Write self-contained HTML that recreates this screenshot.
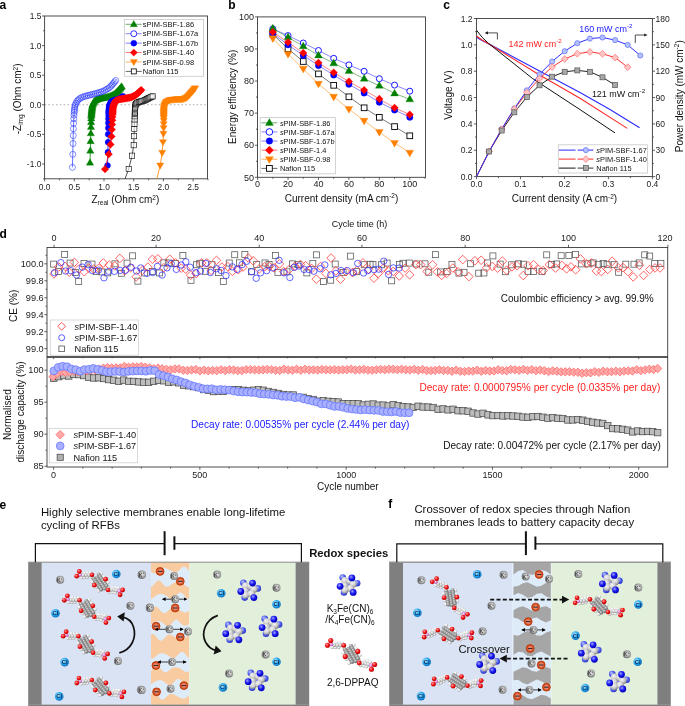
<!DOCTYPE html>
<html><head><meta charset="utf-8"><title>Figure</title>
<style>
html,body{margin:0;padding:0;background:#fff;}
svg{display:block;will-change:transform;}
svg text{font-family:"Liberation Sans", sans-serif;}
</style></head>
<body>
<svg width="685" height="706" viewBox="0 0 685 706">
<defs>
<radialGradient id="gK" cx="0.55" cy="0.45" r="0.65"><stop offset="0" stop-color="#e8e8e8"/><stop offset="0.5" stop-color="#b0b0b0"/><stop offset="1" stop-color="#505050"/></radialGradient>
<radialGradient id="gCl" cx="0.38" cy="0.35" r="0.7"><stop offset="0" stop-color="#b8e8ff"/><stop offset="0.5" stop-color="#2aa8f0"/><stop offset="1" stop-color="#0a6fc0"/></radialGradient>
<radialGradient id="gS" cx="0.5" cy="0.5" r="0.5"><stop offset="0" stop-color="#f6b0a0"/><stop offset="0.55" stop-color="#e87050"/><stop offset="1" stop-color="#b83808"/></radialGradient>
<radialGradient id="gC" cx="0.38" cy="0.35" r="0.7"><stop offset="0" stop-color="#d8d8d8"/><stop offset="0.5" stop-color="#959595"/><stop offset="1" stop-color="#5a5a5a"/></radialGradient>
<radialGradient id="gH" cx="0.38" cy="0.35" r="0.7"><stop offset="0" stop-color="#ffffff"/><stop offset="0.55" stop-color="#e6e6e6"/><stop offset="1" stop-color="#8c8c8c"/></radialGradient>
<radialGradient id="gO" cx="0.38" cy="0.35" r="0.7"><stop offset="0" stop-color="#ffa0a0"/><stop offset="0.5" stop-color="#f01010"/><stop offset="1" stop-color="#b00000"/></radialGradient>
<radialGradient id="gN" cx="0.38" cy="0.35" r="0.7"><stop offset="0" stop-color="#a0a0ff"/><stop offset="0.5" stop-color="#1818f0"/><stop offset="1" stop-color="#0000b0"/></radialGradient>
<radialGradient id="gN2" cx="0.38" cy="0.35" r="0.7"><stop offset="0" stop-color="#c0c8ff"/><stop offset="0.5" stop-color="#5060f0"/><stop offset="1" stop-color="#2830c0"/></radialGradient>
<radialGradient id="gP" cx="0.38" cy="0.35" r="0.7"><stop offset="0" stop-color="#ffd8ff"/><stop offset="0.5" stop-color="#e090e0"/><stop offset="1" stop-color="#a050a0"/></radialGradient>
<radialGradient id="gW" cx="0.38" cy="0.35" r="0.7"><stop offset="0" stop-color="#f4f4f4"/><stop offset="0.55" stop-color="#cfcfcf"/><stop offset="1" stop-color="#808080"/></radialGradient>
<marker id="ah" viewBox="0 0 10 10" refX="9" refY="5" markerWidth="4" markerHeight="4" orient="auto-start-reverse"><path d="M0 0 L10 5 L0 10 Z" fill="#111"/></marker>
<marker id="ah2" viewBox="0 0 10 10" refX="8" refY="5" markerWidth="4.6" markerHeight="4.6" orient="auto-start-reverse"><path d="M0 0 L10 5 L0 10 Z" fill="#000"/></marker>

<clipPath id="clipF"><rect x="512" y="562.2" width="40" height="142.5"/></clipPath>
<clipPath id="clipA"><rect x="44.6" y="16.0" width="162.9" height="162.8"/></clipPath>
<clipPath id="clipC"><rect x="476.5" y="18.5" width="175.89999999999998" height="158.1"/></clipPath>
<clipPath id="clipD1"><rect x="47.0" y="247.5" width="620.7" height="109.5"/></clipPath>
<clipPath id="clipD2"><rect x="47.0" y="357.0" width="620.7" height="110.0"/></clipPath>
</defs>
<rect x="0" y="0" width="685" height="706" fill="#fff"/>
<text x="-0.4" y="8.9" font-size="12" text-anchor="start" fill="#000" font-weight="bold">a</text>
<text x="228.3" y="8.9" font-size="12" text-anchor="start" fill="#000" font-weight="bold">b</text>
<text x="443.3" y="8.9" font-size="12" text-anchor="start" fill="#000" font-weight="bold">c</text>
<text x="-0.4" y="238.1" font-size="12" text-anchor="start" fill="#000" font-weight="bold">d</text>
<text x="-0.4" y="509.1" font-size="12" text-anchor="start" fill="#000" font-weight="bold">e</text>
<text x="388.3" y="508.2" font-size="12" text-anchor="start" fill="#000" font-weight="bold">f</text>
<line x1="44.6" y1="104.8" x2="207.5" y2="104.8" stroke="#b0b0b0" stroke-width="1.1" stroke-dasharray="1.6,2.2"/>
<rect x="44.6" y="16" width="162.9" height="162.8" fill="none" stroke="#3a3a3a" stroke-width="0.9"/>
<line x1="44.6" y1="178.8" x2="44.6" y2="181.4" stroke="#3a3a3a" stroke-width="0.8"/>
<text x="44.6" y="190.2" font-size="8.4" text-anchor="middle" fill="#222">0.0</text>
<line x1="59.45" y1="178.8" x2="59.45" y2="180.3" stroke="#3a3a3a" stroke-width="0.8"/>
<line x1="74.3" y1="178.8" x2="74.3" y2="181.4" stroke="#3a3a3a" stroke-width="0.8"/>
<text x="74.3" y="190.2" font-size="8.4" text-anchor="middle" fill="#222">0.5</text>
<line x1="89.15" y1="178.8" x2="89.15" y2="180.3" stroke="#3a3a3a" stroke-width="0.8"/>
<line x1="104" y1="178.8" x2="104" y2="181.4" stroke="#3a3a3a" stroke-width="0.8"/>
<text x="104" y="190.2" font-size="8.4" text-anchor="middle" fill="#222">1.0</text>
<line x1="118.85" y1="178.8" x2="118.85" y2="180.3" stroke="#3a3a3a" stroke-width="0.8"/>
<line x1="133.7" y1="178.8" x2="133.7" y2="181.4" stroke="#3a3a3a" stroke-width="0.8"/>
<text x="133.7" y="190.2" font-size="8.4" text-anchor="middle" fill="#222">1.5</text>
<line x1="148.55" y1="178.8" x2="148.55" y2="180.3" stroke="#3a3a3a" stroke-width="0.8"/>
<line x1="163.4" y1="178.8" x2="163.4" y2="181.4" stroke="#3a3a3a" stroke-width="0.8"/>
<text x="163.4" y="190.2" font-size="8.4" text-anchor="middle" fill="#222">2.0</text>
<line x1="178.25" y1="178.8" x2="178.25" y2="180.3" stroke="#3a3a3a" stroke-width="0.8"/>
<line x1="193.1" y1="178.8" x2="193.1" y2="181.4" stroke="#3a3a3a" stroke-width="0.8"/>
<text x="193.1" y="190.2" font-size="8.4" text-anchor="middle" fill="#222">2.5</text>
<line x1="207.95" y1="178.8" x2="207.95" y2="180.3" stroke="#3a3a3a" stroke-width="0.8"/>
<line x1="43.1" y1="178.8" x2="44.6" y2="178.8" stroke="#3a3a3a" stroke-width="0.8"/>
<line x1="42" y1="164" x2="44.6" y2="164" stroke="#3a3a3a" stroke-width="0.8"/>
<text x="41.3" y="167" font-size="8.4" text-anchor="end" fill="#222">-1.0</text>
<line x1="43.1" y1="149.2" x2="44.6" y2="149.2" stroke="#3a3a3a" stroke-width="0.8"/>
<line x1="42" y1="134.4" x2="44.6" y2="134.4" stroke="#3a3a3a" stroke-width="0.8"/>
<text x="41.3" y="137.4" font-size="8.4" text-anchor="end" fill="#222">-0.5</text>
<line x1="43.1" y1="119.6" x2="44.6" y2="119.6" stroke="#3a3a3a" stroke-width="0.8"/>
<line x1="42" y1="104.8" x2="44.6" y2="104.8" stroke="#3a3a3a" stroke-width="0.8"/>
<text x="41.3" y="107.8" font-size="8.4" text-anchor="end" fill="#222">0.0</text>
<line x1="43.1" y1="90" x2="44.6" y2="90" stroke="#3a3a3a" stroke-width="0.8"/>
<line x1="42" y1="75.2" x2="44.6" y2="75.2" stroke="#3a3a3a" stroke-width="0.8"/>
<text x="41.3" y="78.2" font-size="8.4" text-anchor="end" fill="#222">0.5</text>
<line x1="43.1" y1="60.4" x2="44.6" y2="60.4" stroke="#3a3a3a" stroke-width="0.8"/>
<line x1="42" y1="45.6" x2="44.6" y2="45.6" stroke="#3a3a3a" stroke-width="0.8"/>
<text x="41.3" y="48.6" font-size="8.4" text-anchor="end" fill="#222">1.0</text>
<line x1="43.1" y1="30.8" x2="44.6" y2="30.8" stroke="#3a3a3a" stroke-width="0.8"/>
<line x1="42" y1="16" x2="44.6" y2="16" stroke="#3a3a3a" stroke-width="0.8"/>
<text x="41.3" y="19" font-size="8.4" text-anchor="end" fill="#222">1.5</text>
<text x="91.5" y="203.4" font-size="10" fill="#111">Z<tspan font-size="6.5" dy="2">real</tspan><tspan dy="-2"> (Ohm cm</tspan><tspan font-size="6.5" dy="-3.5">2</tspan><tspan dy="3.5">)</tspan></text>
<text transform="translate(21.4 134.3) rotate(-90)" font-size="10" fill="#111">-Z<tspan font-size="6.5" dy="2">img</tspan><tspan dy="-2"> (Ohm cm</tspan><tspan font-size="6.5" dy="-3.5">2</tspan><tspan dy="3.5">)</tspan></text>
<g clip-path="url(#clipA)">
<polyline points="90,162.7 90.3,150.8 90.6,141.2 90.8,133.4 91,127 91.1,122.2 91.2,118.5 91.3,116 91.39,114.9 91.48,113.81 91.57,112.71 91.67,111.62 91.76,110.52 91.88,109.43 92.03,108.34 92.19,107.25 92.34,106.16 92.49,105.07 92.98,104.09 93.49,103.11 94,102.14 94.53,101.18 95.49,100.64 96.44,100.09 97.4,99.54 98.4,99.12 99.48,98.9 100.55,98.69 101.63,98.47 102.71,98.26 103.79,98.04 104.86,97.79 105.93,97.52 106.99,97.25 108.06,96.98 109.13,96.72 110.18,96.41 111.16,95.92 112.15,95.43 113.13,94.93 114.12,94.44 115.08,93.92 115.86,93.14 116.63,92.37 117.41,91.59 118.19,90.81 118.97,90.03 119.66,89.18 120.35,88.32 121.03,87.46 121.72,86.6" fill="none" stroke="#008000" stroke-width="0.8"/>
<path d="M90 158.73L93.7 165.13L86.3 165.13Z" fill="#008000" stroke="#008000" stroke-width="0.3"/>
<path d="M90.3 146.83L94 153.23L86.6 153.23Z" fill="#008000" stroke="#008000" stroke-width="0.3"/>
<path d="M90.6 137.23L94.3 143.63L86.9 143.63Z" fill="#008000" stroke="#008000" stroke-width="0.3"/>
<path d="M90.8 129.43L94.5 135.83L87.1 135.83Z" fill="#008000" stroke="#008000" stroke-width="0.3"/>
<path d="M91 123.03L94.7 129.43L87.3 129.43Z" fill="#008000" stroke="#008000" stroke-width="0.3"/>
<path d="M91.1 118.23L94.8 124.63L87.4 124.63Z" fill="#008000" stroke="#008000" stroke-width="0.3"/>
<path d="M91.2 114.53L94.9 120.93L87.5 120.93Z" fill="#008000" stroke="#008000" stroke-width="0.3"/>
<path d="M91.3 112.03L95 118.43L87.6 118.43Z" fill="#008000" stroke="#008000" stroke-width="0.3"/>
<path d="M91.39 110.94L95.09 117.34L87.69 117.34Z" fill="#008000" stroke="#008000" stroke-width="0.3"/>
<path d="M91.48 109.84L95.18 116.24L87.78 116.24Z" fill="#008000" stroke="#008000" stroke-width="0.3"/>
<path d="M91.57 108.74L95.27 115.14L87.87 115.14Z" fill="#008000" stroke="#008000" stroke-width="0.3"/>
<path d="M91.67 107.65L95.37 114.05L87.97 114.05Z" fill="#008000" stroke="#008000" stroke-width="0.3"/>
<path d="M91.76 106.55L95.46 112.95L88.06 112.95Z" fill="#008000" stroke="#008000" stroke-width="0.3"/>
<path d="M91.88 105.46L95.58 111.86L88.18 111.86Z" fill="#008000" stroke="#008000" stroke-width="0.3"/>
<path d="M92.03 104.37L95.73 110.77L88.33 110.77Z" fill="#008000" stroke="#008000" stroke-width="0.3"/>
<path d="M92.19 103.28L95.89 109.68L88.49 109.68Z" fill="#008000" stroke="#008000" stroke-width="0.3"/>
<path d="M92.34 102.19L96.04 108.59L88.64 108.59Z" fill="#008000" stroke="#008000" stroke-width="0.3"/>
<path d="M92.49 101.1L96.19 107.5L88.79 107.5Z" fill="#008000" stroke="#008000" stroke-width="0.3"/>
<path d="M92.98 100.12L96.68 106.52L89.28 106.52Z" fill="#008000" stroke="#008000" stroke-width="0.3"/>
<path d="M93.49 99.15L97.19 105.55L89.79 105.55Z" fill="#008000" stroke="#008000" stroke-width="0.3"/>
<path d="M94 98.17L97.7 104.57L90.3 104.57Z" fill="#008000" stroke="#008000" stroke-width="0.3"/>
<path d="M94.53 97.21L98.23 103.61L90.83 103.61Z" fill="#008000" stroke="#008000" stroke-width="0.3"/>
<path d="M95.49 96.67L99.19 103.07L91.79 103.07Z" fill="#008000" stroke="#008000" stroke-width="0.3"/>
<path d="M96.44 96.12L100.14 102.52L92.74 102.52Z" fill="#008000" stroke="#008000" stroke-width="0.3"/>
<path d="M97.4 95.58L101.1 101.98L93.7 101.98Z" fill="#008000" stroke="#008000" stroke-width="0.3"/>
<path d="M98.4 95.15L102.1 101.55L94.7 101.55Z" fill="#008000" stroke="#008000" stroke-width="0.3"/>
<path d="M99.48 94.94L103.18 101.34L95.78 101.34Z" fill="#008000" stroke="#008000" stroke-width="0.3"/>
<path d="M100.55 94.72L104.25 101.12L96.85 101.12Z" fill="#008000" stroke="#008000" stroke-width="0.3"/>
<path d="M101.63 94.5L105.33 100.91L97.93 100.91Z" fill="#008000" stroke="#008000" stroke-width="0.3"/>
<path d="M102.71 94.29L106.41 100.69L99.01 100.69Z" fill="#008000" stroke="#008000" stroke-width="0.3"/>
<path d="M103.79 94.07L107.49 100.47L100.09 100.47Z" fill="#008000" stroke="#008000" stroke-width="0.3"/>
<path d="M104.86 93.82L108.56 100.22L101.16 100.22Z" fill="#008000" stroke="#008000" stroke-width="0.3"/>
<path d="M105.93 93.55L109.63 99.95L102.23 99.95Z" fill="#008000" stroke="#008000" stroke-width="0.3"/>
<path d="M106.99 93.28L110.69 99.68L103.29 99.68Z" fill="#008000" stroke="#008000" stroke-width="0.3"/>
<path d="M108.06 93.02L111.76 99.42L104.36 99.42Z" fill="#008000" stroke="#008000" stroke-width="0.3"/>
<path d="M109.13 92.75L112.83 99.15L105.43 99.15Z" fill="#008000" stroke="#008000" stroke-width="0.3"/>
<path d="M110.18 92.44L113.88 98.84L106.48 98.84Z" fill="#008000" stroke="#008000" stroke-width="0.3"/>
<path d="M111.16 91.95L114.86 98.35L107.46 98.35Z" fill="#008000" stroke="#008000" stroke-width="0.3"/>
<path d="M112.15 91.46L115.85 97.86L108.45 97.86Z" fill="#008000" stroke="#008000" stroke-width="0.3"/>
<path d="M113.13 90.97L116.83 97.37L109.43 97.37Z" fill="#008000" stroke="#008000" stroke-width="0.3"/>
<path d="M114.12 90.47L117.82 96.87L110.42 96.87Z" fill="#008000" stroke="#008000" stroke-width="0.3"/>
<path d="M115.08 89.95L118.78 96.35L111.38 96.35Z" fill="#008000" stroke="#008000" stroke-width="0.3"/>
<path d="M115.86 89.17L119.56 95.58L112.16 95.58Z" fill="#008000" stroke="#008000" stroke-width="0.3"/>
<path d="M116.63 88.4L120.33 94.8L112.93 94.8Z" fill="#008000" stroke="#008000" stroke-width="0.3"/>
<path d="M117.41 87.62L121.11 94.02L113.71 94.02Z" fill="#008000" stroke="#008000" stroke-width="0.3"/>
<path d="M118.19 86.84L121.89 93.24L114.49 93.24Z" fill="#008000" stroke="#008000" stroke-width="0.3"/>
<path d="M118.97 86.06L122.67 92.46L115.27 92.46Z" fill="#008000" stroke="#008000" stroke-width="0.3"/>
<path d="M119.66 85.21L123.36 91.61L115.96 91.61Z" fill="#008000" stroke="#008000" stroke-width="0.3"/>
<path d="M120.35 84.35L124.05 90.75L116.65 90.75Z" fill="#008000" stroke="#008000" stroke-width="0.3"/>
<path d="M121.03 83.49L124.73 89.89L117.33 89.89Z" fill="#008000" stroke="#008000" stroke-width="0.3"/>
<path d="M121.72 82.63L125.42 89.03L118.02 89.03Z" fill="#008000" stroke="#008000" stroke-width="0.3"/>
<polyline points="72.4,167.3 72.8,154.3 73,143.5 73.2,135.6 73.4,128.8 73.6,123.2 73.8,118.8 74,115.2 74.2,112.5 74.37,110.61 74.54,108.71 74.83,106.84 75.21,104.98 75.99,103.25 76.77,101.51 77.99,100.11 79.41,98.83 81,97.85 82.74,97.07 84.5,96.38 86.34,95.91 88.19,95.45 90.03,94.99 91.87,94.53 93.72,94.07 95.56,93.61 97.38,93.08 99.2,92.54 101.02,91.99 102.77,91.25 104.52,90.5 106.19,89.61 107.84,88.67 109.4,87.6 110.74,86.26 112.09,84.91 113.31,83.47 114.49,81.97 115.66,80.48" fill="none" stroke="#2030ff" stroke-width="0.7"/>
<circle cx="72.4" cy="167.3" r="3" fill="none" stroke="#2030ff" stroke-width="0.55"/>
<circle cx="72.8" cy="154.3" r="3" fill="none" stroke="#2030ff" stroke-width="0.55"/>
<circle cx="73" cy="143.5" r="3" fill="none" stroke="#2030ff" stroke-width="0.55"/>
<circle cx="73.2" cy="135.6" r="3" fill="none" stroke="#2030ff" stroke-width="0.55"/>
<circle cx="73.4" cy="128.8" r="3" fill="none" stroke="#2030ff" stroke-width="0.55"/>
<circle cx="73.6" cy="123.2" r="3" fill="none" stroke="#2030ff" stroke-width="0.55"/>
<circle cx="73.8" cy="118.8" r="3" fill="none" stroke="#2030ff" stroke-width="0.55"/>
<circle cx="74" cy="115.2" r="3" fill="none" stroke="#2030ff" stroke-width="0.55"/>
<circle cx="74.2" cy="112.5" r="3" fill="none" stroke="#2030ff" stroke-width="0.55"/>
<circle cx="74.37" cy="110.61" r="3" fill="none" stroke="#2030ff" stroke-width="0.55"/>
<circle cx="74.54" cy="108.71" r="3" fill="none" stroke="#2030ff" stroke-width="0.55"/>
<circle cx="74.83" cy="106.84" r="3" fill="none" stroke="#2030ff" stroke-width="0.55"/>
<circle cx="75.21" cy="104.98" r="3" fill="none" stroke="#2030ff" stroke-width="0.55"/>
<circle cx="75.99" cy="103.25" r="3" fill="none" stroke="#2030ff" stroke-width="0.55"/>
<circle cx="76.77" cy="101.51" r="3" fill="none" stroke="#2030ff" stroke-width="0.55"/>
<circle cx="77.99" cy="100.11" r="3" fill="none" stroke="#2030ff" stroke-width="0.55"/>
<circle cx="79.41" cy="98.83" r="3" fill="none" stroke="#2030ff" stroke-width="0.55"/>
<circle cx="81" cy="97.85" r="3" fill="none" stroke="#2030ff" stroke-width="0.55"/>
<circle cx="82.74" cy="97.07" r="3" fill="none" stroke="#2030ff" stroke-width="0.55"/>
<circle cx="84.5" cy="96.38" r="3" fill="none" stroke="#2030ff" stroke-width="0.55"/>
<circle cx="86.34" cy="95.91" r="3" fill="none" stroke="#2030ff" stroke-width="0.55"/>
<circle cx="88.19" cy="95.45" r="3" fill="none" stroke="#2030ff" stroke-width="0.55"/>
<circle cx="90.03" cy="94.99" r="3" fill="none" stroke="#2030ff" stroke-width="0.55"/>
<circle cx="91.87" cy="94.53" r="3" fill="none" stroke="#2030ff" stroke-width="0.55"/>
<circle cx="93.72" cy="94.07" r="3" fill="none" stroke="#2030ff" stroke-width="0.55"/>
<circle cx="95.56" cy="93.61" r="3" fill="none" stroke="#2030ff" stroke-width="0.55"/>
<circle cx="97.38" cy="93.08" r="3" fill="none" stroke="#2030ff" stroke-width="0.55"/>
<circle cx="99.2" cy="92.54" r="3" fill="none" stroke="#2030ff" stroke-width="0.55"/>
<circle cx="101.02" cy="91.99" r="3" fill="none" stroke="#2030ff" stroke-width="0.55"/>
<circle cx="102.77" cy="91.25" r="3" fill="none" stroke="#2030ff" stroke-width="0.55"/>
<circle cx="104.52" cy="90.5" r="3" fill="none" stroke="#2030ff" stroke-width="0.55"/>
<circle cx="106.19" cy="89.61" r="3" fill="none" stroke="#2030ff" stroke-width="0.55"/>
<circle cx="107.84" cy="88.67" r="3" fill="none" stroke="#2030ff" stroke-width="0.55"/>
<circle cx="109.4" cy="87.6" r="3" fill="none" stroke="#2030ff" stroke-width="0.55"/>
<circle cx="110.74" cy="86.26" r="3" fill="none" stroke="#2030ff" stroke-width="0.55"/>
<circle cx="112.09" cy="84.91" r="3" fill="none" stroke="#2030ff" stroke-width="0.55"/>
<circle cx="113.31" cy="83.47" r="3" fill="none" stroke="#2030ff" stroke-width="0.55"/>
<circle cx="114.49" cy="81.97" r="3" fill="none" stroke="#2030ff" stroke-width="0.55"/>
<circle cx="115.66" cy="80.48" r="3" fill="none" stroke="#2030ff" stroke-width="0.55"/>
<polyline points="107.5,165.6 107.9,152.2 108.1,142.3 108.2,134.2 108.3,128 108.4,123 108.5,119 108.6,116 108.7,113.5 108.75,112.4 108.8,111.3 108.85,110.2 108.9,109.1 109.05,108.02 109.21,106.93 109.37,105.84 109.62,104.78 110.17,103.83 110.72,102.87 111.26,101.92 112.07,101.26 113.08,100.82 114.09,100.39 115.11,99.97 116.18,99.71 117.24,99.44 118.31,99.17 119.33,98.8 120.28,98.23 121.22,97.67 122.14,97.07 122.94,96.32" fill="none" stroke="#0000FF" stroke-width="0.8"/>
<circle cx="107.5" cy="165.6" r="3" fill="#0000FF" stroke="#0000FF" stroke-width="0.3"/>
<circle cx="107.9" cy="152.2" r="3" fill="#0000FF" stroke="#0000FF" stroke-width="0.3"/>
<circle cx="108.1" cy="142.3" r="3" fill="#0000FF" stroke="#0000FF" stroke-width="0.3"/>
<circle cx="108.2" cy="134.2" r="3" fill="#0000FF" stroke="#0000FF" stroke-width="0.3"/>
<circle cx="108.3" cy="128" r="3" fill="#0000FF" stroke="#0000FF" stroke-width="0.3"/>
<circle cx="108.4" cy="123" r="3" fill="#0000FF" stroke="#0000FF" stroke-width="0.3"/>
<circle cx="108.5" cy="119" r="3" fill="#0000FF" stroke="#0000FF" stroke-width="0.3"/>
<circle cx="108.6" cy="116" r="3" fill="#0000FF" stroke="#0000FF" stroke-width="0.3"/>
<circle cx="108.7" cy="113.5" r="3" fill="#0000FF" stroke="#0000FF" stroke-width="0.3"/>
<circle cx="108.75" cy="112.4" r="3" fill="#0000FF" stroke="#0000FF" stroke-width="0.3"/>
<circle cx="108.8" cy="111.3" r="3" fill="#0000FF" stroke="#0000FF" stroke-width="0.3"/>
<circle cx="108.85" cy="110.2" r="3" fill="#0000FF" stroke="#0000FF" stroke-width="0.3"/>
<circle cx="108.9" cy="109.1" r="3" fill="#0000FF" stroke="#0000FF" stroke-width="0.3"/>
<circle cx="109.05" cy="108.02" r="3" fill="#0000FF" stroke="#0000FF" stroke-width="0.3"/>
<circle cx="109.21" cy="106.93" r="3" fill="#0000FF" stroke="#0000FF" stroke-width="0.3"/>
<circle cx="109.37" cy="105.84" r="3" fill="#0000FF" stroke="#0000FF" stroke-width="0.3"/>
<circle cx="109.62" cy="104.78" r="3" fill="#0000FF" stroke="#0000FF" stroke-width="0.3"/>
<circle cx="110.17" cy="103.83" r="3" fill="#0000FF" stroke="#0000FF" stroke-width="0.3"/>
<circle cx="110.72" cy="102.87" r="3" fill="#0000FF" stroke="#0000FF" stroke-width="0.3"/>
<circle cx="111.26" cy="101.92" r="3" fill="#0000FF" stroke="#0000FF" stroke-width="0.3"/>
<circle cx="112.07" cy="101.26" r="3" fill="#0000FF" stroke="#0000FF" stroke-width="0.3"/>
<circle cx="113.08" cy="100.82" r="3" fill="#0000FF" stroke="#0000FF" stroke-width="0.3"/>
<circle cx="114.09" cy="100.39" r="3" fill="#0000FF" stroke="#0000FF" stroke-width="0.3"/>
<circle cx="115.11" cy="99.97" r="3" fill="#0000FF" stroke="#0000FF" stroke-width="0.3"/>
<circle cx="116.18" cy="99.71" r="3" fill="#0000FF" stroke="#0000FF" stroke-width="0.3"/>
<circle cx="117.24" cy="99.44" r="3" fill="#0000FF" stroke="#0000FF" stroke-width="0.3"/>
<circle cx="118.31" cy="99.17" r="3" fill="#0000FF" stroke="#0000FF" stroke-width="0.3"/>
<circle cx="119.33" cy="98.8" r="3" fill="#0000FF" stroke="#0000FF" stroke-width="0.3"/>
<circle cx="120.28" cy="98.23" r="3" fill="#0000FF" stroke="#0000FF" stroke-width="0.3"/>
<circle cx="121.22" cy="97.67" r="3" fill="#0000FF" stroke="#0000FF" stroke-width="0.3"/>
<circle cx="122.14" cy="97.07" r="3" fill="#0000FF" stroke="#0000FF" stroke-width="0.3"/>
<circle cx="122.94" cy="96.32" r="3" fill="#0000FF" stroke="#0000FF" stroke-width="0.3"/>
<polyline points="105,169.2 108.7,154.2 110.5,144.4 111.5,136.4 111.8,129.6 112.1,124.5 112.3,120.3 112.4,117 112.5,114.5 112.56,113.4 112.62,112.3 112.68,111.2 112.74,110.11 112.8,109.01 112.99,107.92 113.18,106.84 113.37,105.76 113.65,104.7 114.14,103.72 114.63,102.74 115.12,101.75 115.74,100.89 116.74,100.44 117.74,99.98 118.74,99.52 119.8,99.27 120.88,99.09 121.97,98.91 123.05,98.72 124.14,98.54 125.22,98.36 126.31,98.18 127.39,98 128.48,97.82 129.56,97.64 130.65,97.46 131.67,97.07 132.66,96.59 133.65,96.11 134.63,95.62 135.6,95.11 136.45,94.41 137.3,93.71 138.15,93.01 138.99,92.31 139.76,91.52 140.52,90.72 141.29,89.93" fill="none" stroke="#FF0000" stroke-width="0.8"/>
<path d="M105 165.4L108.8 169.2L105 173L101.2 169.2Z" fill="#FF0000" stroke="#FF0000" stroke-width="0.3"/>
<path d="M108.7 150.4L112.5 154.2L108.7 158L104.9 154.2Z" fill="#FF0000" stroke="#FF0000" stroke-width="0.3"/>
<path d="M110.5 140.6L114.3 144.4L110.5 148.2L106.7 144.4Z" fill="#FF0000" stroke="#FF0000" stroke-width="0.3"/>
<path d="M111.5 132.6L115.3 136.4L111.5 140.2L107.7 136.4Z" fill="#FF0000" stroke="#FF0000" stroke-width="0.3"/>
<path d="M111.8 125.8L115.6 129.6L111.8 133.4L108 129.6Z" fill="#FF0000" stroke="#FF0000" stroke-width="0.3"/>
<path d="M112.1 120.7L115.9 124.5L112.1 128.3L108.3 124.5Z" fill="#FF0000" stroke="#FF0000" stroke-width="0.3"/>
<path d="M112.3 116.5L116.1 120.3L112.3 124.1L108.5 120.3Z" fill="#FF0000" stroke="#FF0000" stroke-width="0.3"/>
<path d="M112.4 113.2L116.2 117L112.4 120.8L108.6 117Z" fill="#FF0000" stroke="#FF0000" stroke-width="0.3"/>
<path d="M112.5 110.7L116.3 114.5L112.5 118.3L108.7 114.5Z" fill="#FF0000" stroke="#FF0000" stroke-width="0.3"/>
<path d="M112.56 109.6L116.36 113.4L112.56 117.2L108.76 113.4Z" fill="#FF0000" stroke="#FF0000" stroke-width="0.3"/>
<path d="M112.62 108.5L116.42 112.3L112.62 116.1L108.82 112.3Z" fill="#FF0000" stroke="#FF0000" stroke-width="0.3"/>
<path d="M112.68 107.4L116.48 111.2L112.68 115L108.88 111.2Z" fill="#FF0000" stroke="#FF0000" stroke-width="0.3"/>
<path d="M112.74 106.31L116.54 110.11L112.74 113.91L108.94 110.11Z" fill="#FF0000" stroke="#FF0000" stroke-width="0.3"/>
<path d="M112.8 105.21L116.6 109.01L112.8 112.81L109 109.01Z" fill="#FF0000" stroke="#FF0000" stroke-width="0.3"/>
<path d="M112.99 104.12L116.79 107.92L112.99 111.72L109.19 107.92Z" fill="#FF0000" stroke="#FF0000" stroke-width="0.3"/>
<path d="M113.18 103.04L116.98 106.84L113.18 110.64L109.38 106.84Z" fill="#FF0000" stroke="#FF0000" stroke-width="0.3"/>
<path d="M113.37 101.96L117.17 105.76L113.37 109.56L109.57 105.76Z" fill="#FF0000" stroke="#FF0000" stroke-width="0.3"/>
<path d="M113.65 100.9L117.45 104.7L113.65 108.5L109.85 104.7Z" fill="#FF0000" stroke="#FF0000" stroke-width="0.3"/>
<path d="M114.14 99.92L117.94 103.72L114.14 107.52L110.34 103.72Z" fill="#FF0000" stroke="#FF0000" stroke-width="0.3"/>
<path d="M114.63 98.94L118.43 102.74L114.63 106.54L110.83 102.74Z" fill="#FF0000" stroke="#FF0000" stroke-width="0.3"/>
<path d="M115.12 97.95L118.92 101.75L115.12 105.55L111.32 101.75Z" fill="#FF0000" stroke="#FF0000" stroke-width="0.3"/>
<path d="M115.74 97.09L119.54 100.89L115.74 104.69L111.94 100.89Z" fill="#FF0000" stroke="#FF0000" stroke-width="0.3"/>
<path d="M116.74 96.64L120.54 100.44L116.74 104.24L112.94 100.44Z" fill="#FF0000" stroke="#FF0000" stroke-width="0.3"/>
<path d="M117.74 96.18L121.54 99.98L117.74 103.78L113.94 99.98Z" fill="#FF0000" stroke="#FF0000" stroke-width="0.3"/>
<path d="M118.74 95.72L122.54 99.52L118.74 103.32L114.94 99.52Z" fill="#FF0000" stroke="#FF0000" stroke-width="0.3"/>
<path d="M119.8 95.47L123.6 99.27L119.8 103.07L116 99.27Z" fill="#FF0000" stroke="#FF0000" stroke-width="0.3"/>
<path d="M120.88 95.29L124.68 99.09L120.88 102.89L117.08 99.09Z" fill="#FF0000" stroke="#FF0000" stroke-width="0.3"/>
<path d="M121.97 95.11L125.77 98.91L121.97 102.71L118.17 98.91Z" fill="#FF0000" stroke="#FF0000" stroke-width="0.3"/>
<path d="M123.05 94.92L126.85 98.72L123.05 102.52L119.25 98.72Z" fill="#FF0000" stroke="#FF0000" stroke-width="0.3"/>
<path d="M124.14 94.74L127.94 98.54L124.14 102.34L120.34 98.54Z" fill="#FF0000" stroke="#FF0000" stroke-width="0.3"/>
<path d="M125.22 94.56L129.02 98.36L125.22 102.16L121.42 98.36Z" fill="#FF0000" stroke="#FF0000" stroke-width="0.3"/>
<path d="M126.31 94.38L130.11 98.18L126.31 101.98L122.51 98.18Z" fill="#FF0000" stroke="#FF0000" stroke-width="0.3"/>
<path d="M127.39 94.2L131.19 98L127.39 101.8L123.59 98Z" fill="#FF0000" stroke="#FF0000" stroke-width="0.3"/>
<path d="M128.48 94.02L132.28 97.82L128.48 101.62L124.68 97.82Z" fill="#FF0000" stroke="#FF0000" stroke-width="0.3"/>
<path d="M129.56 93.84L133.36 97.64L129.56 101.44L125.76 97.64Z" fill="#FF0000" stroke="#FF0000" stroke-width="0.3"/>
<path d="M130.65 93.66L134.45 97.46L130.65 101.26L126.85 97.46Z" fill="#FF0000" stroke="#FF0000" stroke-width="0.3"/>
<path d="M131.67 93.27L135.47 97.07L131.67 100.87L127.87 97.07Z" fill="#FF0000" stroke="#FF0000" stroke-width="0.3"/>
<path d="M132.66 92.79L136.46 96.59L132.66 100.39L128.86 96.59Z" fill="#FF0000" stroke="#FF0000" stroke-width="0.3"/>
<path d="M133.65 92.31L137.45 96.11L133.65 99.91L129.85 96.11Z" fill="#FF0000" stroke="#FF0000" stroke-width="0.3"/>
<path d="M134.63 91.82L138.43 95.62L134.63 99.42L130.83 95.62Z" fill="#FF0000" stroke="#FF0000" stroke-width="0.3"/>
<path d="M135.6 91.31L139.4 95.11L135.6 98.91L131.8 95.11Z" fill="#FF0000" stroke="#FF0000" stroke-width="0.3"/>
<path d="M136.45 90.61L140.25 94.41L136.45 98.21L132.65 94.41Z" fill="#FF0000" stroke="#FF0000" stroke-width="0.3"/>
<path d="M137.3 89.91L141.1 93.71L137.3 97.51L133.5 93.71Z" fill="#FF0000" stroke="#FF0000" stroke-width="0.3"/>
<path d="M138.15 89.21L141.95 93.01L138.15 96.81L134.35 93.01Z" fill="#FF0000" stroke="#FF0000" stroke-width="0.3"/>
<path d="M138.99 88.51L142.79 92.31L138.99 96.11L135.19 92.31Z" fill="#FF0000" stroke="#FF0000" stroke-width="0.3"/>
<path d="M139.76 87.72L143.56 91.52L139.76 95.32L135.96 91.52Z" fill="#FF0000" stroke="#FF0000" stroke-width="0.3"/>
<path d="M140.52 86.92L144.32 90.72L140.52 94.52L136.72 90.72Z" fill="#FF0000" stroke="#FF0000" stroke-width="0.3"/>
<path d="M141.29 86.13L145.09 89.93L141.29 93.73L137.49 89.93Z" fill="#FF0000" stroke="#FF0000" stroke-width="0.3"/>
<polyline points="156.7,179.5 160.2,165.3 162.2,152.6 163,142 163.4,133.6 163.6,128 163.7,124 163.8,120.6 163.7,118 163.71,116.9 163.73,115.8 163.74,114.7 163.75,113.6 163.77,112.5 163.78,111.4 163.8,110.3 163.89,109.21 164.01,108.11 164.13,107.02 164.25,105.93 164.61,104.9 165.11,103.92 165.61,102.95 166.11,101.97 167.01,101.38 167.98,100.86 168.95,100.35 169.93,99.84 171.01,99.7 172.11,99.59 173.2,99.48 174.3,99.37 175.39,99.26 176.49,99.2 177.59,99.2 178.69,99.2 179.79,99.2 180.89,99.2 181.99,99.2 183.03,98.84 184.06,98.47 185.1,98.1 186.13,97.73 187,97.09 187.76,96.3 188.53,95.51 189.3,94.72 190.06,93.93 190.78,93.1 191.49,92.26 192.21,91.43 192.92,90.59 193.65,89.76 194.38,88.94 195.1,88.11" fill="none" stroke="#FF8000" stroke-width="0.8"/>
<path d="M160.2 169.16L163.8 162.93L156.6 162.93Z" fill="#FF8000" stroke="#FF8000" stroke-width="0.3"/>
<path d="M162.2 156.46L165.8 150.23L158.6 150.23Z" fill="#FF8000" stroke="#FF8000" stroke-width="0.3"/>
<path d="M163 145.86L166.6 139.63L159.4 139.63Z" fill="#FF8000" stroke="#FF8000" stroke-width="0.3"/>
<path d="M163.4 137.46L167 131.23L159.8 131.23Z" fill="#FF8000" stroke="#FF8000" stroke-width="0.3"/>
<path d="M163.6 131.86L167.2 125.63L160 125.63Z" fill="#FF8000" stroke="#FF8000" stroke-width="0.3"/>
<path d="M163.7 127.86L167.3 121.63L160.1 121.63Z" fill="#FF8000" stroke="#FF8000" stroke-width="0.3"/>
<path d="M163.8 124.46L167.4 118.23L160.2 118.23Z" fill="#FF8000" stroke="#FF8000" stroke-width="0.3"/>
<path d="M163.7 121.86L167.3 115.63L160.1 115.63Z" fill="#FF8000" stroke="#FF8000" stroke-width="0.3"/>
<path d="M163.71 120.76L167.31 114.53L160.11 114.53Z" fill="#FF8000" stroke="#FF8000" stroke-width="0.3"/>
<path d="M163.73 119.66L167.33 113.43L160.13 113.43Z" fill="#FF8000" stroke="#FF8000" stroke-width="0.3"/>
<path d="M163.74 118.56L167.34 112.33L160.14 112.33Z" fill="#FF8000" stroke="#FF8000" stroke-width="0.3"/>
<path d="M163.75 117.46L167.35 111.23L160.15 111.23Z" fill="#FF8000" stroke="#FF8000" stroke-width="0.3"/>
<path d="M163.77 116.36L167.37 110.13L160.17 110.13Z" fill="#FF8000" stroke="#FF8000" stroke-width="0.3"/>
<path d="M163.78 115.26L167.38 109.03L160.18 109.03Z" fill="#FF8000" stroke="#FF8000" stroke-width="0.3"/>
<path d="M163.8 114.16L167.4 107.93L160.2 107.93Z" fill="#FF8000" stroke="#FF8000" stroke-width="0.3"/>
<path d="M163.89 113.07L167.49 106.84L160.29 106.84Z" fill="#FF8000" stroke="#FF8000" stroke-width="0.3"/>
<path d="M164.01 111.97L167.61 105.75L160.41 105.75Z" fill="#FF8000" stroke="#FF8000" stroke-width="0.3"/>
<path d="M164.13 110.88L167.73 104.65L160.53 104.65Z" fill="#FF8000" stroke="#FF8000" stroke-width="0.3"/>
<path d="M164.25 109.79L167.85 103.56L160.65 103.56Z" fill="#FF8000" stroke="#FF8000" stroke-width="0.3"/>
<path d="M164.61 108.76L168.21 102.54L161.01 102.54Z" fill="#FF8000" stroke="#FF8000" stroke-width="0.3"/>
<path d="M165.11 107.79L168.71 101.56L161.51 101.56Z" fill="#FF8000" stroke="#FF8000" stroke-width="0.3"/>
<path d="M165.61 106.81L169.21 100.58L162.01 100.58Z" fill="#FF8000" stroke="#FF8000" stroke-width="0.3"/>
<path d="M166.11 105.83L169.71 99.6L162.51 99.6Z" fill="#FF8000" stroke="#FF8000" stroke-width="0.3"/>
<path d="M167.01 105.24L170.61 99.01L163.41 99.01Z" fill="#FF8000" stroke="#FF8000" stroke-width="0.3"/>
<path d="M167.98 104.72L171.58 98.5L164.38 98.5Z" fill="#FF8000" stroke="#FF8000" stroke-width="0.3"/>
<path d="M168.95 104.21L172.55 97.98L165.35 97.98Z" fill="#FF8000" stroke="#FF8000" stroke-width="0.3"/>
<path d="M169.93 103.7L173.53 97.47L166.33 97.47Z" fill="#FF8000" stroke="#FF8000" stroke-width="0.3"/>
<path d="M171.01 103.56L174.61 97.33L167.41 97.33Z" fill="#FF8000" stroke="#FF8000" stroke-width="0.3"/>
<path d="M172.11 103.45L175.71 97.22L168.51 97.22Z" fill="#FF8000" stroke="#FF8000" stroke-width="0.3"/>
<path d="M173.2 103.34L176.8 97.11L169.6 97.11Z" fill="#FF8000" stroke="#FF8000" stroke-width="0.3"/>
<path d="M174.3 103.23L177.9 97L170.7 97Z" fill="#FF8000" stroke="#FF8000" stroke-width="0.3"/>
<path d="M175.39 103.12L178.99 96.89L171.79 96.89Z" fill="#FF8000" stroke="#FF8000" stroke-width="0.3"/>
<path d="M176.49 103.06L180.09 96.83L172.89 96.83Z" fill="#FF8000" stroke="#FF8000" stroke-width="0.3"/>
<path d="M177.59 103.06L181.19 96.83L173.99 96.83Z" fill="#FF8000" stroke="#FF8000" stroke-width="0.3"/>
<path d="M178.69 103.06L182.29 96.83L175.09 96.83Z" fill="#FF8000" stroke="#FF8000" stroke-width="0.3"/>
<path d="M179.79 103.06L183.39 96.83L176.19 96.83Z" fill="#FF8000" stroke="#FF8000" stroke-width="0.3"/>
<path d="M180.89 103.06L184.49 96.83L177.29 96.83Z" fill="#FF8000" stroke="#FF8000" stroke-width="0.3"/>
<path d="M181.99 103.06L185.59 96.83L178.39 96.83Z" fill="#FF8000" stroke="#FF8000" stroke-width="0.3"/>
<path d="M183.03 102.7L186.63 96.47L179.43 96.47Z" fill="#FF8000" stroke="#FF8000" stroke-width="0.3"/>
<path d="M184.06 102.33L187.66 96.1L180.46 96.1Z" fill="#FF8000" stroke="#FF8000" stroke-width="0.3"/>
<path d="M185.1 101.96L188.7 95.73L181.5 95.73Z" fill="#FF8000" stroke="#FF8000" stroke-width="0.3"/>
<path d="M186.13 101.59L189.73 95.36L182.53 95.36Z" fill="#FF8000" stroke="#FF8000" stroke-width="0.3"/>
<path d="M187 100.95L190.6 94.72L183.4 94.72Z" fill="#FF8000" stroke="#FF8000" stroke-width="0.3"/>
<path d="M187.76 100.16L191.36 93.93L184.16 93.93Z" fill="#FF8000" stroke="#FF8000" stroke-width="0.3"/>
<path d="M188.53 99.37L192.13 93.15L184.93 93.15Z" fill="#FF8000" stroke="#FF8000" stroke-width="0.3"/>
<path d="M189.3 98.58L192.9 92.36L185.7 92.36Z" fill="#FF8000" stroke="#FF8000" stroke-width="0.3"/>
<path d="M190.06 97.79L193.66 91.56L186.46 91.56Z" fill="#FF8000" stroke="#FF8000" stroke-width="0.3"/>
<path d="M190.78 96.96L194.38 90.73L187.18 90.73Z" fill="#FF8000" stroke="#FF8000" stroke-width="0.3"/>
<path d="M191.49 96.12L195.09 89.89L187.89 89.89Z" fill="#FF8000" stroke="#FF8000" stroke-width="0.3"/>
<path d="M192.21 95.29L195.81 89.06L188.61 89.06Z" fill="#FF8000" stroke="#FF8000" stroke-width="0.3"/>
<path d="M192.92 94.45L196.52 88.22L189.32 88.22Z" fill="#FF8000" stroke="#FF8000" stroke-width="0.3"/>
<path d="M193.65 93.62L197.25 87.4L190.05 87.4Z" fill="#FF8000" stroke="#FF8000" stroke-width="0.3"/>
<path d="M194.38 92.8L197.98 86.57L190.78 86.57Z" fill="#FF8000" stroke="#FF8000" stroke-width="0.3"/>
<path d="M195.1 91.97L198.7 85.74L191.5 85.74Z" fill="#FF8000" stroke="#FF8000" stroke-width="0.3"/>
<polyline points="124.8,179.5 128.7,168.9 132.1,155.7 133.7,145.2 134.1,136.2 134.3,128.9 134.5,123.7 134.6,119.5 134.7,116.3 134.8,114 134.84,112.75 134.88,111.5 134.92,110.25 134.97,109 135.04,107.76 135.25,106.52 135.46,105.29 135.9,104.17 136.73,103.24 137.68,102.49 138.88,102.13 140.08,101.78 141.28,101.43 142.48,101.09 143.67,100.72 144.81,100.2 145.95,99.68 147.08,99.15 148.17,98.54 149.25,97.92 150.36,97.34 151.5,96.83 152.64,96.32" fill="none" stroke="#000" stroke-width="0.7"/>
<rect x="126.1" y="166.3" width="5.2" height="5.2" fill="rgba(255,255,255,0.6)" stroke="#000" stroke-width="0.6"/>
<rect x="129.5" y="153.1" width="5.2" height="5.2" fill="rgba(255,255,255,0.6)" stroke="#000" stroke-width="0.6"/>
<rect x="131.1" y="142.6" width="5.2" height="5.2" fill="rgba(255,255,255,0.6)" stroke="#000" stroke-width="0.6"/>
<rect x="131.5" y="133.6" width="5.2" height="5.2" fill="rgba(255,255,255,0.6)" stroke="#000" stroke-width="0.6"/>
<rect x="131.7" y="126.3" width="5.2" height="5.2" fill="rgba(255,255,255,0.6)" stroke="#000" stroke-width="0.6"/>
<rect x="131.9" y="121.1" width="5.2" height="5.2" fill="rgba(255,255,255,0.6)" stroke="#000" stroke-width="0.6"/>
<rect x="132" y="116.9" width="5.2" height="5.2" fill="rgba(255,255,255,0.6)" stroke="#000" stroke-width="0.6"/>
<rect x="132.1" y="113.7" width="5.2" height="5.2" fill="rgba(255,255,255,0.6)" stroke="#000" stroke-width="0.6"/>
<rect x="132.2" y="111.4" width="5.2" height="5.2" fill="rgba(255,255,255,0.6)" stroke="#000" stroke-width="0.6"/>
<rect x="132.24" y="110.15" width="5.2" height="5.2" fill="rgba(255,255,255,0.6)" stroke="#000" stroke-width="0.6"/>
<rect x="132.28" y="108.9" width="5.2" height="5.2" fill="rgba(255,255,255,0.6)" stroke="#000" stroke-width="0.6"/>
<rect x="132.32" y="107.65" width="5.2" height="5.2" fill="rgba(255,255,255,0.6)" stroke="#000" stroke-width="0.6"/>
<rect x="132.37" y="106.4" width="5.2" height="5.2" fill="rgba(255,255,255,0.6)" stroke="#000" stroke-width="0.6"/>
<rect x="132.44" y="105.16" width="5.2" height="5.2" fill="rgba(255,255,255,0.6)" stroke="#000" stroke-width="0.6"/>
<rect x="132.65" y="103.92" width="5.2" height="5.2" fill="rgba(255,255,255,0.6)" stroke="#000" stroke-width="0.6"/>
<rect x="132.86" y="102.69" width="5.2" height="5.2" fill="rgba(255,255,255,0.6)" stroke="#000" stroke-width="0.6"/>
<rect x="133.3" y="101.57" width="5.2" height="5.2" fill="rgba(255,255,255,0.6)" stroke="#000" stroke-width="0.6"/>
<rect x="134.13" y="100.64" width="5.2" height="5.2" fill="rgba(255,255,255,0.6)" stroke="#000" stroke-width="0.6"/>
<rect x="135.08" y="99.89" width="5.2" height="5.2" fill="rgba(255,255,255,0.6)" stroke="#000" stroke-width="0.6"/>
<rect x="136.28" y="99.53" width="5.2" height="5.2" fill="rgba(255,255,255,0.6)" stroke="#000" stroke-width="0.6"/>
<rect x="137.48" y="99.18" width="5.2" height="5.2" fill="rgba(255,255,255,0.6)" stroke="#000" stroke-width="0.6"/>
<rect x="138.68" y="98.83" width="5.2" height="5.2" fill="rgba(255,255,255,0.6)" stroke="#000" stroke-width="0.6"/>
<rect x="139.88" y="98.49" width="5.2" height="5.2" fill="rgba(255,255,255,0.6)" stroke="#000" stroke-width="0.6"/>
<rect x="141.07" y="98.12" width="5.2" height="5.2" fill="rgba(255,255,255,0.6)" stroke="#000" stroke-width="0.6"/>
<rect x="142.21" y="97.6" width="5.2" height="5.2" fill="rgba(255,255,255,0.6)" stroke="#000" stroke-width="0.6"/>
<rect x="143.35" y="97.08" width="5.2" height="5.2" fill="rgba(255,255,255,0.6)" stroke="#000" stroke-width="0.6"/>
<rect x="144.48" y="96.55" width="5.2" height="5.2" fill="rgba(255,255,255,0.6)" stroke="#000" stroke-width="0.6"/>
<rect x="145.57" y="95.94" width="5.2" height="5.2" fill="rgba(255,255,255,0.6)" stroke="#000" stroke-width="0.6"/>
<rect x="146.65" y="95.32" width="5.2" height="5.2" fill="rgba(255,255,255,0.6)" stroke="#000" stroke-width="0.6"/>
<rect x="147.76" y="94.74" width="5.2" height="5.2" fill="rgba(255,255,255,0.6)" stroke="#000" stroke-width="0.6"/>
<rect x="148.9" y="94.23" width="5.2" height="5.2" fill="rgba(255,255,255,0.6)" stroke="#000" stroke-width="0.6"/>
<rect x="150.04" y="93.72" width="5.2" height="5.2" fill="rgba(255,255,255,0.6)" stroke="#000" stroke-width="0.6"/>
</g>
<rect x="124.3" y="19.4" width="79.1" height="56.9" fill="#fff" stroke="#c8c8c8" stroke-width="0.8"/>
<line x1="125.6" y1="24.3" x2="141.8" y2="24.3" stroke="#4a9a4a" stroke-width="0.8"/>
<path d="M133.8 20.44L137.4 26.67L130.2 26.67Z" fill="#008000" stroke="#008000" stroke-width="0.3"/>
<text x="142.8" y="27" font-size="7.5" text-anchor="start" fill="#111">sPIM-SBF-1.86</text>
<line x1="125.6" y1="33.72" x2="141.8" y2="33.72" stroke="#6666ff" stroke-width="0.8"/>
<circle cx="133.8" cy="33.72" r="3" fill="#fff" stroke="#0000FF" stroke-width="0.8"/>
<text x="142.8" y="36.42" font-size="7.5" text-anchor="start" fill="#111">sPIM-SBF-1.67a</text>
<line x1="125.6" y1="43.14" x2="141.8" y2="43.14" stroke="#6666ff" stroke-width="0.8"/>
<circle cx="133.8" cy="43.14" r="3" fill="#0000FF" stroke="#0000FF" stroke-width="0.3"/>
<text x="142.8" y="45.84" font-size="7.5" text-anchor="start" fill="#111">sPIM-SBF-1.67b</text>
<line x1="125.6" y1="52.56" x2="141.8" y2="52.56" stroke="#ff5555" stroke-width="0.8"/>
<path d="M133.8 48.96L137.4 52.56L133.8 56.16L130.2 52.56Z" fill="#FF0000" stroke="#FF0000" stroke-width="0.3"/>
<text x="142.8" y="55.26" font-size="7.5" text-anchor="start" fill="#111">sPIM-SBF-1.40</text>
<line x1="125.6" y1="61.98" x2="141.8" y2="61.98" stroke="#ffa040" stroke-width="0.8"/>
<path d="M133.8 65.84L137.4 59.61L130.2 59.61Z" fill="#FF8000" stroke="#FF8000" stroke-width="0.3"/>
<text x="142.8" y="64.68" font-size="7.5" text-anchor="start" fill="#111">sPIM-SBF-0.98</text>
<line x1="125.6" y1="71.4" x2="141.8" y2="71.4" stroke="#444" stroke-width="0.8"/>
<rect x="131.3" y="68.9" width="5" height="5" fill="#fff" stroke="#000" stroke-width="0.8"/>
<text x="142.8" y="74.1" font-size="7.5" text-anchor="start" fill="#111">Nafion 115</text>
<rect x="257.5" y="16.9" width="168" height="160.4" fill="none" stroke="#3a3a3a" stroke-width="0.9"/>
<line x1="257.6" y1="177.3" x2="257.6" y2="179.9" stroke="#3a3a3a" stroke-width="0.8"/>
<text x="257.6" y="187.3" font-size="9.0" text-anchor="middle" fill="#222">0</text>
<line x1="272.82" y1="177.3" x2="272.82" y2="178.8" stroke="#3a3a3a" stroke-width="0.8"/>
<line x1="288.04" y1="177.3" x2="288.04" y2="179.9" stroke="#3a3a3a" stroke-width="0.8"/>
<text x="288.04" y="187.3" font-size="9.0" text-anchor="middle" fill="#222">20</text>
<line x1="303.25" y1="177.3" x2="303.25" y2="178.8" stroke="#3a3a3a" stroke-width="0.8"/>
<line x1="318.47" y1="177.3" x2="318.47" y2="179.9" stroke="#3a3a3a" stroke-width="0.8"/>
<text x="318.47" y="187.3" font-size="9.0" text-anchor="middle" fill="#222">40</text>
<line x1="333.69" y1="177.3" x2="333.69" y2="178.8" stroke="#3a3a3a" stroke-width="0.8"/>
<line x1="348.91" y1="177.3" x2="348.91" y2="179.9" stroke="#3a3a3a" stroke-width="0.8"/>
<text x="348.91" y="187.3" font-size="9.0" text-anchor="middle" fill="#222">60</text>
<line x1="364.13" y1="177.3" x2="364.13" y2="178.8" stroke="#3a3a3a" stroke-width="0.8"/>
<line x1="379.34" y1="177.3" x2="379.34" y2="179.9" stroke="#3a3a3a" stroke-width="0.8"/>
<text x="379.34" y="187.3" font-size="9.0" text-anchor="middle" fill="#222">80</text>
<line x1="394.56" y1="177.3" x2="394.56" y2="178.8" stroke="#3a3a3a" stroke-width="0.8"/>
<line x1="409.78" y1="177.3" x2="409.78" y2="179.9" stroke="#3a3a3a" stroke-width="0.8"/>
<text x="409.78" y="187.3" font-size="9.0" text-anchor="middle" fill="#222">100</text>
<line x1="425" y1="177.3" x2="425" y2="178.8" stroke="#3a3a3a" stroke-width="0.8"/>
<line x1="254.9" y1="177.3" x2="257.5" y2="177.3" stroke="#3a3a3a" stroke-width="0.8"/>
<text x="254" y="180.5" font-size="9.0" text-anchor="end" fill="#222">50</text>
<line x1="256" y1="161.26" x2="257.5" y2="161.26" stroke="#3a3a3a" stroke-width="0.8"/>
<line x1="254.9" y1="145.22" x2="257.5" y2="145.22" stroke="#3a3a3a" stroke-width="0.8"/>
<text x="254" y="148.42" font-size="9.0" text-anchor="end" fill="#222">60</text>
<line x1="256" y1="129.18" x2="257.5" y2="129.18" stroke="#3a3a3a" stroke-width="0.8"/>
<line x1="254.9" y1="113.14" x2="257.5" y2="113.14" stroke="#3a3a3a" stroke-width="0.8"/>
<text x="254" y="116.34" font-size="9.0" text-anchor="end" fill="#222">70</text>
<line x1="256" y1="97.1" x2="257.5" y2="97.1" stroke="#3a3a3a" stroke-width="0.8"/>
<line x1="254.9" y1="81.06" x2="257.5" y2="81.06" stroke="#3a3a3a" stroke-width="0.8"/>
<text x="254" y="84.26" font-size="9.0" text-anchor="end" fill="#222">80</text>
<line x1="256" y1="65.02" x2="257.5" y2="65.02" stroke="#3a3a3a" stroke-width="0.8"/>
<line x1="254.9" y1="48.98" x2="257.5" y2="48.98" stroke="#3a3a3a" stroke-width="0.8"/>
<text x="254" y="52.18" font-size="9.0" text-anchor="end" fill="#222">90</text>
<line x1="256" y1="32.94" x2="257.5" y2="32.94" stroke="#3a3a3a" stroke-width="0.8"/>
<line x1="254.9" y1="16.9" x2="257.5" y2="16.9" stroke="#3a3a3a" stroke-width="0.8"/>
<text x="254" y="20.1" font-size="9.0" text-anchor="end" fill="#222">100</text>
<text x="341.5" y="201.5" font-size="10" text-anchor="middle" fill="#111">Current density (mA cm<tspan font-size="6.5" dy="-3.5">-2</tspan><tspan dy="3.5">)</tspan></text>
<text x="236.2" y="96.8" font-size="10" text-anchor="middle" fill="#111" transform="rotate(-90 236.2 96.8)">Energy efficiency (%)</text>
<polyline points="272.82,34.2 288.04,48.8 303.25,61.5 318.47,73.9 333.69,85.3 348.91,96.8 364.13,107.8 379.34,117.3 394.56,126.6 409.78,135.8" fill="none" stroke="#444" stroke-width="0.7"/>
<polyline points="272.82,28.8 288.04,35.6 303.25,43 318.47,50.5 333.69,58.3 348.91,64.9 364.13,71.3 379.34,78.7 394.56,85.1 409.78,91.2" fill="none" stroke="#5555ff" stroke-width="0.7"/>
<polyline points="272.82,28.5 288.04,37.3 303.25,46.2 318.47,55.4 333.69,63.3 348.91,70.9 364.13,78.7 379.34,85.7 394.56,93.4 409.78,99.3" fill="none" stroke="#4a9a4a" stroke-width="0.7"/>
<polyline points="272.82,33.5 288.04,44.8 303.25,55.4 318.47,65.6 333.69,75 348.91,84.3 364.13,93 379.34,102.2 394.56,110 409.78,117.3" fill="none" stroke="#5555ff" stroke-width="0.7"/>
<polyline points="272.82,32 288.04,42.3 303.25,52.9 318.47,62.8 333.69,72.5 348.91,81.5 364.13,90.1 379.34,98.9 394.56,107.8 409.78,114.6" fill="none" stroke="#ff5555" stroke-width="0.7"/>
<polyline points="272.82,38.4 288.04,54 303.25,68.9 318.47,83.8 333.69,96.8 348.91,109 364.13,120.7 379.34,132.1 394.56,143.1 409.78,152.7" fill="none" stroke="#ffa040" stroke-width="0.7"/>
<rect x="269.97" y="31.35" width="5.7" height="5.7" fill="#fff" stroke="#000" stroke-width="0.9"/>
<rect x="285.19" y="45.95" width="5.7" height="5.7" fill="#fff" stroke="#000" stroke-width="0.9"/>
<rect x="300.4" y="58.65" width="5.7" height="5.7" fill="#fff" stroke="#000" stroke-width="0.9"/>
<rect x="315.62" y="71.05" width="5.7" height="5.7" fill="#fff" stroke="#000" stroke-width="0.9"/>
<rect x="330.84" y="82.45" width="5.7" height="5.7" fill="#fff" stroke="#000" stroke-width="0.9"/>
<rect x="346.06" y="93.95" width="5.7" height="5.7" fill="#fff" stroke="#000" stroke-width="0.9"/>
<rect x="361.28" y="104.95" width="5.7" height="5.7" fill="#fff" stroke="#000" stroke-width="0.9"/>
<rect x="376.49" y="114.45" width="5.7" height="5.7" fill="#fff" stroke="#000" stroke-width="0.9"/>
<rect x="391.71" y="123.75" width="5.7" height="5.7" fill="#fff" stroke="#000" stroke-width="0.9"/>
<rect x="406.93" y="132.95" width="5.7" height="5.7" fill="#fff" stroke="#000" stroke-width="0.9"/>
<circle cx="272.82" cy="28.8" r="3" fill="#fff" stroke="#0000FF" stroke-width="0.9"/>
<circle cx="288.04" cy="35.6" r="3" fill="#fff" stroke="#0000FF" stroke-width="0.9"/>
<circle cx="303.25" cy="43" r="3" fill="#fff" stroke="#0000FF" stroke-width="0.9"/>
<circle cx="318.47" cy="50.5" r="3" fill="#fff" stroke="#0000FF" stroke-width="0.9"/>
<circle cx="333.69" cy="58.3" r="3" fill="#fff" stroke="#0000FF" stroke-width="0.9"/>
<circle cx="348.91" cy="64.9" r="3" fill="#fff" stroke="#0000FF" stroke-width="0.9"/>
<circle cx="364.13" cy="71.3" r="3" fill="#fff" stroke="#0000FF" stroke-width="0.9"/>
<circle cx="379.34" cy="78.7" r="3" fill="#fff" stroke="#0000FF" stroke-width="0.9"/>
<circle cx="394.56" cy="85.1" r="3" fill="#fff" stroke="#0000FF" stroke-width="0.9"/>
<circle cx="409.78" cy="91.2" r="3" fill="#fff" stroke="#0000FF" stroke-width="0.9"/>
<path d="M272.82 24.32L276.72 31.06L268.92 31.06Z" fill="#008000" stroke="#008000" stroke-width="0.3"/>
<path d="M288.04 33.12L291.94 39.86L284.14 39.86Z" fill="#008000" stroke="#008000" stroke-width="0.3"/>
<path d="M303.25 42.02L307.15 48.76L299.35 48.76Z" fill="#008000" stroke="#008000" stroke-width="0.3"/>
<path d="M318.47 51.22L322.37 57.96L314.57 57.96Z" fill="#008000" stroke="#008000" stroke-width="0.3"/>
<path d="M333.69 59.12L337.59 65.86L329.79 65.86Z" fill="#008000" stroke="#008000" stroke-width="0.3"/>
<path d="M348.91 66.72L352.81 73.46L345.01 73.46Z" fill="#008000" stroke="#008000" stroke-width="0.3"/>
<path d="M364.13 74.52L368.03 81.26L360.23 81.26Z" fill="#008000" stroke="#008000" stroke-width="0.3"/>
<path d="M379.34 81.52L383.24 88.26L375.44 88.26Z" fill="#008000" stroke="#008000" stroke-width="0.3"/>
<path d="M394.56 89.22L398.46 95.96L390.66 95.96Z" fill="#008000" stroke="#008000" stroke-width="0.3"/>
<path d="M409.78 95.12L413.68 101.86L405.88 101.86Z" fill="#008000" stroke="#008000" stroke-width="0.3"/>
<circle cx="272.82" cy="33.5" r="3.2" fill="#0000FF" stroke="#0000FF" stroke-width="0.3"/>
<circle cx="288.04" cy="44.8" r="3.2" fill="#0000FF" stroke="#0000FF" stroke-width="0.3"/>
<circle cx="303.25" cy="55.4" r="3.2" fill="#0000FF" stroke="#0000FF" stroke-width="0.3"/>
<circle cx="318.47" cy="65.6" r="3.2" fill="#0000FF" stroke="#0000FF" stroke-width="0.3"/>
<circle cx="333.69" cy="75" r="3.2" fill="#0000FF" stroke="#0000FF" stroke-width="0.3"/>
<circle cx="348.91" cy="84.3" r="3.2" fill="#0000FF" stroke="#0000FF" stroke-width="0.3"/>
<circle cx="364.13" cy="93" r="3.2" fill="#0000FF" stroke="#0000FF" stroke-width="0.3"/>
<circle cx="379.34" cy="102.2" r="3.2" fill="#0000FF" stroke="#0000FF" stroke-width="0.3"/>
<circle cx="394.56" cy="110" r="3.2" fill="#0000FF" stroke="#0000FF" stroke-width="0.3"/>
<circle cx="409.78" cy="117.3" r="3.2" fill="#0000FF" stroke="#0000FF" stroke-width="0.3"/>
<path d="M272.82 28.2L276.62 32L272.82 35.8L269.02 32Z" fill="#FF0000" stroke="#FF0000" stroke-width="0.3"/>
<path d="M288.04 38.5L291.84 42.3L288.04 46.1L284.24 42.3Z" fill="#FF0000" stroke="#FF0000" stroke-width="0.3"/>
<path d="M303.25 49.1L307.05 52.9L303.25 56.7L299.45 52.9Z" fill="#FF0000" stroke="#FF0000" stroke-width="0.3"/>
<path d="M318.47 59L322.27 62.8L318.47 66.6L314.67 62.8Z" fill="#FF0000" stroke="#FF0000" stroke-width="0.3"/>
<path d="M333.69 68.7L337.49 72.5L333.69 76.3L329.89 72.5Z" fill="#FF0000" stroke="#FF0000" stroke-width="0.3"/>
<path d="M348.91 77.7L352.71 81.5L348.91 85.3L345.11 81.5Z" fill="#FF0000" stroke="#FF0000" stroke-width="0.3"/>
<path d="M364.13 86.3L367.93 90.1L364.13 93.9L360.33 90.1Z" fill="#FF0000" stroke="#FF0000" stroke-width="0.3"/>
<path d="M379.34 95.1L383.14 98.9L379.34 102.7L375.54 98.9Z" fill="#FF0000" stroke="#FF0000" stroke-width="0.3"/>
<path d="M394.56 104L398.36 107.8L394.56 111.6L390.76 107.8Z" fill="#FF0000" stroke="#FF0000" stroke-width="0.3"/>
<path d="M409.78 110.8L413.58 114.6L409.78 118.4L405.98 114.6Z" fill="#FF0000" stroke="#FF0000" stroke-width="0.3"/>
<path d="M272.82 42.58L276.72 35.84L268.92 35.84Z" fill="#FF8000" stroke="#FF8000" stroke-width="0.3"/>
<path d="M288.04 58.18L291.94 51.44L284.14 51.44Z" fill="#FF8000" stroke="#FF8000" stroke-width="0.3"/>
<path d="M303.25 73.08L307.15 66.34L299.35 66.34Z" fill="#FF8000" stroke="#FF8000" stroke-width="0.3"/>
<path d="M318.47 87.98L322.37 81.24L314.57 81.24Z" fill="#FF8000" stroke="#FF8000" stroke-width="0.3"/>
<path d="M333.69 100.98L337.59 94.24L329.79 94.24Z" fill="#FF8000" stroke="#FF8000" stroke-width="0.3"/>
<path d="M348.91 113.18L352.81 106.44L345.01 106.44Z" fill="#FF8000" stroke="#FF8000" stroke-width="0.3"/>
<path d="M364.13 124.88L368.03 118.14L360.23 118.14Z" fill="#FF8000" stroke="#FF8000" stroke-width="0.3"/>
<path d="M379.34 136.28L383.24 129.54L375.44 129.54Z" fill="#FF8000" stroke="#FF8000" stroke-width="0.3"/>
<path d="M394.56 147.28L398.46 140.54L390.66 140.54Z" fill="#FF8000" stroke="#FF8000" stroke-width="0.3"/>
<path d="M409.78 156.88L413.68 150.14L405.88 150.14Z" fill="#FF8000" stroke="#FF8000" stroke-width="0.3"/>
<rect x="260.2" y="117.6" width="75.2" height="56.2" fill="#fff" stroke="#c8c8c8" stroke-width="0.8"/>
<line x1="261.4" y1="122.8" x2="277.4" y2="122.8" stroke="#4a9a4a" stroke-width="0.8"/>
<path d="M269.4 118.51L273.4 125.43L265.4 125.43Z" fill="#008000" stroke="#008000" stroke-width="0.3"/>
<text x="279.9" y="125.5" font-size="7.4" text-anchor="start" fill="#111"><tspan font-style="italic">s</tspan>PIM-SBF-1.86</text>
<line x1="261.4" y1="131.92" x2="277.4" y2="131.92" stroke="#6666ff" stroke-width="0.8"/>
<circle cx="269.4" cy="131.92" r="3.3" fill="#fff" stroke="#0000FF" stroke-width="0.9"/>
<text x="279.9" y="134.62" font-size="7.4" text-anchor="start" fill="#111"><tspan font-style="italic">s</tspan>PIM-SBF-1.67a</text>
<line x1="261.4" y1="141.04" x2="277.4" y2="141.04" stroke="#6666ff" stroke-width="0.8"/>
<circle cx="269.4" cy="141.04" r="3.3" fill="#0000FF" stroke="#0000FF" stroke-width="0.3"/>
<text x="279.9" y="143.74" font-size="7.4" text-anchor="start" fill="#111"><tspan font-style="italic">s</tspan>PIM-SBF-1.67b</text>
<line x1="261.4" y1="150.16" x2="277.4" y2="150.16" stroke="#ff5555" stroke-width="0.8"/>
<path d="M269.4 146.06L273.5 150.16L269.4 154.26L265.3 150.16Z" fill="#FF0000" stroke="#FF0000" stroke-width="0.3"/>
<text x="279.9" y="152.86" font-size="7.4" text-anchor="start" fill="#111"><tspan font-style="italic">s</tspan>PIM-SBF-1.4</text>
<line x1="261.4" y1="159.28" x2="277.4" y2="159.28" stroke="#ffa040" stroke-width="0.8"/>
<path d="M269.4 163.57L273.4 156.65L265.4 156.65Z" fill="#FF8000" stroke="#FF8000" stroke-width="0.3"/>
<text x="279.9" y="161.98" font-size="7.4" text-anchor="start" fill="#111"><tspan font-style="italic">s</tspan>PIM-SBF-0.98</text>
<line x1="261.4" y1="168.4" x2="277.4" y2="168.4" stroke="#444" stroke-width="0.8"/>
<rect x="266.5" y="165.5" width="5.8" height="5.8" fill="#fff" stroke="#000" stroke-width="0.9"/>
<text x="279.9" y="171.1" font-size="7.4" text-anchor="start" fill="#111">Nafion 115</text>
<rect x="476.5" y="18.5" width="175.9" height="158.1" fill="none" stroke="#3a3a3a" stroke-width="0.9"/>
<line x1="476.5" y1="176.6" x2="476.5" y2="179.2" stroke="#3a3a3a" stroke-width="0.8"/>
<text x="476.5" y="187.3" font-size="8.5" text-anchor="middle" fill="#222">0.0</text>
<line x1="498.49" y1="176.6" x2="498.49" y2="178.1" stroke="#3a3a3a" stroke-width="0.8"/>
<line x1="520.48" y1="176.6" x2="520.48" y2="179.2" stroke="#3a3a3a" stroke-width="0.8"/>
<text x="520.48" y="187.3" font-size="8.5" text-anchor="middle" fill="#222">0.1</text>
<line x1="542.46" y1="176.6" x2="542.46" y2="178.1" stroke="#3a3a3a" stroke-width="0.8"/>
<line x1="564.45" y1="176.6" x2="564.45" y2="179.2" stroke="#3a3a3a" stroke-width="0.8"/>
<text x="564.45" y="187.3" font-size="8.5" text-anchor="middle" fill="#222">0.2</text>
<line x1="586.44" y1="176.6" x2="586.44" y2="178.1" stroke="#3a3a3a" stroke-width="0.8"/>
<line x1="608.42" y1="176.6" x2="608.42" y2="179.2" stroke="#3a3a3a" stroke-width="0.8"/>
<text x="608.42" y="187.3" font-size="8.5" text-anchor="middle" fill="#222">0.3</text>
<line x1="630.41" y1="176.6" x2="630.41" y2="178.1" stroke="#3a3a3a" stroke-width="0.8"/>
<line x1="652.4" y1="176.6" x2="652.4" y2="179.2" stroke="#3a3a3a" stroke-width="0.8"/>
<text x="652.4" y="187.3" font-size="8.5" text-anchor="middle" fill="#222">0.4</text>
<line x1="473.9" y1="176.6" x2="476.5" y2="176.6" stroke="#3a3a3a" stroke-width="0.8"/>
<text x="472.6" y="179.6" font-size="8.5" text-anchor="end" fill="#222">0.0</text>
<line x1="475" y1="163.42" x2="476.5" y2="163.42" stroke="#3a3a3a" stroke-width="0.8"/>
<line x1="473.9" y1="150.25" x2="476.5" y2="150.25" stroke="#3a3a3a" stroke-width="0.8"/>
<text x="472.6" y="153.25" font-size="8.5" text-anchor="end" fill="#222">0.2</text>
<line x1="475" y1="137.07" x2="476.5" y2="137.07" stroke="#3a3a3a" stroke-width="0.8"/>
<line x1="473.9" y1="123.9" x2="476.5" y2="123.9" stroke="#3a3a3a" stroke-width="0.8"/>
<text x="472.6" y="126.9" font-size="8.5" text-anchor="end" fill="#222">0.4</text>
<line x1="475" y1="110.72" x2="476.5" y2="110.72" stroke="#3a3a3a" stroke-width="0.8"/>
<line x1="473.9" y1="97.55" x2="476.5" y2="97.55" stroke="#3a3a3a" stroke-width="0.8"/>
<text x="472.6" y="100.55" font-size="8.5" text-anchor="end" fill="#222">0.6</text>
<line x1="475" y1="84.37" x2="476.5" y2="84.37" stroke="#3a3a3a" stroke-width="0.8"/>
<line x1="473.9" y1="71.2" x2="476.5" y2="71.2" stroke="#3a3a3a" stroke-width="0.8"/>
<text x="472.6" y="74.2" font-size="8.5" text-anchor="end" fill="#222">0.8</text>
<line x1="475" y1="58.02" x2="476.5" y2="58.02" stroke="#3a3a3a" stroke-width="0.8"/>
<line x1="473.9" y1="44.85" x2="476.5" y2="44.85" stroke="#3a3a3a" stroke-width="0.8"/>
<text x="472.6" y="47.85" font-size="8.5" text-anchor="end" fill="#222">1.0</text>
<line x1="475" y1="31.67" x2="476.5" y2="31.67" stroke="#3a3a3a" stroke-width="0.8"/>
<line x1="473.9" y1="18.5" x2="476.5" y2="18.5" stroke="#3a3a3a" stroke-width="0.8"/>
<text x="472.6" y="21.5" font-size="8.5" text-anchor="end" fill="#222">1.2</text>
<line x1="652.4" y1="176.6" x2="655" y2="176.6" stroke="#3a3a3a" stroke-width="0.8"/>
<text x="655.6" y="179.6" font-size="8.5" text-anchor="start" fill="#222">0</text>
<line x1="652.4" y1="163.43" x2="653.9" y2="163.43" stroke="#3a3a3a" stroke-width="0.8"/>
<line x1="652.4" y1="150.25" x2="655" y2="150.25" stroke="#3a3a3a" stroke-width="0.8"/>
<text x="655.6" y="153.25" font-size="8.5" text-anchor="start" fill="#222">30</text>
<line x1="652.4" y1="137.08" x2="653.9" y2="137.08" stroke="#3a3a3a" stroke-width="0.8"/>
<line x1="652.4" y1="123.9" x2="655" y2="123.9" stroke="#3a3a3a" stroke-width="0.8"/>
<text x="655.6" y="126.9" font-size="8.5" text-anchor="start" fill="#222">60</text>
<line x1="652.4" y1="110.73" x2="653.9" y2="110.73" stroke="#3a3a3a" stroke-width="0.8"/>
<line x1="652.4" y1="97.55" x2="655" y2="97.55" stroke="#3a3a3a" stroke-width="0.8"/>
<text x="655.6" y="100.55" font-size="8.5" text-anchor="start" fill="#222">90</text>
<line x1="652.4" y1="84.38" x2="653.9" y2="84.38" stroke="#3a3a3a" stroke-width="0.8"/>
<line x1="652.4" y1="71.2" x2="655" y2="71.2" stroke="#3a3a3a" stroke-width="0.8"/>
<text x="655.6" y="74.2" font-size="8.5" text-anchor="start" fill="#222">120</text>
<line x1="652.4" y1="58.03" x2="653.9" y2="58.03" stroke="#3a3a3a" stroke-width="0.8"/>
<line x1="652.4" y1="44.85" x2="655" y2="44.85" stroke="#3a3a3a" stroke-width="0.8"/>
<text x="655.6" y="47.85" font-size="8.5" text-anchor="start" fill="#222">150</text>
<line x1="652.4" y1="31.68" x2="653.9" y2="31.68" stroke="#3a3a3a" stroke-width="0.8"/>
<line x1="652.4" y1="18.51" x2="655" y2="18.51" stroke="#3a3a3a" stroke-width="0.8"/>
<text x="655.6" y="21.51" font-size="8.5" text-anchor="start" fill="#222">180</text>
<text x="564.5" y="202" font-size="10" text-anchor="middle" fill="#111">Current density (A cm<tspan font-size="6.5" dy="-3.5">-2</tspan><tspan dy="3.5">)</tspan></text>
<text x="452" y="95.1" font-size="10" text-anchor="middle" fill="#111" transform="rotate(-90 452 95.1)">Voltage (V)</text>
<text x="682.6" y="96.2" font-size="10" text-anchor="middle" fill="#111" transform="rotate(-90 682.6 96.2)">Power density (mW cm<tspan font-size="6.5" dy="-3.5">-2</tspan><tspan dy="3.5">)</tspan></text>
<polyline points="486.2,32.9 497.4,32.9 497.4,39.5" fill="none" stroke="#222" stroke-width="0.8"/>
<path d="M484.6 32.9 L488 31.3 L488 34.5 Z" fill="#222"/>
<polyline points="635.3,43 635.3,35 645.8,35" fill="none" stroke="#222" stroke-width="0.8"/>
<path d="M647.6 35 L644.2 33.4 L644.2 36.6 Z" fill="#222"/>
<g clip-path="url(#clipC)">
<polyline points="476.5,37.3 482,40.6 488.6,43.7 540,71.3 580,92.6 610,109.5 639.6,127.7" fill="none" stroke="#2a2aff" stroke-width="1.1"/>
<polyline points="476.5,36 482,40 488.6,43.7 540,75.3 580,98.2 627.3,128.4" fill="none" stroke="#ff2a2a" stroke-width="1.1"/>
<polyline points="476.5,30.2 482,37.2 488.6,43.5 532.8,78.7 580,109.6 615,132.9" fill="none" stroke="#111" stroke-width="1.0"/>
</g>
<polyline points="476.5,176.6 489.1,151.5 501.7,130.5 514.3,112.3 526.9,97.1 539.5,85.3 552.1,76.7 564.7,71.8 577.3,70.4 589.9,71.8 602.5,77.3 615.1,85.1" fill="none" stroke="#222" stroke-width="1.0"/>
<polyline points="476.5,176.6 489.1,151.5 501.7,129.3 514.3,109.1 526.9,92.6 539.5,78.5 552.1,67 564.7,59 577.3,53.7 589.9,51.9 602.5,53.8 615.1,57.6 627.7,67.2" fill="none" stroke="#ff3030" stroke-width="1.0"/>
<polyline points="476.5,176.6 489.1,151.5 501.7,129 514.3,108.5 526.9,90.3 539.5,74.4 552.1,61.5 564.7,51.2 577.3,43.2 589.9,38.6 602.5,37.5 615.1,40.1 627.7,44.9 640.3,55.5" fill="none" stroke="#3030ff" stroke-width="1.0"/>
<circle cx="489.1" cy="151.5" r="2.6" fill="#b4c0fa" stroke="#6070ff" stroke-width="0.7"/>
<circle cx="501.7" cy="129" r="2.6" fill="#b4c0fa" stroke="#6070ff" stroke-width="0.7"/>
<circle cx="514.3" cy="108.5" r="2.6" fill="#b4c0fa" stroke="#6070ff" stroke-width="0.7"/>
<circle cx="526.9" cy="90.3" r="2.6" fill="#b4c0fa" stroke="#6070ff" stroke-width="0.7"/>
<circle cx="539.5" cy="74.4" r="2.6" fill="#b4c0fa" stroke="#6070ff" stroke-width="0.7"/>
<circle cx="552.1" cy="61.5" r="2.6" fill="#b4c0fa" stroke="#6070ff" stroke-width="0.7"/>
<circle cx="564.7" cy="51.2" r="2.6" fill="#b4c0fa" stroke="#6070ff" stroke-width="0.7"/>
<circle cx="577.3" cy="43.2" r="2.6" fill="#b4c0fa" stroke="#6070ff" stroke-width="0.7"/>
<circle cx="589.9" cy="38.6" r="2.6" fill="#b4c0fa" stroke="#6070ff" stroke-width="0.7"/>
<circle cx="602.5" cy="37.5" r="2.6" fill="#b4c0fa" stroke="#6070ff" stroke-width="0.7"/>
<circle cx="615.1" cy="40.1" r="2.6" fill="#b4c0fa" stroke="#6070ff" stroke-width="0.7"/>
<circle cx="627.7" cy="44.9" r="2.6" fill="#b4c0fa" stroke="#6070ff" stroke-width="0.7"/>
<circle cx="640.3" cy="55.5" r="2.6" fill="#b4c0fa" stroke="#6070ff" stroke-width="0.7"/>
<path d="M489.1 148.1L492.5 151.5L489.1 154.9L485.7 151.5Z" fill="#ffc4c4" stroke="#ff7070" stroke-width="0.7"/>
<path d="M501.7 125.9L505.1 129.3L501.7 132.7L498.3 129.3Z" fill="#ffc4c4" stroke="#ff7070" stroke-width="0.7"/>
<path d="M514.3 105.7L517.7 109.1L514.3 112.5L510.9 109.1Z" fill="#ffc4c4" stroke="#ff7070" stroke-width="0.7"/>
<path d="M526.9 89.2L530.3 92.6L526.9 96L523.5 92.6Z" fill="#ffc4c4" stroke="#ff7070" stroke-width="0.7"/>
<path d="M539.5 75.1L542.9 78.5L539.5 81.9L536.1 78.5Z" fill="#ffc4c4" stroke="#ff7070" stroke-width="0.7"/>
<path d="M552.1 63.6L555.5 67L552.1 70.4L548.7 67Z" fill="#ffc4c4" stroke="#ff7070" stroke-width="0.7"/>
<path d="M564.7 55.6L568.1 59L564.7 62.4L561.3 59Z" fill="#ffc4c4" stroke="#ff7070" stroke-width="0.7"/>
<path d="M577.3 50.3L580.7 53.7L577.3 57.1L573.9 53.7Z" fill="#ffc4c4" stroke="#ff7070" stroke-width="0.7"/>
<path d="M589.9 48.5L593.3 51.9L589.9 55.3L586.5 51.9Z" fill="#ffc4c4" stroke="#ff7070" stroke-width="0.7"/>
<path d="M602.5 50.4L605.9 53.8L602.5 57.2L599.1 53.8Z" fill="#ffc4c4" stroke="#ff7070" stroke-width="0.7"/>
<path d="M615.1 54.2L618.5 57.6L615.1 61L611.7 57.6Z" fill="#ffc4c4" stroke="#ff7070" stroke-width="0.7"/>
<path d="M627.7 63.8L631.1 67.2L627.7 70.6L624.3 67.2Z" fill="#ffc4c4" stroke="#ff7070" stroke-width="0.7"/>
<rect x="486.6" y="149" width="5" height="5" fill="#a8a8a8" stroke="#555" stroke-width="0.7"/>
<rect x="499.2" y="128" width="5" height="5" fill="#a8a8a8" stroke="#555" stroke-width="0.7"/>
<rect x="511.8" y="109.8" width="5" height="5" fill="#a8a8a8" stroke="#555" stroke-width="0.7"/>
<rect x="524.4" y="94.6" width="5" height="5" fill="#a8a8a8" stroke="#555" stroke-width="0.7"/>
<rect x="537" y="82.8" width="5" height="5" fill="#a8a8a8" stroke="#555" stroke-width="0.7"/>
<rect x="549.6" y="74.2" width="5" height="5" fill="#a8a8a8" stroke="#555" stroke-width="0.7"/>
<rect x="562.2" y="69.3" width="5" height="5" fill="#a8a8a8" stroke="#555" stroke-width="0.7"/>
<rect x="574.8" y="67.9" width="5" height="5" fill="#a8a8a8" stroke="#555" stroke-width="0.7"/>
<rect x="587.4" y="69.3" width="5" height="5" fill="#a8a8a8" stroke="#555" stroke-width="0.7"/>
<rect x="600" y="74.8" width="5" height="5" fill="#a8a8a8" stroke="#555" stroke-width="0.7"/>
<rect x="612.6" y="82.6" width="5" height="5" fill="#a8a8a8" stroke="#555" stroke-width="0.7"/>
<text x="579.2" y="31.8" font-size="8.95" text-anchor="start" fill="#2020ff">160 mW cm<tspan font-size="6.2" dy="-3.4">-2</tspan></text>
<text x="508.6" y="46.6" font-size="8.95" text-anchor="start" fill="#ff2020">142 mW cm<tspan font-size="6.2" dy="-3.4">-2</tspan></text>
<text x="591.9" y="96.8" font-size="8.95" text-anchor="start" fill="#111">121 mW cm<tspan font-size="6.2" dy="-3.4">-2</tspan></text>
<rect x="558.3" y="144.8" width="89.3" height="28.2" fill="#fff" stroke="#c8c8c8" stroke-width="0.8"/>
<line x1="558.9" y1="150.1" x2="575.6" y2="150.1" stroke="#2a2aff" stroke-width="1.0"/>
<line x1="577.6" y1="150.1" x2="593.4" y2="150.1" stroke="#2a2aff" stroke-width="1.0"/>
<circle cx="585.9" cy="150.1" r="2.6" fill="#b4c0fa" stroke="#6070ff" stroke-width="0.7"/>
<text x="596.3" y="152.8" font-size="7.4" text-anchor="start" fill="#111"><tspan font-style="italic">s</tspan>PIM-SBF-1.67</text>
<line x1="558.9" y1="159.1" x2="575.6" y2="159.1" stroke="#ff2a2a" stroke-width="1.0"/>
<line x1="577.6" y1="159.1" x2="593.4" y2="159.1" stroke="#ff2a2a" stroke-width="1.0"/>
<path d="M585.9 155.7L589.3 159.1L585.9 162.5L582.5 159.1Z" fill="#ffc4c4" stroke="#ff7070" stroke-width="0.7"/>
<text x="596.3" y="161.8" font-size="7.4" text-anchor="start" fill="#111"><tspan font-style="italic">s</tspan>PIM-SBF-1.40</text>
<line x1="558.9" y1="168.1" x2="575.6" y2="168.1" stroke="#111" stroke-width="1.0"/>
<line x1="577.6" y1="168.1" x2="593.4" y2="168.1" stroke="#333" stroke-width="1.0"/>
<rect x="583.4" y="165.6" width="5" height="5" fill="#a8a8a8" stroke="#555" stroke-width="0.7"/>
<text x="596.3" y="170.8" font-size="7.4" text-anchor="start" fill="#111">Nafion 115</text>
<rect x="47" y="247.5" width="620.7" height="219.5" fill="none" stroke="#3a3a3a" stroke-width="0.9"/>
<line x1="47" y1="357" x2="667.7" y2="357" stroke="#222" stroke-width="1.3"/>
<line x1="54" y1="247.5" x2="54" y2="244.7" stroke="#3a3a3a" stroke-width="0.8"/>
<text x="54" y="240.9" font-size="9.0" text-anchor="middle" fill="#222">0</text>
<line x1="156.1" y1="247.5" x2="156.1" y2="244.7" stroke="#3a3a3a" stroke-width="0.8"/>
<text x="156.1" y="240.9" font-size="9.0" text-anchor="middle" fill="#222">20</text>
<line x1="259.2" y1="247.5" x2="259.2" y2="244.7" stroke="#3a3a3a" stroke-width="0.8"/>
<text x="259.2" y="240.9" font-size="9.0" text-anchor="middle" fill="#222">40</text>
<line x1="361.9" y1="247.5" x2="361.9" y2="244.7" stroke="#3a3a3a" stroke-width="0.8"/>
<text x="361.9" y="240.9" font-size="9.0" text-anchor="middle" fill="#222">60</text>
<line x1="465.2" y1="247.5" x2="465.2" y2="244.7" stroke="#3a3a3a" stroke-width="0.8"/>
<text x="465.2" y="240.9" font-size="9.0" text-anchor="middle" fill="#222">80</text>
<line x1="568.5" y1="247.5" x2="568.5" y2="244.7" stroke="#3a3a3a" stroke-width="0.8"/>
<text x="568.5" y="240.9" font-size="9.0" text-anchor="middle" fill="#222">100</text>
<line x1="667.9" y1="247.5" x2="667.9" y2="244.7" stroke="#3a3a3a" stroke-width="0.8"/>
<text x="665" y="240.9" font-size="9.0" text-anchor="middle" fill="#222">120</text>
<text x="359.5" y="226.8" font-size="9.0" text-anchor="middle" fill="#111">Cycle time (h)</text>
<line x1="53.6" y1="467" x2="53.6" y2="469.8" stroke="#3a3a3a" stroke-width="0.8"/>
<line x1="53.6" y1="357" x2="53.6" y2="359.2" stroke="#3a3a3a" stroke-width="0.7"/>
<text x="53.6" y="477.6" font-size="9.0" text-anchor="middle" fill="#222">0</text>
<line x1="82.86" y1="467" x2="82.86" y2="468.6" stroke="#3a3a3a" stroke-width="0.8"/>
<line x1="82.86" y1="357" x2="82.86" y2="358.4" stroke="#3a3a3a" stroke-width="0.7"/>
<line x1="112.11" y1="467" x2="112.11" y2="468.6" stroke="#3a3a3a" stroke-width="0.8"/>
<line x1="112.11" y1="357" x2="112.11" y2="358.4" stroke="#3a3a3a" stroke-width="0.7"/>
<line x1="141.36" y1="467" x2="141.36" y2="468.6" stroke="#3a3a3a" stroke-width="0.8"/>
<line x1="141.36" y1="357" x2="141.36" y2="358.4" stroke="#3a3a3a" stroke-width="0.7"/>
<line x1="170.62" y1="467" x2="170.62" y2="468.6" stroke="#3a3a3a" stroke-width="0.8"/>
<line x1="170.62" y1="357" x2="170.62" y2="358.4" stroke="#3a3a3a" stroke-width="0.7"/>
<line x1="199.87" y1="467" x2="199.87" y2="469.8" stroke="#3a3a3a" stroke-width="0.8"/>
<line x1="199.87" y1="357" x2="199.87" y2="359.2" stroke="#3a3a3a" stroke-width="0.7"/>
<text x="199.87" y="477.6" font-size="9.0" text-anchor="middle" fill="#222">500</text>
<line x1="229.13" y1="467" x2="229.13" y2="468.6" stroke="#3a3a3a" stroke-width="0.8"/>
<line x1="229.13" y1="357" x2="229.13" y2="358.4" stroke="#3a3a3a" stroke-width="0.7"/>
<line x1="258.38" y1="467" x2="258.38" y2="468.6" stroke="#3a3a3a" stroke-width="0.8"/>
<line x1="258.38" y1="357" x2="258.38" y2="358.4" stroke="#3a3a3a" stroke-width="0.7"/>
<line x1="287.64" y1="467" x2="287.64" y2="468.6" stroke="#3a3a3a" stroke-width="0.8"/>
<line x1="287.64" y1="357" x2="287.64" y2="358.4" stroke="#3a3a3a" stroke-width="0.7"/>
<line x1="316.89" y1="467" x2="316.89" y2="468.6" stroke="#3a3a3a" stroke-width="0.8"/>
<line x1="316.89" y1="357" x2="316.89" y2="358.4" stroke="#3a3a3a" stroke-width="0.7"/>
<line x1="346.15" y1="467" x2="346.15" y2="469.8" stroke="#3a3a3a" stroke-width="0.8"/>
<line x1="346.15" y1="357" x2="346.15" y2="359.2" stroke="#3a3a3a" stroke-width="0.7"/>
<text x="346.15" y="477.6" font-size="9.0" text-anchor="middle" fill="#222">1000</text>
<line x1="375.4" y1="467" x2="375.4" y2="468.6" stroke="#3a3a3a" stroke-width="0.8"/>
<line x1="375.4" y1="357" x2="375.4" y2="358.4" stroke="#3a3a3a" stroke-width="0.7"/>
<line x1="404.66" y1="467" x2="404.66" y2="468.6" stroke="#3a3a3a" stroke-width="0.8"/>
<line x1="404.66" y1="357" x2="404.66" y2="358.4" stroke="#3a3a3a" stroke-width="0.7"/>
<line x1="433.92" y1="467" x2="433.92" y2="468.6" stroke="#3a3a3a" stroke-width="0.8"/>
<line x1="433.92" y1="357" x2="433.92" y2="358.4" stroke="#3a3a3a" stroke-width="0.7"/>
<line x1="463.17" y1="467" x2="463.17" y2="468.6" stroke="#3a3a3a" stroke-width="0.8"/>
<line x1="463.17" y1="357" x2="463.17" y2="358.4" stroke="#3a3a3a" stroke-width="0.7"/>
<line x1="492.43" y1="467" x2="492.43" y2="469.8" stroke="#3a3a3a" stroke-width="0.8"/>
<line x1="492.43" y1="357" x2="492.43" y2="359.2" stroke="#3a3a3a" stroke-width="0.7"/>
<text x="492.43" y="477.6" font-size="9.0" text-anchor="middle" fill="#222">1500</text>
<line x1="521.68" y1="467" x2="521.68" y2="468.6" stroke="#3a3a3a" stroke-width="0.8"/>
<line x1="521.68" y1="357" x2="521.68" y2="358.4" stroke="#3a3a3a" stroke-width="0.7"/>
<line x1="550.93" y1="467" x2="550.93" y2="468.6" stroke="#3a3a3a" stroke-width="0.8"/>
<line x1="550.93" y1="357" x2="550.93" y2="358.4" stroke="#3a3a3a" stroke-width="0.7"/>
<line x1="580.19" y1="467" x2="580.19" y2="468.6" stroke="#3a3a3a" stroke-width="0.8"/>
<line x1="580.19" y1="357" x2="580.19" y2="358.4" stroke="#3a3a3a" stroke-width="0.7"/>
<line x1="609.44" y1="467" x2="609.44" y2="468.6" stroke="#3a3a3a" stroke-width="0.8"/>
<line x1="609.44" y1="357" x2="609.44" y2="358.4" stroke="#3a3a3a" stroke-width="0.7"/>
<line x1="638.7" y1="467" x2="638.7" y2="469.8" stroke="#3a3a3a" stroke-width="0.8"/>
<line x1="638.7" y1="357" x2="638.7" y2="359.2" stroke="#3a3a3a" stroke-width="0.7"/>
<text x="638.7" y="477.6" font-size="9.0" text-anchor="middle" fill="#222">2000</text>
<text x="347.8" y="490" font-size="10" text-anchor="middle" fill="#111">Cycle number</text>
<line x1="44.4" y1="348.6" x2="47" y2="348.6" stroke="#3a3a3a" stroke-width="0.8"/>
<text x="43.7" y="351.8" font-size="9.2" text-anchor="end" fill="#222">99.0</text>
<line x1="45.5" y1="340.12" x2="47" y2="340.12" stroke="#3a3a3a" stroke-width="0.8"/>
<line x1="44.4" y1="331.64" x2="47" y2="331.64" stroke="#3a3a3a" stroke-width="0.8"/>
<text x="43.7" y="334.84" font-size="9.2" text-anchor="end" fill="#222">99.2</text>
<line x1="45.5" y1="323.16" x2="47" y2="323.16" stroke="#3a3a3a" stroke-width="0.8"/>
<line x1="44.4" y1="314.68" x2="47" y2="314.68" stroke="#3a3a3a" stroke-width="0.8"/>
<text x="43.7" y="317.88" font-size="9.2" text-anchor="end" fill="#222">99.4</text>
<line x1="45.5" y1="306.2" x2="47" y2="306.2" stroke="#3a3a3a" stroke-width="0.8"/>
<line x1="44.4" y1="297.72" x2="47" y2="297.72" stroke="#3a3a3a" stroke-width="0.8"/>
<text x="43.7" y="300.92" font-size="9.2" text-anchor="end" fill="#222">99.6</text>
<line x1="45.5" y1="289.24" x2="47" y2="289.24" stroke="#3a3a3a" stroke-width="0.8"/>
<line x1="44.4" y1="280.76" x2="47" y2="280.76" stroke="#3a3a3a" stroke-width="0.8"/>
<text x="43.7" y="283.96" font-size="9.2" text-anchor="end" fill="#222">99.8</text>
<line x1="45.5" y1="272.28" x2="47" y2="272.28" stroke="#3a3a3a" stroke-width="0.8"/>
<line x1="44.4" y1="263.8" x2="47" y2="263.8" stroke="#3a3a3a" stroke-width="0.8"/>
<text x="43.7" y="267" font-size="9.2" text-anchor="end" fill="#222">100.0</text>
<line x1="45.5" y1="255.32" x2="47" y2="255.32" stroke="#3a3a3a" stroke-width="0.8"/>
<text x="17" y="305.8" font-size="10" text-anchor="middle" fill="#111" transform="rotate(-90 17 305.8)">CE (%)</text>
<line x1="44.4" y1="466.2" x2="47" y2="466.2" stroke="#3a3a3a" stroke-width="0.8"/>
<text x="43.7" y="469.2" font-size="9.2" text-anchor="end" fill="#222">85</text>
<line x1="45.5" y1="450.2" x2="47" y2="450.2" stroke="#3a3a3a" stroke-width="0.8"/>
<line x1="44.4" y1="434.2" x2="47" y2="434.2" stroke="#3a3a3a" stroke-width="0.8"/>
<text x="43.7" y="437.2" font-size="9.2" text-anchor="end" fill="#222">90</text>
<line x1="45.5" y1="418.2" x2="47" y2="418.2" stroke="#3a3a3a" stroke-width="0.8"/>
<line x1="44.4" y1="402.2" x2="47" y2="402.2" stroke="#3a3a3a" stroke-width="0.8"/>
<text x="43.7" y="405.2" font-size="9.2" text-anchor="end" fill="#222">95</text>
<line x1="45.5" y1="386.2" x2="47" y2="386.2" stroke="#3a3a3a" stroke-width="0.8"/>
<line x1="44.4" y1="370.2" x2="47" y2="370.2" stroke="#3a3a3a" stroke-width="0.8"/>
<text x="43.7" y="373.2" font-size="9.2" text-anchor="end" fill="#222">100</text>
<text x="11.3" y="414.6" font-size="10" text-anchor="middle" fill="#111" transform="rotate(-90 11.3 414.6)">Normalised</text>
<text x="24" y="411.9" font-size="10" text-anchor="middle" fill="#111" transform="rotate(-90 24 411.9)">discharge capacity (%)</text>
<g clip-path="url(#clipD1)">
<rect x="50.66" y="261.1" width="6" height="6" fill="none" stroke="#555" stroke-width="0.75"/>
<rect x="55.62" y="268.4" width="6" height="6" fill="none" stroke="#555" stroke-width="0.75"/>
<rect x="61.65" y="251.46" width="6" height="6" fill="none" stroke="#555" stroke-width="0.75"/>
<rect x="67.1" y="260.05" width="6" height="6" fill="none" stroke="#555" stroke-width="0.75"/>
<rect x="72.32" y="269.43" width="6" height="6" fill="none" stroke="#555" stroke-width="0.75"/>
<rect x="75.67" y="278.48" width="6" height="6" fill="none" stroke="#555" stroke-width="0.75"/>
<rect x="81" y="260.42" width="6" height="6" fill="none" stroke="#555" stroke-width="0.75"/>
<rect x="89" y="261.08" width="6" height="6" fill="none" stroke="#555" stroke-width="0.75"/>
<rect x="93.19" y="268.4" width="6" height="6" fill="none" stroke="#555" stroke-width="0.75"/>
<rect x="98.94" y="268.91" width="6" height="6" fill="none" stroke="#555" stroke-width="0.75"/>
<rect x="104.77" y="269.87" width="6" height="6" fill="none" stroke="#555" stroke-width="0.75"/>
<rect x="111.93" y="260.85" width="6" height="6" fill="none" stroke="#555" stroke-width="0.75"/>
<rect x="118.33" y="270.24" width="6" height="6" fill="none" stroke="#555" stroke-width="0.75"/>
<rect x="124.05" y="260.1" width="6" height="6" fill="none" stroke="#555" stroke-width="0.75"/>
<rect x="129.65" y="252.85" width="6" height="6" fill="none" stroke="#555" stroke-width="0.75"/>
<rect x="134.89" y="278.15" width="6" height="6" fill="none" stroke="#555" stroke-width="0.75"/>
<rect x="141.39" y="269.96" width="6" height="6" fill="none" stroke="#555" stroke-width="0.75"/>
<rect x="149.21" y="268.4" width="6" height="6" fill="none" stroke="#555" stroke-width="0.75"/>
<rect x="156.51" y="269.92" width="6" height="6" fill="none" stroke="#555" stroke-width="0.75"/>
<rect x="160.88" y="259.85" width="6" height="6" fill="none" stroke="#555" stroke-width="0.75"/>
<rect x="165.27" y="259.92" width="6" height="6" fill="none" stroke="#555" stroke-width="0.75"/>
<rect x="172.32" y="260.58" width="6" height="6" fill="none" stroke="#555" stroke-width="0.75"/>
<rect x="179.88" y="252.42" width="6" height="6" fill="none" stroke="#555" stroke-width="0.75"/>
<rect x="187.99" y="277.32" width="6" height="6" fill="none" stroke="#555" stroke-width="0.75"/>
<rect x="193.61" y="261.72" width="6" height="6" fill="none" stroke="#555" stroke-width="0.75"/>
<rect x="196.75" y="260.27" width="6" height="6" fill="none" stroke="#555" stroke-width="0.75"/>
<rect x="202.62" y="268.29" width="6" height="6" fill="none" stroke="#555" stroke-width="0.75"/>
<rect x="208.93" y="261.71" width="6" height="6" fill="none" stroke="#555" stroke-width="0.75"/>
<rect x="215.53" y="269.63" width="6" height="6" fill="none" stroke="#555" stroke-width="0.75"/>
<rect x="220.3" y="278.51" width="6" height="6" fill="none" stroke="#555" stroke-width="0.75"/>
<rect x="226.22" y="260.01" width="6" height="6" fill="none" stroke="#555" stroke-width="0.75"/>
<rect x="231.72" y="251.74" width="6" height="6" fill="none" stroke="#555" stroke-width="0.75"/>
<rect x="236.42" y="259.8" width="6" height="6" fill="none" stroke="#555" stroke-width="0.75"/>
<rect x="241.86" y="251.37" width="6" height="6" fill="none" stroke="#555" stroke-width="0.75"/>
<rect x="248.43" y="268.78" width="6" height="6" fill="none" stroke="#555" stroke-width="0.75"/>
<rect x="253.72" y="261.5" width="6" height="6" fill="none" stroke="#555" stroke-width="0.75"/>
<rect x="262.06" y="259.97" width="6" height="6" fill="none" stroke="#555" stroke-width="0.75"/>
<rect x="266.07" y="261.46" width="6" height="6" fill="none" stroke="#555" stroke-width="0.75"/>
<rect x="272.45" y="252.38" width="6" height="6" fill="none" stroke="#555" stroke-width="0.75"/>
<rect x="274.92" y="269.34" width="6" height="6" fill="none" stroke="#555" stroke-width="0.75"/>
<rect x="283.95" y="268.8" width="6" height="6" fill="none" stroke="#555" stroke-width="0.75"/>
<rect x="289.54" y="260.87" width="6" height="6" fill="none" stroke="#555" stroke-width="0.75"/>
<rect x="295" y="261.42" width="6" height="6" fill="none" stroke="#555" stroke-width="0.75"/>
<rect x="303.85" y="269.92" width="6" height="6" fill="none" stroke="#555" stroke-width="0.75"/>
<rect x="309.8" y="260.51" width="6" height="6" fill="none" stroke="#555" stroke-width="0.75"/>
<rect x="313.52" y="251.84" width="6" height="6" fill="none" stroke="#555" stroke-width="0.75"/>
<rect x="320.41" y="278.63" width="6" height="6" fill="none" stroke="#555" stroke-width="0.75"/>
<rect x="327.67" y="277.2" width="6" height="6" fill="none" stroke="#555" stroke-width="0.75"/>
<rect x="332.23" y="261.05" width="6" height="6" fill="none" stroke="#555" stroke-width="0.75"/>
<rect x="340.07" y="269.59" width="6" height="6" fill="none" stroke="#555" stroke-width="0.75"/>
<rect x="347.34" y="253.14" width="6" height="6" fill="none" stroke="#555" stroke-width="0.75"/>
<rect x="353.68" y="268.64" width="6" height="6" fill="none" stroke="#555" stroke-width="0.75"/>
<rect x="361.26" y="261.74" width="6" height="6" fill="none" stroke="#555" stroke-width="0.75"/>
<rect x="367.12" y="261.25" width="6" height="6" fill="none" stroke="#555" stroke-width="0.75"/>
<rect x="369.97" y="261.61" width="6" height="6" fill="none" stroke="#555" stroke-width="0.75"/>
<rect x="378.45" y="261.76" width="6" height="6" fill="none" stroke="#555" stroke-width="0.75"/>
<rect x="384.15" y="260.06" width="6" height="6" fill="none" stroke="#555" stroke-width="0.75"/>
<rect x="388.64" y="277.81" width="6" height="6" fill="none" stroke="#555" stroke-width="0.75"/>
<rect x="396.46" y="261.45" width="6" height="6" fill="none" stroke="#555" stroke-width="0.75"/>
<rect x="399.96" y="260.28" width="6" height="6" fill="none" stroke="#555" stroke-width="0.75"/>
<rect x="406.4" y="260.06" width="6" height="6" fill="none" stroke="#555" stroke-width="0.75"/>
<rect x="413.7" y="260.97" width="6" height="6" fill="none" stroke="#555" stroke-width="0.75"/>
<rect x="421.99" y="260.8" width="6" height="6" fill="none" stroke="#555" stroke-width="0.75"/>
<rect x="425.78" y="269.16" width="6" height="6" fill="none" stroke="#555" stroke-width="0.75"/>
<rect x="432.46" y="251.66" width="6" height="6" fill="none" stroke="#555" stroke-width="0.75"/>
<rect x="437.64" y="268.93" width="6" height="6" fill="none" stroke="#555" stroke-width="0.75"/>
<rect x="444.1" y="268.49" width="6" height="6" fill="none" stroke="#555" stroke-width="0.75"/>
<rect x="448.93" y="261.34" width="6" height="6" fill="none" stroke="#555" stroke-width="0.75"/>
<rect x="455.96" y="270.1" width="6" height="6" fill="none" stroke="#555" stroke-width="0.75"/>
<rect x="461.02" y="269.3" width="6" height="6" fill="none" stroke="#555" stroke-width="0.75"/>
<rect x="467.57" y="260.76" width="6" height="6" fill="none" stroke="#555" stroke-width="0.75"/>
<rect x="475.7" y="270.16" width="6" height="6" fill="none" stroke="#555" stroke-width="0.75"/>
<rect x="480.92" y="269.96" width="6" height="6" fill="none" stroke="#555" stroke-width="0.75"/>
<rect x="484.37" y="259.95" width="6" height="6" fill="none" stroke="#555" stroke-width="0.75"/>
<rect x="489.91" y="252.89" width="6" height="6" fill="none" stroke="#555" stroke-width="0.75"/>
<rect x="497.18" y="261.12" width="6" height="6" fill="none" stroke="#555" stroke-width="0.75"/>
<rect x="502.45" y="268.72" width="6" height="6" fill="none" stroke="#555" stroke-width="0.75"/>
<rect x="508.64" y="261.78" width="6" height="6" fill="none" stroke="#555" stroke-width="0.75"/>
<rect x="515.46" y="260.83" width="6" height="6" fill="none" stroke="#555" stroke-width="0.75"/>
<rect x="520.51" y="261.24" width="6" height="6" fill="none" stroke="#555" stroke-width="0.75"/>
<rect x="525.06" y="268.32" width="6" height="6" fill="none" stroke="#555" stroke-width="0.75"/>
<rect x="530.53" y="268.41" width="6" height="6" fill="none" stroke="#555" stroke-width="0.75"/>
<rect x="539.08" y="268.49" width="6" height="6" fill="none" stroke="#555" stroke-width="0.75"/>
<rect x="543.7" y="251.86" width="6" height="6" fill="none" stroke="#555" stroke-width="0.75"/>
<rect x="548.64" y="261.44" width="6" height="6" fill="none" stroke="#555" stroke-width="0.75"/>
<rect x="553.71" y="260.94" width="6" height="6" fill="none" stroke="#555" stroke-width="0.75"/>
<rect x="558.16" y="252.7" width="6" height="6" fill="none" stroke="#555" stroke-width="0.75"/>
<rect x="565.87" y="252.59" width="6" height="6" fill="none" stroke="#555" stroke-width="0.75"/>
<rect x="572.52" y="251.45" width="6" height="6" fill="none" stroke="#555" stroke-width="0.75"/>
<rect x="578.33" y="260.91" width="6" height="6" fill="none" stroke="#555" stroke-width="0.75"/>
<rect x="585.08" y="260.85" width="6" height="6" fill="none" stroke="#555" stroke-width="0.75"/>
<rect x="590.15" y="259.9" width="6" height="6" fill="none" stroke="#555" stroke-width="0.75"/>
<rect x="595.36" y="261.32" width="6" height="6" fill="none" stroke="#555" stroke-width="0.75"/>
<rect x="600.21" y="260.49" width="6" height="6" fill="none" stroke="#555" stroke-width="0.75"/>
<rect x="604.08" y="261.27" width="6" height="6" fill="none" stroke="#555" stroke-width="0.75"/>
<rect x="611.2" y="261.67" width="6" height="6" fill="none" stroke="#555" stroke-width="0.75"/>
<rect x="615.65" y="269.27" width="6" height="6" fill="none" stroke="#555" stroke-width="0.75"/>
<rect x="622.78" y="261.18" width="6" height="6" fill="none" stroke="#555" stroke-width="0.75"/>
<rect x="631.01" y="261.21" width="6" height="6" fill="none" stroke="#555" stroke-width="0.75"/>
<rect x="636.14" y="259.91" width="6" height="6" fill="none" stroke="#555" stroke-width="0.75"/>
<rect x="641.71" y="251.83" width="6" height="6" fill="none" stroke="#555" stroke-width="0.75"/>
<rect x="646.69" y="253.06" width="6" height="6" fill="none" stroke="#555" stroke-width="0.75"/>
<rect x="651.67" y="260.39" width="6" height="6" fill="none" stroke="#555" stroke-width="0.75"/>
<rect x="657.87" y="260.33" width="6" height="6" fill="none" stroke="#555" stroke-width="0.75"/>
<path d="M54 269.65L58.3 273.95L54 278.25L49.7 273.95Z" fill="none" stroke="#ff3030" stroke-width="0.75"/>
<path d="M58.74 262.67L63.04 266.97L58.74 271.27L54.44 266.97Z" fill="none" stroke="#ff3030" stroke-width="0.75"/>
<path d="M65.06 262.05L69.36 266.35L65.06 270.65L60.76 266.35Z" fill="none" stroke="#ff3030" stroke-width="0.75"/>
<path d="M69.26 267.9L73.56 272.2L69.26 276.5L64.96 272.2Z" fill="none" stroke="#ff3030" stroke-width="0.75"/>
<path d="M74.3 258.1L78.6 262.4L74.3 266.7L70 262.4Z" fill="none" stroke="#ff3030" stroke-width="0.75"/>
<path d="M78.95 264.6L83.25 268.9L78.95 273.2L74.65 268.9Z" fill="none" stroke="#ff3030" stroke-width="0.75"/>
<path d="M84.26 267.46L88.56 271.76L84.26 276.06L79.96 271.76Z" fill="none" stroke="#ff3030" stroke-width="0.75"/>
<path d="M88.65 263.82L92.95 268.12L88.65 272.42L84.35 268.12Z" fill="none" stroke="#ff3030" stroke-width="0.75"/>
<path d="M93.73 264.69L98.03 268.99L93.73 273.29L89.43 268.99Z" fill="none" stroke="#ff3030" stroke-width="0.75"/>
<path d="M98.6 263.97L102.9 268.27L98.6 272.57L94.3 268.27Z" fill="none" stroke="#ff3030" stroke-width="0.75"/>
<path d="M103.31 258.64L107.61 262.94L103.31 267.24L99.01 262.94Z" fill="none" stroke="#ff3030" stroke-width="0.75"/>
<path d="M109.17 260.68L113.47 264.98L109.17 269.28L104.87 264.98Z" fill="none" stroke="#ff3030" stroke-width="0.75"/>
<path d="M114.81 261.61L119.11 265.91L114.81 270.21L110.51 265.91Z" fill="none" stroke="#ff3030" stroke-width="0.75"/>
<path d="M119.87 254.06L124.17 258.36L119.87 262.66L115.57 258.36Z" fill="none" stroke="#ff3030" stroke-width="0.75"/>
<path d="M124.79 266.42L129.09 270.72L124.79 275.02L120.49 270.72Z" fill="none" stroke="#ff3030" stroke-width="0.75"/>
<path d="M130.58 263.44L134.88 267.74L130.58 272.04L126.28 267.74Z" fill="none" stroke="#ff3030" stroke-width="0.75"/>
<path d="M136.2 272.47L140.5 276.77L136.2 281.07L131.9 276.77Z" fill="none" stroke="#ff3030" stroke-width="0.75"/>
<path d="M142.36 266.18L146.66 270.48L142.36 274.78L138.06 270.48Z" fill="none" stroke="#ff3030" stroke-width="0.75"/>
<path d="M147.94 262.81L152.24 267.11L147.94 271.41L143.64 267.11Z" fill="none" stroke="#ff3030" stroke-width="0.75"/>
<path d="M152.44 254.97L156.74 259.27L152.44 263.57L148.14 259.27Z" fill="none" stroke="#ff3030" stroke-width="0.75"/>
<path d="M157.8 254.59L162.1 258.89L157.8 263.19L153.5 258.89Z" fill="none" stroke="#ff3030" stroke-width="0.75"/>
<path d="M163.77 263.45L168.07 267.75L163.77 272.05L159.47 267.75Z" fill="none" stroke="#ff3030" stroke-width="0.75"/>
<path d="M169.78 254.94L174.08 259.24L169.78 263.54L165.48 259.24Z" fill="none" stroke="#ff3030" stroke-width="0.75"/>
<path d="M175.49 258.59L179.79 262.89L175.49 267.19L171.19 262.89Z" fill="none" stroke="#ff3030" stroke-width="0.75"/>
<path d="M181.21 263.85L185.51 268.15L181.21 272.45L176.91 268.15Z" fill="none" stroke="#ff3030" stroke-width="0.75"/>
<path d="M185.71 264.9L190.01 269.2L185.71 273.5L181.41 269.2Z" fill="none" stroke="#ff3030" stroke-width="0.75"/>
<path d="M190.7 270.91L195 275.21L190.7 279.51L186.4 275.21Z" fill="none" stroke="#ff3030" stroke-width="0.75"/>
<path d="M196.13 269.29L200.43 273.59L196.13 277.89L191.83 273.59Z" fill="none" stroke="#ff3030" stroke-width="0.75"/>
<path d="M201.71 258.61L206.01 262.91L201.71 267.21L197.41 262.91Z" fill="none" stroke="#ff3030" stroke-width="0.75"/>
<path d="M206.98 258.53L211.28 262.83L206.98 267.13L202.68 262.83Z" fill="none" stroke="#ff3030" stroke-width="0.75"/>
<path d="M211.19 266.05L215.49 270.35L211.19 274.65L206.89 270.35Z" fill="none" stroke="#ff3030" stroke-width="0.75"/>
<path d="M216.5 256.08L220.8 260.38L216.5 264.68L212.2 260.38Z" fill="none" stroke="#ff3030" stroke-width="0.75"/>
<path d="M221.88 262.74L226.18 267.04L221.88 271.34L217.58 267.04Z" fill="none" stroke="#ff3030" stroke-width="0.75"/>
<path d="M227.7 262.21L232 266.51L227.7 270.81L223.4 266.51Z" fill="none" stroke="#ff3030" stroke-width="0.75"/>
<path d="M232.45 267.07L236.75 271.37L232.45 275.67L228.15 271.37Z" fill="none" stroke="#ff3030" stroke-width="0.75"/>
<path d="M238.26 265.4L242.56 269.7L238.26 274L233.96 269.7Z" fill="none" stroke="#ff3030" stroke-width="0.75"/>
<path d="M242.91 262.86L247.21 267.16L242.91 271.46L238.61 267.16Z" fill="none" stroke="#ff3030" stroke-width="0.75"/>
<path d="M248.19 253.7L252.49 258L248.19 262.3L243.89 258Z" fill="none" stroke="#ff3030" stroke-width="0.75"/>
<path d="M253.24 256.48L257.54 260.78L253.24 265.08L248.94 260.78Z" fill="none" stroke="#ff3030" stroke-width="0.75"/>
<path d="M259.12 264.66L263.42 268.96L259.12 273.26L254.82 268.96Z" fill="none" stroke="#ff3030" stroke-width="0.75"/>
<path d="M264.68 262.5L268.98 266.8L264.68 271.1L260.38 266.8Z" fill="none" stroke="#ff3030" stroke-width="0.75"/>
<path d="M269.21 262.19L273.51 266.49L269.21 270.79L264.91 266.49Z" fill="none" stroke="#ff3030" stroke-width="0.75"/>
<path d="M273.96 263.53L278.26 267.83L273.96 272.13L269.66 267.83Z" fill="none" stroke="#ff3030" stroke-width="0.75"/>
<path d="M279.41 259.61L283.71 263.91L279.41 268.21L275.11 263.91Z" fill="none" stroke="#ff3030" stroke-width="0.75"/>
<path d="M283.64 267.23L287.94 271.53L283.64 275.83L279.34 271.53Z" fill="none" stroke="#ff3030" stroke-width="0.75"/>
<path d="M289.32 265.11L293.62 269.41L289.32 273.71L285.02 269.41Z" fill="none" stroke="#ff3030" stroke-width="0.75"/>
<path d="M295.04 261.91L299.34 266.21L295.04 270.51L290.74 266.21Z" fill="none" stroke="#ff3030" stroke-width="0.75"/>
<path d="M300.38 260.15L304.68 264.45L300.38 268.75L296.08 264.45Z" fill="none" stroke="#ff3030" stroke-width="0.75"/>
<path d="M305.6 261.34L309.9 265.64L305.6 269.94L301.3 265.64Z" fill="none" stroke="#ff3030" stroke-width="0.75"/>
<path d="M311.77 264.21L316.07 268.51L311.77 272.81L307.47 268.51Z" fill="none" stroke="#ff3030" stroke-width="0.75"/>
<path d="M316.4 274.86L320.7 279.16L316.4 283.46L312.1 279.16Z" fill="none" stroke="#ff3030" stroke-width="0.75"/>
<path d="M320.64 262.16L324.94 266.46L320.64 270.76L316.34 266.46Z" fill="none" stroke="#ff3030" stroke-width="0.75"/>
<path d="M325.85 269.06L330.15 273.36L325.85 277.66L321.55 273.36Z" fill="none" stroke="#ff3030" stroke-width="0.75"/>
<path d="M331.04 253.7L335.34 258L331.04 262.3L326.74 258Z" fill="none" stroke="#ff3030" stroke-width="0.75"/>
<path d="M335.83 266.59L340.13 270.89L335.83 275.19L331.53 270.89Z" fill="none" stroke="#ff3030" stroke-width="0.75"/>
<path d="M340.5 274.92L344.8 279.22L340.5 283.52L336.2 279.22Z" fill="none" stroke="#ff3030" stroke-width="0.75"/>
<path d="M345.98 267.38L350.28 271.68L345.98 275.98L341.68 271.68Z" fill="none" stroke="#ff3030" stroke-width="0.75"/>
<path d="M352.27 268.25L356.57 272.55L352.27 276.85L347.97 272.55Z" fill="none" stroke="#ff3030" stroke-width="0.75"/>
<path d="M356.76 266.14L361.06 270.44L356.76 274.74L352.46 270.44Z" fill="none" stroke="#ff3030" stroke-width="0.75"/>
<path d="M362.91 258.52L367.21 262.82L362.91 267.12L358.61 262.82Z" fill="none" stroke="#ff3030" stroke-width="0.75"/>
<path d="M368.66 264.9L372.96 269.2L368.66 273.5L364.36 269.2Z" fill="none" stroke="#ff3030" stroke-width="0.75"/>
<path d="M373.93 273.88L378.23 278.18L373.93 282.48L369.63 278.18Z" fill="none" stroke="#ff3030" stroke-width="0.75"/>
<path d="M378.19 269.28L382.49 273.58L378.19 277.88L373.89 273.58Z" fill="none" stroke="#ff3030" stroke-width="0.75"/>
<path d="M383.38 263.83L387.68 268.13L383.38 272.43L379.08 268.13Z" fill="none" stroke="#ff3030" stroke-width="0.75"/>
<path d="M388.24 266.49L392.54 270.79L388.24 275.09L383.94 270.79Z" fill="none" stroke="#ff3030" stroke-width="0.75"/>
<path d="M393.14 267.11L397.44 271.41L393.14 275.71L388.84 271.41Z" fill="none" stroke="#ff3030" stroke-width="0.75"/>
<path d="M399.19 271.7L403.49 276L399.19 280.3L394.89 276Z" fill="none" stroke="#ff3030" stroke-width="0.75"/>
<path d="M405.23 263.79L409.53 268.09L405.23 272.39L400.93 268.09Z" fill="none" stroke="#ff3030" stroke-width="0.75"/>
<path d="M409.7 270.49L414 274.79L409.7 279.09L405.4 274.79Z" fill="none" stroke="#ff3030" stroke-width="0.75"/>
<path d="M415.88 260.32L420.18 264.62L415.88 268.92L411.58 264.62Z" fill="none" stroke="#ff3030" stroke-width="0.75"/>
<path d="M420.72 260.37L425.02 264.67L420.72 268.97L416.42 264.67Z" fill="none" stroke="#ff3030" stroke-width="0.75"/>
<path d="M427.11 267.15L431.41 271.45L427.11 275.75L422.81 271.45Z" fill="none" stroke="#ff3030" stroke-width="0.75"/>
<path d="M432.61 260.45L436.91 264.75L432.61 269.05L428.31 264.75Z" fill="none" stroke="#ff3030" stroke-width="0.75"/>
<path d="M437.42 267.6L441.72 271.9L437.42 276.2L433.12 271.9Z" fill="none" stroke="#ff3030" stroke-width="0.75"/>
<path d="M441.72 271.01L446.02 275.31L441.72 279.61L437.42 275.31Z" fill="none" stroke="#ff3030" stroke-width="0.75"/>
<path d="M446.55 269.13L450.85 273.43L446.55 277.73L442.25 273.43Z" fill="none" stroke="#ff3030" stroke-width="0.75"/>
<path d="M452.81 263.72L457.11 268.02L452.81 272.32L448.51 268.02Z" fill="none" stroke="#ff3030" stroke-width="0.75"/>
<path d="M458.13 267.47L462.43 271.77L458.13 276.07L453.83 271.77Z" fill="none" stroke="#ff3030" stroke-width="0.75"/>
<path d="M462.75 255.3L467.05 259.6L462.75 263.9L458.45 259.6Z" fill="none" stroke="#ff3030" stroke-width="0.75"/>
<path d="M468.9 272.28L473.2 276.58L468.9 280.88L464.6 276.58Z" fill="none" stroke="#ff3030" stroke-width="0.75"/>
<path d="M474.88 256.48L479.18 260.78L474.88 265.08L470.58 260.78Z" fill="none" stroke="#ff3030" stroke-width="0.75"/>
<path d="M481.15 255.92L485.45 260.22L481.15 264.52L476.85 260.22Z" fill="none" stroke="#ff3030" stroke-width="0.75"/>
<path d="M486.56 263.41L490.86 267.71L486.56 272.01L482.26 267.71Z" fill="none" stroke="#ff3030" stroke-width="0.75"/>
<path d="M492.37 262.2L496.67 266.5L492.37 270.8L488.07 266.5Z" fill="none" stroke="#ff3030" stroke-width="0.75"/>
<path d="M497.56 263.82L501.86 268.12L497.56 272.42L493.26 268.12Z" fill="none" stroke="#ff3030" stroke-width="0.75"/>
<path d="M502.39 256.8L506.69 261.1L502.39 265.4L498.09 261.1Z" fill="none" stroke="#ff3030" stroke-width="0.75"/>
<path d="M506.7 265.94L511 270.24L506.7 274.54L502.4 270.24Z" fill="none" stroke="#ff3030" stroke-width="0.75"/>
<path d="M511.94 262.59L516.24 266.89L511.94 271.19L507.64 266.89Z" fill="none" stroke="#ff3030" stroke-width="0.75"/>
<path d="M516.9 261.37L521.2 265.67L516.9 269.97L512.6 265.67Z" fill="none" stroke="#ff3030" stroke-width="0.75"/>
<path d="M523.24 271.22L527.54 275.52L523.24 279.82L518.94 275.52Z" fill="none" stroke="#ff3030" stroke-width="0.75"/>
<path d="M528.02 261.44L532.32 265.74L528.02 270.04L523.72 265.74Z" fill="none" stroke="#ff3030" stroke-width="0.75"/>
<path d="M533.44 260.33L537.74 264.63L533.44 268.93L529.14 264.63Z" fill="none" stroke="#ff3030" stroke-width="0.75"/>
<path d="M538.51 265.11L542.81 269.41L538.51 273.71L534.21 269.41Z" fill="none" stroke="#ff3030" stroke-width="0.75"/>
<path d="M543.17 266.17L547.47 270.47L543.17 274.77L538.87 270.47Z" fill="none" stroke="#ff3030" stroke-width="0.75"/>
<path d="M549.36 260.32L553.66 264.62L549.36 268.92L545.06 264.62Z" fill="none" stroke="#ff3030" stroke-width="0.75"/>
<path d="M555.55 263.76L559.85 268.06L555.55 272.36L551.25 268.06Z" fill="none" stroke="#ff3030" stroke-width="0.75"/>
<path d="M561.95 261.2L566.25 265.5L561.95 269.8L557.65 265.5Z" fill="none" stroke="#ff3030" stroke-width="0.75"/>
<path d="M566.57 264.51L570.87 268.81L566.57 273.11L562.27 268.81Z" fill="none" stroke="#ff3030" stroke-width="0.75"/>
<path d="M570.97 262.55L575.27 266.85L570.97 271.15L566.67 266.85Z" fill="none" stroke="#ff3030" stroke-width="0.75"/>
<path d="M575.69 265.46L579.99 269.76L575.69 274.06L571.39 269.76Z" fill="none" stroke="#ff3030" stroke-width="0.75"/>
<path d="M580.46 254.62L584.76 258.92L580.46 263.22L576.16 258.92Z" fill="none" stroke="#ff3030" stroke-width="0.75"/>
<path d="M586.31 259.45L590.61 263.75L586.31 268.05L582.01 263.75Z" fill="none" stroke="#ff3030" stroke-width="0.75"/>
<path d="M591.42 258.69L595.72 262.99L591.42 267.29L587.12 262.99Z" fill="none" stroke="#ff3030" stroke-width="0.75"/>
<path d="M596.45 266.71L600.75 271.01L596.45 275.31L592.15 271.01Z" fill="none" stroke="#ff3030" stroke-width="0.75"/>
<path d="M601.39 267.28L605.69 271.58L601.39 275.88L597.09 271.58Z" fill="none" stroke="#ff3030" stroke-width="0.75"/>
<path d="M607.72 265.17L612.02 269.47L607.72 273.77L603.42 269.47Z" fill="none" stroke="#ff3030" stroke-width="0.75"/>
<path d="M612.2 256.94L616.5 261.24L612.2 265.54L607.9 261.24Z" fill="none" stroke="#ff3030" stroke-width="0.75"/>
<path d="M618.3 263.56L622.6 267.86L618.3 272.16L614 267.86Z" fill="none" stroke="#ff3030" stroke-width="0.75"/>
<path d="M622.97 263.22L627.27 267.52L622.97 271.82L618.67 267.52Z" fill="none" stroke="#ff3030" stroke-width="0.75"/>
<path d="M628.05 267.3L632.35 271.6L628.05 275.9L623.75 271.6Z" fill="none" stroke="#ff3030" stroke-width="0.75"/>
<path d="M633.23 272.64L637.53 276.94L633.23 281.24L628.93 276.94Z" fill="none" stroke="#ff3030" stroke-width="0.75"/>
<path d="M639.35 261.04L643.65 265.34L639.35 269.64L635.05 265.34Z" fill="none" stroke="#ff3030" stroke-width="0.75"/>
<path d="M643.6 271.09L647.9 275.39L643.6 279.69L639.3 275.39Z" fill="none" stroke="#ff3030" stroke-width="0.75"/>
<path d="M649.77 265.22L654.07 269.52L649.77 273.82L645.47 269.52Z" fill="none" stroke="#ff3030" stroke-width="0.75"/>
<path d="M655.01 263.62L659.31 267.92L655.01 272.22L650.71 267.92Z" fill="none" stroke="#ff3030" stroke-width="0.75"/>
<path d="M660.07 263.65L664.37 267.95L660.07 272.25L655.77 267.95Z" fill="none" stroke="#ff3030" stroke-width="0.75"/>
<circle cx="54.5" cy="272.72" r="3.2" fill="none" stroke="#3030ff" stroke-width="0.75"/>
<circle cx="60.84" cy="262.65" r="3.2" fill="none" stroke="#3030ff" stroke-width="0.75"/>
<circle cx="65.59" cy="271" r="3.2" fill="none" stroke="#3030ff" stroke-width="0.75"/>
<circle cx="70.93" cy="270.69" r="3.2" fill="none" stroke="#3030ff" stroke-width="0.75"/>
<circle cx="76.64" cy="274.97" r="3.2" fill="none" stroke="#3030ff" stroke-width="0.75"/>
<circle cx="82.26" cy="267.12" r="3.2" fill="none" stroke="#3030ff" stroke-width="0.75"/>
<circle cx="88.14" cy="264.66" r="3.2" fill="none" stroke="#3030ff" stroke-width="0.75"/>
<circle cx="92.43" cy="270.57" r="3.2" fill="none" stroke="#3030ff" stroke-width="0.75"/>
<circle cx="98.35" cy="270.23" r="3.2" fill="none" stroke="#3030ff" stroke-width="0.75"/>
<circle cx="103.97" cy="277.79" r="3.2" fill="none" stroke="#3030ff" stroke-width="0.75"/>
<circle cx="108.84" cy="271.31" r="3.2" fill="none" stroke="#3030ff" stroke-width="0.75"/>
<circle cx="114.44" cy="271.38" r="3.2" fill="none" stroke="#3030ff" stroke-width="0.75"/>
<circle cx="120.18" cy="270.41" r="3.2" fill="none" stroke="#3030ff" stroke-width="0.75"/>
<circle cx="125.53" cy="270.24" r="3.2" fill="none" stroke="#3030ff" stroke-width="0.75"/>
<circle cx="131.01" cy="267.24" r="3.2" fill="none" stroke="#3030ff" stroke-width="0.75"/>
<circle cx="136.53" cy="271.05" r="3.2" fill="none" stroke="#3030ff" stroke-width="0.75"/>
<circle cx="140.76" cy="267.96" r="3.2" fill="none" stroke="#3030ff" stroke-width="0.75"/>
<circle cx="147.07" cy="273.3" r="3.2" fill="none" stroke="#3030ff" stroke-width="0.75"/>
<circle cx="152.68" cy="272.52" r="3.2" fill="none" stroke="#3030ff" stroke-width="0.75"/>
<circle cx="157.4" cy="266.42" r="3.2" fill="none" stroke="#3030ff" stroke-width="0.75"/>
<circle cx="162.14" cy="275.05" r="3.2" fill="none" stroke="#3030ff" stroke-width="0.75"/>
<circle cx="167.02" cy="267.85" r="3.2" fill="none" stroke="#3030ff" stroke-width="0.75"/>
<circle cx="171.27" cy="263.61" r="3.2" fill="none" stroke="#3030ff" stroke-width="0.75"/>
<circle cx="176.39" cy="269.36" r="3.2" fill="none" stroke="#3030ff" stroke-width="0.75"/>
<circle cx="181.16" cy="265.01" r="3.2" fill="none" stroke="#3030ff" stroke-width="0.75"/>
<circle cx="185.86" cy="261.79" r="3.2" fill="none" stroke="#3030ff" stroke-width="0.75"/>
<circle cx="190.13" cy="267.21" r="3.2" fill="none" stroke="#3030ff" stroke-width="0.75"/>
<circle cx="195.83" cy="272.68" r="3.2" fill="none" stroke="#3030ff" stroke-width="0.75"/>
<circle cx="200.47" cy="271.12" r="3.2" fill="none" stroke="#3030ff" stroke-width="0.75"/>
<circle cx="205.78" cy="263.34" r="3.2" fill="none" stroke="#3030ff" stroke-width="0.75"/>
<circle cx="210.43" cy="272.53" r="3.2" fill="none" stroke="#3030ff" stroke-width="0.75"/>
<circle cx="216.44" cy="268.68" r="3.2" fill="none" stroke="#3030ff" stroke-width="0.75"/>
<circle cx="221.14" cy="270.45" r="3.2" fill="none" stroke="#3030ff" stroke-width="0.75"/>
<circle cx="225.99" cy="275.62" r="3.2" fill="none" stroke="#3030ff" stroke-width="0.75"/>
<circle cx="232.29" cy="266.85" r="3.2" fill="none" stroke="#3030ff" stroke-width="0.75"/>
<circle cx="236.98" cy="269.37" r="3.2" fill="none" stroke="#3030ff" stroke-width="0.75"/>
<circle cx="242.1" cy="264.6" r="3.2" fill="none" stroke="#3030ff" stroke-width="0.75"/>
<circle cx="246.62" cy="261.32" r="3.2" fill="none" stroke="#3030ff" stroke-width="0.75"/>
<circle cx="251.68" cy="271.67" r="3.2" fill="none" stroke="#3030ff" stroke-width="0.75"/>
<circle cx="256.2" cy="278.3" r="3.2" fill="none" stroke="#3030ff" stroke-width="0.75"/>
<circle cx="260.51" cy="272.83" r="3.2" fill="none" stroke="#3030ff" stroke-width="0.75"/>
<circle cx="266.69" cy="270.7" r="3.2" fill="none" stroke="#3030ff" stroke-width="0.75"/>
<circle cx="272.83" cy="267.87" r="3.2" fill="none" stroke="#3030ff" stroke-width="0.75"/>
<circle cx="279.08" cy="260.3" r="3.2" fill="none" stroke="#3030ff" stroke-width="0.75"/>
<circle cx="284" cy="272.81" r="3.2" fill="none" stroke="#3030ff" stroke-width="0.75"/>
<circle cx="289.85" cy="277.49" r="3.2" fill="none" stroke="#3030ff" stroke-width="0.75"/>
<circle cx="294.12" cy="267.4" r="3.2" fill="none" stroke="#3030ff" stroke-width="0.75"/>
<circle cx="299.14" cy="266.12" r="3.2" fill="none" stroke="#3030ff" stroke-width="0.75"/>
<circle cx="304.07" cy="269.44" r="3.2" fill="none" stroke="#3030ff" stroke-width="0.75"/>
<circle cx="308.88" cy="269.55" r="3.2" fill="none" stroke="#3030ff" stroke-width="0.75"/>
<circle cx="313.86" cy="271.18" r="3.2" fill="none" stroke="#3030ff" stroke-width="0.75"/>
<circle cx="320.18" cy="268.76" r="3.2" fill="none" stroke="#3030ff" stroke-width="0.75"/>
<circle cx="324.83" cy="264.92" r="3.2" fill="none" stroke="#3030ff" stroke-width="0.75"/>
<circle cx="330.84" cy="274.83" r="3.2" fill="none" stroke="#3030ff" stroke-width="0.75"/>
<circle cx="335.99" cy="273.4" r="3.2" fill="none" stroke="#3030ff" stroke-width="0.75"/>
<circle cx="341.01" cy="270.61" r="3.2" fill="none" stroke="#3030ff" stroke-width="0.75"/>
<circle cx="347.24" cy="270.57" r="3.2" fill="none" stroke="#3030ff" stroke-width="0.75"/>
<circle cx="353.41" cy="272.69" r="3.2" fill="none" stroke="#3030ff" stroke-width="0.75"/>
<circle cx="357.68" cy="263.42" r="3.2" fill="none" stroke="#3030ff" stroke-width="0.75"/>
<circle cx="363.56" cy="272.99" r="3.2" fill="none" stroke="#3030ff" stroke-width="0.75"/>
<circle cx="367.85" cy="270.63" r="3.2" fill="none" stroke="#3030ff" stroke-width="0.75"/>
<circle cx="374.08" cy="269.6" r="3.2" fill="none" stroke="#3030ff" stroke-width="0.75"/>
<circle cx="378.84" cy="269.16" r="3.2" fill="none" stroke="#3030ff" stroke-width="0.75"/>
<circle cx="383.79" cy="261.17" r="3.2" fill="none" stroke="#3030ff" stroke-width="0.75"/>
<circle cx="388.59" cy="274.38" r="3.2" fill="none" stroke="#3030ff" stroke-width="0.75"/>
<circle cx="393.36" cy="267.92" r="3.2" fill="none" stroke="#3030ff" stroke-width="0.75"/>
<circle cx="399.14" cy="268.06" r="3.2" fill="none" stroke="#3030ff" stroke-width="0.75"/>
</g>
<text x="500.8" y="301.6" font-size="10" text-anchor="start" fill="#111">Coulombic efficiency &gt; avg. 99.9%</text>
<rect x="50.3" y="320" width="88.1" height="35.2" fill="#fff" stroke="#d0d0d0" stroke-width="0.8"/>
<path d="M61.7 322.4L65.6 326.3L61.7 330.2L57.8 326.3Z" fill="none" stroke="#ff3030" stroke-width="0.8"/>
<circle cx="61.7" cy="337.7" r="3" fill="none" stroke="#3030ff" stroke-width="0.8"/>
<rect x="58.9" y="346" width="5.6" height="5.6" fill="none" stroke="#555" stroke-width="0.8"/>
<text x="74.5" y="329.6" font-size="9.2" text-anchor="start" fill="#111"><tspan font-style="italic">s</tspan>PIM-SBF-1.40</text>
<text x="74.5" y="341" font-size="9.2" text-anchor="start" fill="#111"><tspan font-style="italic">s</tspan>PIM-SBF-1.67</text>
<text x="74.5" y="352.1" font-size="9.2" text-anchor="start" fill="#111">Nafion 115</text>
<g clip-path="url(#clipD2)">
<polyline points="53.8,378.26 58.79,376.7 63.78,375.61 68.77,375.99 73.76,374.24 78.75,374.62 83.75,375.61 88.74,377.21 93.73,378 98.72,377.81 103.71,378.55 108.7,379.62 113.69,380.25 118.68,381.28 123.67,380.08 128.66,381.33 133.65,381.41 138.65,381.93 143.64,382.21 148.63,382.28 153.62,381.29 158.61,380.41 163.6,380.81 168.59,382.34 173.58,381.85 178.57,382.83 183.56,385.16 188.55,385.8 193.55,386.64 198.54,387.61 203.53,389.57 208.52,390.18 213.51,391.6 218.5,391.34 223.49,391.43 228.48,390.04 233.47,389.63 238.46,389.57 243.45,390.3 248.45,390.68 253.44,390.2 258.43,389.82 263.42,390.22 268.41,391.46 273.4,392.42 278.39,393.43 283.38,394.47 288.37,395.01 293.36,395 298.35,397.31 303.35,397.34 308.34,398.85 313.33,399.52 318.32,401.19 323.31,400.75 328.3,401.29 333.29,401.74 338.28,402.02 343.27,403.79 348.26,403.69 353.25,403.56 358.25,403.84 363.24,405.06 368.23,404.34 373.22,404 378.21,405.19 383.2,405.07 388.19,405.98 393.18,404.69 398.17,405.68 403.16,406.61 408.15,406.96 413.15,407.43 418.14,406.21 423.13,407.01 428.12,407.04 433.11,407.52 438.1,409.28 443.09,408.92 448.08,409.89 453.07,409.24 458.06,410.75 463.05,410.8 468.05,411.26 473.04,412.99 478.03,414.04 483.02,413.26 488.01,414.87 493,415.63 497.99,415.52 502.98,415.96 507.97,415.72 512.96,416 517.95,416.26 522.95,417.04 527.94,417.3 532.93,416.66 537.92,416.48 542.91,417.22 547.9,418.16 552.89,417.67 557.88,418.31 562.87,418.52 567.86,419.99 572.85,419.95 577.85,419.52 582.84,420.19 587.83,421.33 592.82,422.22 597.81,422.98 602.8,423.41 607.79,425.58 612.78,428.56 617.77,428.8 622.76,429.32 627.75,430.12 632.75,431.94 637.74,430.96 642.73,431.6 647.72,431.39 652.71,431.67 657.7,432.66" fill="none" stroke="#222" stroke-width="0.8"/>
<rect x="50.6" y="375.06" width="6.4" height="6.4" fill="#bdbdbd" stroke="#444" stroke-width="0.7"/>
<rect x="55.59" y="373.5" width="6.4" height="6.4" fill="#bdbdbd" stroke="#444" stroke-width="0.7"/>
<rect x="60.58" y="372.41" width="6.4" height="6.4" fill="#bdbdbd" stroke="#444" stroke-width="0.7"/>
<rect x="65.57" y="372.79" width="6.4" height="6.4" fill="#bdbdbd" stroke="#444" stroke-width="0.7"/>
<rect x="70.56" y="371.04" width="6.4" height="6.4" fill="#bdbdbd" stroke="#444" stroke-width="0.7"/>
<rect x="75.55" y="371.42" width="6.4" height="6.4" fill="#bdbdbd" stroke="#444" stroke-width="0.7"/>
<rect x="80.55" y="372.41" width="6.4" height="6.4" fill="#bdbdbd" stroke="#444" stroke-width="0.7"/>
<rect x="85.54" y="374.01" width="6.4" height="6.4" fill="#bdbdbd" stroke="#444" stroke-width="0.7"/>
<rect x="90.53" y="374.8" width="6.4" height="6.4" fill="#bdbdbd" stroke="#444" stroke-width="0.7"/>
<rect x="95.52" y="374.61" width="6.4" height="6.4" fill="#bdbdbd" stroke="#444" stroke-width="0.7"/>
<rect x="100.51" y="375.35" width="6.4" height="6.4" fill="#bdbdbd" stroke="#444" stroke-width="0.7"/>
<rect x="105.5" y="376.42" width="6.4" height="6.4" fill="#bdbdbd" stroke="#444" stroke-width="0.7"/>
<rect x="110.49" y="377.05" width="6.4" height="6.4" fill="#bdbdbd" stroke="#444" stroke-width="0.7"/>
<rect x="115.48" y="378.08" width="6.4" height="6.4" fill="#bdbdbd" stroke="#444" stroke-width="0.7"/>
<rect x="120.47" y="376.88" width="6.4" height="6.4" fill="#bdbdbd" stroke="#444" stroke-width="0.7"/>
<rect x="125.46" y="378.13" width="6.4" height="6.4" fill="#bdbdbd" stroke="#444" stroke-width="0.7"/>
<rect x="130.45" y="378.21" width="6.4" height="6.4" fill="#bdbdbd" stroke="#444" stroke-width="0.7"/>
<rect x="135.45" y="378.73" width="6.4" height="6.4" fill="#bdbdbd" stroke="#444" stroke-width="0.7"/>
<rect x="140.44" y="379.01" width="6.4" height="6.4" fill="#bdbdbd" stroke="#444" stroke-width="0.7"/>
<rect x="145.43" y="379.08" width="6.4" height="6.4" fill="#bdbdbd" stroke="#444" stroke-width="0.7"/>
<rect x="150.42" y="378.09" width="6.4" height="6.4" fill="#bdbdbd" stroke="#444" stroke-width="0.7"/>
<rect x="155.41" y="377.21" width="6.4" height="6.4" fill="#bdbdbd" stroke="#444" stroke-width="0.7"/>
<rect x="160.4" y="377.61" width="6.4" height="6.4" fill="#bdbdbd" stroke="#444" stroke-width="0.7"/>
<rect x="165.39" y="379.14" width="6.4" height="6.4" fill="#bdbdbd" stroke="#444" stroke-width="0.7"/>
<rect x="170.38" y="378.65" width="6.4" height="6.4" fill="#bdbdbd" stroke="#444" stroke-width="0.7"/>
<rect x="175.37" y="379.63" width="6.4" height="6.4" fill="#bdbdbd" stroke="#444" stroke-width="0.7"/>
<rect x="180.36" y="381.96" width="6.4" height="6.4" fill="#bdbdbd" stroke="#444" stroke-width="0.7"/>
<rect x="185.35" y="382.6" width="6.4" height="6.4" fill="#bdbdbd" stroke="#444" stroke-width="0.7"/>
<rect x="190.35" y="383.44" width="6.4" height="6.4" fill="#bdbdbd" stroke="#444" stroke-width="0.7"/>
<rect x="195.34" y="384.41" width="6.4" height="6.4" fill="#bdbdbd" stroke="#444" stroke-width="0.7"/>
<rect x="200.33" y="386.37" width="6.4" height="6.4" fill="#bdbdbd" stroke="#444" stroke-width="0.7"/>
<rect x="205.32" y="386.98" width="6.4" height="6.4" fill="#bdbdbd" stroke="#444" stroke-width="0.7"/>
<rect x="210.31" y="388.4" width="6.4" height="6.4" fill="#bdbdbd" stroke="#444" stroke-width="0.7"/>
<rect x="215.3" y="388.14" width="6.4" height="6.4" fill="#bdbdbd" stroke="#444" stroke-width="0.7"/>
<rect x="220.29" y="388.23" width="6.4" height="6.4" fill="#bdbdbd" stroke="#444" stroke-width="0.7"/>
<rect x="225.28" y="386.84" width="6.4" height="6.4" fill="#bdbdbd" stroke="#444" stroke-width="0.7"/>
<rect x="230.27" y="386.43" width="6.4" height="6.4" fill="#bdbdbd" stroke="#444" stroke-width="0.7"/>
<rect x="235.26" y="386.37" width="6.4" height="6.4" fill="#bdbdbd" stroke="#444" stroke-width="0.7"/>
<rect x="240.25" y="387.1" width="6.4" height="6.4" fill="#bdbdbd" stroke="#444" stroke-width="0.7"/>
<rect x="245.25" y="387.48" width="6.4" height="6.4" fill="#bdbdbd" stroke="#444" stroke-width="0.7"/>
<rect x="250.24" y="387" width="6.4" height="6.4" fill="#bdbdbd" stroke="#444" stroke-width="0.7"/>
<rect x="255.23" y="386.62" width="6.4" height="6.4" fill="#bdbdbd" stroke="#444" stroke-width="0.7"/>
<rect x="260.22" y="387.02" width="6.4" height="6.4" fill="#bdbdbd" stroke="#444" stroke-width="0.7"/>
<rect x="265.21" y="388.26" width="6.4" height="6.4" fill="#bdbdbd" stroke="#444" stroke-width="0.7"/>
<rect x="270.2" y="389.22" width="6.4" height="6.4" fill="#bdbdbd" stroke="#444" stroke-width="0.7"/>
<rect x="275.19" y="390.23" width="6.4" height="6.4" fill="#bdbdbd" stroke="#444" stroke-width="0.7"/>
<rect x="280.18" y="391.27" width="6.4" height="6.4" fill="#bdbdbd" stroke="#444" stroke-width="0.7"/>
<rect x="285.17" y="391.81" width="6.4" height="6.4" fill="#bdbdbd" stroke="#444" stroke-width="0.7"/>
<rect x="290.16" y="391.8" width="6.4" height="6.4" fill="#bdbdbd" stroke="#444" stroke-width="0.7"/>
<rect x="295.15" y="394.11" width="6.4" height="6.4" fill="#bdbdbd" stroke="#444" stroke-width="0.7"/>
<rect x="300.15" y="394.14" width="6.4" height="6.4" fill="#bdbdbd" stroke="#444" stroke-width="0.7"/>
<rect x="305.14" y="395.65" width="6.4" height="6.4" fill="#bdbdbd" stroke="#444" stroke-width="0.7"/>
<rect x="310.13" y="396.32" width="6.4" height="6.4" fill="#bdbdbd" stroke="#444" stroke-width="0.7"/>
<rect x="315.12" y="397.99" width="6.4" height="6.4" fill="#bdbdbd" stroke="#444" stroke-width="0.7"/>
<rect x="320.11" y="397.55" width="6.4" height="6.4" fill="#bdbdbd" stroke="#444" stroke-width="0.7"/>
<rect x="325.1" y="398.09" width="6.4" height="6.4" fill="#bdbdbd" stroke="#444" stroke-width="0.7"/>
<rect x="330.09" y="398.54" width="6.4" height="6.4" fill="#bdbdbd" stroke="#444" stroke-width="0.7"/>
<rect x="335.08" y="398.82" width="6.4" height="6.4" fill="#bdbdbd" stroke="#444" stroke-width="0.7"/>
<rect x="340.07" y="400.59" width="6.4" height="6.4" fill="#bdbdbd" stroke="#444" stroke-width="0.7"/>
<rect x="345.06" y="400.49" width="6.4" height="6.4" fill="#bdbdbd" stroke="#444" stroke-width="0.7"/>
<rect x="350.05" y="400.36" width="6.4" height="6.4" fill="#bdbdbd" stroke="#444" stroke-width="0.7"/>
<rect x="355.05" y="400.64" width="6.4" height="6.4" fill="#bdbdbd" stroke="#444" stroke-width="0.7"/>
<rect x="360.04" y="401.86" width="6.4" height="6.4" fill="#bdbdbd" stroke="#444" stroke-width="0.7"/>
<rect x="365.03" y="401.14" width="6.4" height="6.4" fill="#bdbdbd" stroke="#444" stroke-width="0.7"/>
<rect x="370.02" y="400.8" width="6.4" height="6.4" fill="#bdbdbd" stroke="#444" stroke-width="0.7"/>
<rect x="375.01" y="401.99" width="6.4" height="6.4" fill="#bdbdbd" stroke="#444" stroke-width="0.7"/>
<rect x="380" y="401.87" width="6.4" height="6.4" fill="#bdbdbd" stroke="#444" stroke-width="0.7"/>
<rect x="384.99" y="402.78" width="6.4" height="6.4" fill="#bdbdbd" stroke="#444" stroke-width="0.7"/>
<rect x="389.98" y="401.49" width="6.4" height="6.4" fill="#bdbdbd" stroke="#444" stroke-width="0.7"/>
<rect x="394.97" y="402.48" width="6.4" height="6.4" fill="#bdbdbd" stroke="#444" stroke-width="0.7"/>
<rect x="399.96" y="403.41" width="6.4" height="6.4" fill="#bdbdbd" stroke="#444" stroke-width="0.7"/>
<rect x="404.95" y="403.76" width="6.4" height="6.4" fill="#bdbdbd" stroke="#444" stroke-width="0.7"/>
<rect x="409.95" y="404.23" width="6.4" height="6.4" fill="#bdbdbd" stroke="#444" stroke-width="0.7"/>
<rect x="414.94" y="403.01" width="6.4" height="6.4" fill="#bdbdbd" stroke="#444" stroke-width="0.7"/>
<rect x="419.93" y="403.81" width="6.4" height="6.4" fill="#bdbdbd" stroke="#444" stroke-width="0.7"/>
<rect x="424.92" y="403.84" width="6.4" height="6.4" fill="#bdbdbd" stroke="#444" stroke-width="0.7"/>
<rect x="429.91" y="404.32" width="6.4" height="6.4" fill="#bdbdbd" stroke="#444" stroke-width="0.7"/>
<rect x="434.9" y="406.08" width="6.4" height="6.4" fill="#bdbdbd" stroke="#444" stroke-width="0.7"/>
<rect x="439.89" y="405.72" width="6.4" height="6.4" fill="#bdbdbd" stroke="#444" stroke-width="0.7"/>
<rect x="444.88" y="406.69" width="6.4" height="6.4" fill="#bdbdbd" stroke="#444" stroke-width="0.7"/>
<rect x="449.87" y="406.04" width="6.4" height="6.4" fill="#bdbdbd" stroke="#444" stroke-width="0.7"/>
<rect x="454.86" y="407.55" width="6.4" height="6.4" fill="#bdbdbd" stroke="#444" stroke-width="0.7"/>
<rect x="459.85" y="407.6" width="6.4" height="6.4" fill="#bdbdbd" stroke="#444" stroke-width="0.7"/>
<rect x="464.85" y="408.06" width="6.4" height="6.4" fill="#bdbdbd" stroke="#444" stroke-width="0.7"/>
<rect x="469.84" y="409.79" width="6.4" height="6.4" fill="#bdbdbd" stroke="#444" stroke-width="0.7"/>
<rect x="474.83" y="410.84" width="6.4" height="6.4" fill="#bdbdbd" stroke="#444" stroke-width="0.7"/>
<rect x="479.82" y="410.06" width="6.4" height="6.4" fill="#bdbdbd" stroke="#444" stroke-width="0.7"/>
<rect x="484.81" y="411.67" width="6.4" height="6.4" fill="#bdbdbd" stroke="#444" stroke-width="0.7"/>
<rect x="489.8" y="412.43" width="6.4" height="6.4" fill="#bdbdbd" stroke="#444" stroke-width="0.7"/>
<rect x="494.79" y="412.32" width="6.4" height="6.4" fill="#bdbdbd" stroke="#444" stroke-width="0.7"/>
<rect x="499.78" y="412.76" width="6.4" height="6.4" fill="#bdbdbd" stroke="#444" stroke-width="0.7"/>
<rect x="504.77" y="412.52" width="6.4" height="6.4" fill="#bdbdbd" stroke="#444" stroke-width="0.7"/>
<rect x="509.76" y="412.8" width="6.4" height="6.4" fill="#bdbdbd" stroke="#444" stroke-width="0.7"/>
<rect x="514.75" y="413.06" width="6.4" height="6.4" fill="#bdbdbd" stroke="#444" stroke-width="0.7"/>
<rect x="519.75" y="413.84" width="6.4" height="6.4" fill="#bdbdbd" stroke="#444" stroke-width="0.7"/>
<rect x="524.74" y="414.1" width="6.4" height="6.4" fill="#bdbdbd" stroke="#444" stroke-width="0.7"/>
<rect x="529.73" y="413.46" width="6.4" height="6.4" fill="#bdbdbd" stroke="#444" stroke-width="0.7"/>
<rect x="534.72" y="413.28" width="6.4" height="6.4" fill="#bdbdbd" stroke="#444" stroke-width="0.7"/>
<rect x="539.71" y="414.02" width="6.4" height="6.4" fill="#bdbdbd" stroke="#444" stroke-width="0.7"/>
<rect x="544.7" y="414.96" width="6.4" height="6.4" fill="#bdbdbd" stroke="#444" stroke-width="0.7"/>
<rect x="549.69" y="414.47" width="6.4" height="6.4" fill="#bdbdbd" stroke="#444" stroke-width="0.7"/>
<rect x="554.68" y="415.11" width="6.4" height="6.4" fill="#bdbdbd" stroke="#444" stroke-width="0.7"/>
<rect x="559.67" y="415.32" width="6.4" height="6.4" fill="#bdbdbd" stroke="#444" stroke-width="0.7"/>
<rect x="564.66" y="416.79" width="6.4" height="6.4" fill="#bdbdbd" stroke="#444" stroke-width="0.7"/>
<rect x="569.65" y="416.75" width="6.4" height="6.4" fill="#bdbdbd" stroke="#444" stroke-width="0.7"/>
<rect x="574.65" y="416.32" width="6.4" height="6.4" fill="#bdbdbd" stroke="#444" stroke-width="0.7"/>
<rect x="579.64" y="416.99" width="6.4" height="6.4" fill="#bdbdbd" stroke="#444" stroke-width="0.7"/>
<rect x="584.63" y="418.13" width="6.4" height="6.4" fill="#bdbdbd" stroke="#444" stroke-width="0.7"/>
<rect x="589.62" y="419.02" width="6.4" height="6.4" fill="#bdbdbd" stroke="#444" stroke-width="0.7"/>
<rect x="594.61" y="419.78" width="6.4" height="6.4" fill="#bdbdbd" stroke="#444" stroke-width="0.7"/>
<rect x="599.6" y="420.21" width="6.4" height="6.4" fill="#bdbdbd" stroke="#444" stroke-width="0.7"/>
<rect x="604.59" y="422.38" width="6.4" height="6.4" fill="#bdbdbd" stroke="#444" stroke-width="0.7"/>
<rect x="609.58" y="425.36" width="6.4" height="6.4" fill="#bdbdbd" stroke="#444" stroke-width="0.7"/>
<rect x="614.57" y="425.6" width="6.4" height="6.4" fill="#bdbdbd" stroke="#444" stroke-width="0.7"/>
<rect x="619.56" y="426.12" width="6.4" height="6.4" fill="#bdbdbd" stroke="#444" stroke-width="0.7"/>
<rect x="624.55" y="426.92" width="6.4" height="6.4" fill="#bdbdbd" stroke="#444" stroke-width="0.7"/>
<rect x="629.55" y="428.74" width="6.4" height="6.4" fill="#bdbdbd" stroke="#444" stroke-width="0.7"/>
<rect x="634.54" y="427.76" width="6.4" height="6.4" fill="#bdbdbd" stroke="#444" stroke-width="0.7"/>
<rect x="639.53" y="428.4" width="6.4" height="6.4" fill="#bdbdbd" stroke="#444" stroke-width="0.7"/>
<rect x="644.52" y="428.19" width="6.4" height="6.4" fill="#bdbdbd" stroke="#444" stroke-width="0.7"/>
<rect x="649.51" y="428.47" width="6.4" height="6.4" fill="#bdbdbd" stroke="#444" stroke-width="0.7"/>
<rect x="654.5" y="429.46" width="6.4" height="6.4" fill="#bdbdbd" stroke="#444" stroke-width="0.7"/>
<polyline points="53,376.7 57.2,373.86 61.4,371.69 65.6,372.43 69.8,371.86 74,371.06 78.2,371.79 82.4,370.64 86.59,370.76 90.79,369.75 94.99,369.98 99.19,368.95 103.39,368.1 107.59,367.51 111.79,367.95 115.99,367.78 120.19,367.85 124.39,366.42 128.59,367.17 132.79,366.82 136.99,367.01 141.19,366.52 145.38,367.11 149.58,367.84 153.78,368.8 157.98,368.06 162.18,368.81 166.38,369.41 170.58,369.81 174.78,368.89 178.98,368.96 183.18,370.26 187.38,370.47 191.58,369.95 195.78,369.51 199.98,370.9 204.18,370.12 208.37,370.82 212.57,370.41 216.77,370.67 220.97,369.72 225.17,370.57 229.37,369.76 233.57,370 237.77,370.6 241.97,370.55 246.17,369.63 250.37,369.65 254.57,369.89 258.77,370.03 262.97,369.82 267.16,369.44 271.36,369.59 275.56,370.24 279.76,370.46 283.96,369.24 288.16,369.95 292.36,370.2 296.56,369.17 300.76,370.27 304.96,369.26 309.16,369.94 313.36,369.87 317.56,369.98 321.76,369.53 325.95,369.69 330.15,369.92 334.35,369.7 338.55,370.02 342.75,369.73 346.95,369.71 351.15,369.13 355.35,369.97 359.55,369.79 363.75,369.43 367.95,370.17 372.15,370.19 376.35,369.74 380.55,369.35 384.75,369.76 388.94,369.25 393.14,369.28 397.34,369.7 401.54,369.25 405.74,369.81 409.94,369.97 414.14,369.37 418.34,370.27 422.54,369.56 426.74,370.54 430.94,370.66 435.14,370.36 439.34,369.78 443.54,370.48 447.73,370.36 451.93,371.23 456.13,370.15 460.33,371.23 464.53,371.49 468.73,371.07 472.93,371.12 477.13,370.18 481.33,371.22 485.53,370.47 489.73,371.05 493.93,370.93 498.13,369.81 502.33,370.62 506.53,370.75 510.72,369.48 514.92,369.81 519.12,370.31 523.32,369.41 527.52,370.38 531.72,369.66 535.92,370.67 540.12,370 544.32,370.76 548.52,371.61 552.72,370.87 556.92,371.21 561.12,371.82 565.32,371.82 569.51,371.68 573.71,372.15 577.91,372.29 582.11,373.22 586.31,372.7 590.51,372.85 594.71,371.67 598.91,372.38 603.11,371.28 607.31,371.71 611.51,371.7 615.71,371.15 619.91,371.71 624.11,371.11 628.3,370.89 632.5,371.03 636.7,369.66 640.9,370.62 645.1,369.83 649.3,369.22 653.5,369.5 657.7,368.47" fill="none" stroke="#ff5050" stroke-width="0.8"/>
<path d="M53 372.5L57.2 376.7L53 380.9L48.8 376.7Z" fill="#ffa8a8" stroke="#ff6060" stroke-width="0.7"/>
<path d="M57.2 369.66L61.4 373.86L57.2 378.06L53 373.86Z" fill="#ffa8a8" stroke="#ff6060" stroke-width="0.7"/>
<path d="M61.4 367.49L65.6 371.69L61.4 375.89L57.2 371.69Z" fill="#ffa8a8" stroke="#ff6060" stroke-width="0.7"/>
<path d="M65.6 368.23L69.8 372.43L65.6 376.63L61.4 372.43Z" fill="#ffa8a8" stroke="#ff6060" stroke-width="0.7"/>
<path d="M69.8 367.66L74 371.86L69.8 376.06L65.6 371.86Z" fill="#ffa8a8" stroke="#ff6060" stroke-width="0.7"/>
<path d="M74 366.86L78.2 371.06L74 375.26L69.8 371.06Z" fill="#ffa8a8" stroke="#ff6060" stroke-width="0.7"/>
<path d="M78.2 367.59L82.4 371.79L78.2 375.99L74 371.79Z" fill="#ffa8a8" stroke="#ff6060" stroke-width="0.7"/>
<path d="M82.4 366.44L86.6 370.64L82.4 374.84L78.2 370.64Z" fill="#ffa8a8" stroke="#ff6060" stroke-width="0.7"/>
<path d="M86.59 366.56L90.79 370.76L86.59 374.96L82.39 370.76Z" fill="#ffa8a8" stroke="#ff6060" stroke-width="0.7"/>
<path d="M90.79 365.55L94.99 369.75L90.79 373.95L86.59 369.75Z" fill="#ffa8a8" stroke="#ff6060" stroke-width="0.7"/>
<path d="M94.99 365.78L99.19 369.98L94.99 374.18L90.79 369.98Z" fill="#ffa8a8" stroke="#ff6060" stroke-width="0.7"/>
<path d="M99.19 364.75L103.39 368.95L99.19 373.15L94.99 368.95Z" fill="#ffa8a8" stroke="#ff6060" stroke-width="0.7"/>
<path d="M103.39 363.9L107.59 368.1L103.39 372.3L99.19 368.1Z" fill="#ffa8a8" stroke="#ff6060" stroke-width="0.7"/>
<path d="M107.59 363.31L111.79 367.51L107.59 371.71L103.39 367.51Z" fill="#ffa8a8" stroke="#ff6060" stroke-width="0.7"/>
<path d="M111.79 363.75L115.99 367.95L111.79 372.15L107.59 367.95Z" fill="#ffa8a8" stroke="#ff6060" stroke-width="0.7"/>
<path d="M115.99 363.58L120.19 367.78L115.99 371.98L111.79 367.78Z" fill="#ffa8a8" stroke="#ff6060" stroke-width="0.7"/>
<path d="M120.19 363.65L124.39 367.85L120.19 372.05L115.99 367.85Z" fill="#ffa8a8" stroke="#ff6060" stroke-width="0.7"/>
<path d="M124.39 362.22L128.59 366.42L124.39 370.62L120.19 366.42Z" fill="#ffa8a8" stroke="#ff6060" stroke-width="0.7"/>
<path d="M128.59 362.97L132.79 367.17L128.59 371.37L124.39 367.17Z" fill="#ffa8a8" stroke="#ff6060" stroke-width="0.7"/>
<path d="M132.79 362.62L136.99 366.82L132.79 371.02L128.59 366.82Z" fill="#ffa8a8" stroke="#ff6060" stroke-width="0.7"/>
<path d="M136.99 362.81L141.19 367.01L136.99 371.21L132.79 367.01Z" fill="#ffa8a8" stroke="#ff6060" stroke-width="0.7"/>
<path d="M141.19 362.32L145.39 366.52L141.19 370.72L136.99 366.52Z" fill="#ffa8a8" stroke="#ff6060" stroke-width="0.7"/>
<path d="M145.38 362.91L149.58 367.11L145.38 371.31L141.18 367.11Z" fill="#ffa8a8" stroke="#ff6060" stroke-width="0.7"/>
<path d="M149.58 363.64L153.78 367.84L149.58 372.04L145.38 367.84Z" fill="#ffa8a8" stroke="#ff6060" stroke-width="0.7"/>
<path d="M153.78 364.6L157.98 368.8L153.78 373L149.58 368.8Z" fill="#ffa8a8" stroke="#ff6060" stroke-width="0.7"/>
<path d="M157.98 363.86L162.18 368.06L157.98 372.26L153.78 368.06Z" fill="#ffa8a8" stroke="#ff6060" stroke-width="0.7"/>
<path d="M162.18 364.61L166.38 368.81L162.18 373.01L157.98 368.81Z" fill="#ffa8a8" stroke="#ff6060" stroke-width="0.7"/>
<path d="M166.38 365.21L170.58 369.41L166.38 373.61L162.18 369.41Z" fill="#ffa8a8" stroke="#ff6060" stroke-width="0.7"/>
<path d="M170.58 365.61L174.78 369.81L170.58 374.01L166.38 369.81Z" fill="#ffa8a8" stroke="#ff6060" stroke-width="0.7"/>
<path d="M174.78 364.69L178.98 368.89L174.78 373.09L170.58 368.89Z" fill="#ffa8a8" stroke="#ff6060" stroke-width="0.7"/>
<path d="M178.98 364.76L183.18 368.96L178.98 373.16L174.78 368.96Z" fill="#ffa8a8" stroke="#ff6060" stroke-width="0.7"/>
<path d="M183.18 366.06L187.38 370.26L183.18 374.46L178.98 370.26Z" fill="#ffa8a8" stroke="#ff6060" stroke-width="0.7"/>
<path d="M187.38 366.27L191.58 370.47L187.38 374.67L183.18 370.47Z" fill="#ffa8a8" stroke="#ff6060" stroke-width="0.7"/>
<path d="M191.58 365.75L195.78 369.95L191.58 374.15L187.38 369.95Z" fill="#ffa8a8" stroke="#ff6060" stroke-width="0.7"/>
<path d="M195.78 365.31L199.98 369.51L195.78 373.71L191.58 369.51Z" fill="#ffa8a8" stroke="#ff6060" stroke-width="0.7"/>
<path d="M199.98 366.7L204.18 370.9L199.98 375.1L195.78 370.9Z" fill="#ffa8a8" stroke="#ff6060" stroke-width="0.7"/>
<path d="M204.18 365.92L208.38 370.12L204.18 374.32L199.98 370.12Z" fill="#ffa8a8" stroke="#ff6060" stroke-width="0.7"/>
<path d="M208.37 366.62L212.57 370.82L208.37 375.02L204.17 370.82Z" fill="#ffa8a8" stroke="#ff6060" stroke-width="0.7"/>
<path d="M212.57 366.21L216.77 370.41L212.57 374.61L208.37 370.41Z" fill="#ffa8a8" stroke="#ff6060" stroke-width="0.7"/>
<path d="M216.77 366.47L220.97 370.67L216.77 374.87L212.57 370.67Z" fill="#ffa8a8" stroke="#ff6060" stroke-width="0.7"/>
<path d="M220.97 365.52L225.17 369.72L220.97 373.92L216.77 369.72Z" fill="#ffa8a8" stroke="#ff6060" stroke-width="0.7"/>
<path d="M225.17 366.37L229.37 370.57L225.17 374.77L220.97 370.57Z" fill="#ffa8a8" stroke="#ff6060" stroke-width="0.7"/>
<path d="M229.37 365.56L233.57 369.76L229.37 373.96L225.17 369.76Z" fill="#ffa8a8" stroke="#ff6060" stroke-width="0.7"/>
<path d="M233.57 365.8L237.77 370L233.57 374.2L229.37 370Z" fill="#ffa8a8" stroke="#ff6060" stroke-width="0.7"/>
<path d="M237.77 366.4L241.97 370.6L237.77 374.8L233.57 370.6Z" fill="#ffa8a8" stroke="#ff6060" stroke-width="0.7"/>
<path d="M241.97 366.35L246.17 370.55L241.97 374.75L237.77 370.55Z" fill="#ffa8a8" stroke="#ff6060" stroke-width="0.7"/>
<path d="M246.17 365.43L250.37 369.63L246.17 373.83L241.97 369.63Z" fill="#ffa8a8" stroke="#ff6060" stroke-width="0.7"/>
<path d="M250.37 365.45L254.57 369.65L250.37 373.85L246.17 369.65Z" fill="#ffa8a8" stroke="#ff6060" stroke-width="0.7"/>
<path d="M254.57 365.69L258.77 369.89L254.57 374.09L250.37 369.89Z" fill="#ffa8a8" stroke="#ff6060" stroke-width="0.7"/>
<path d="M258.77 365.83L262.97 370.03L258.77 374.23L254.57 370.03Z" fill="#ffa8a8" stroke="#ff6060" stroke-width="0.7"/>
<path d="M262.97 365.62L267.17 369.82L262.97 374.02L258.77 369.82Z" fill="#ffa8a8" stroke="#ff6060" stroke-width="0.7"/>
<path d="M267.16 365.24L271.36 369.44L267.16 373.64L262.96 369.44Z" fill="#ffa8a8" stroke="#ff6060" stroke-width="0.7"/>
<path d="M271.36 365.39L275.56 369.59L271.36 373.79L267.16 369.59Z" fill="#ffa8a8" stroke="#ff6060" stroke-width="0.7"/>
<path d="M275.56 366.04L279.76 370.24L275.56 374.44L271.36 370.24Z" fill="#ffa8a8" stroke="#ff6060" stroke-width="0.7"/>
<path d="M279.76 366.26L283.96 370.46L279.76 374.66L275.56 370.46Z" fill="#ffa8a8" stroke="#ff6060" stroke-width="0.7"/>
<path d="M283.96 365.04L288.16 369.24L283.96 373.44L279.76 369.24Z" fill="#ffa8a8" stroke="#ff6060" stroke-width="0.7"/>
<path d="M288.16 365.75L292.36 369.95L288.16 374.15L283.96 369.95Z" fill="#ffa8a8" stroke="#ff6060" stroke-width="0.7"/>
<path d="M292.36 366L296.56 370.2L292.36 374.4L288.16 370.2Z" fill="#ffa8a8" stroke="#ff6060" stroke-width="0.7"/>
<path d="M296.56 364.97L300.76 369.17L296.56 373.37L292.36 369.17Z" fill="#ffa8a8" stroke="#ff6060" stroke-width="0.7"/>
<path d="M300.76 366.07L304.96 370.27L300.76 374.47L296.56 370.27Z" fill="#ffa8a8" stroke="#ff6060" stroke-width="0.7"/>
<path d="M304.96 365.06L309.16 369.26L304.96 373.46L300.76 369.26Z" fill="#ffa8a8" stroke="#ff6060" stroke-width="0.7"/>
<path d="M309.16 365.74L313.36 369.94L309.16 374.14L304.96 369.94Z" fill="#ffa8a8" stroke="#ff6060" stroke-width="0.7"/>
<path d="M313.36 365.67L317.56 369.87L313.36 374.07L309.16 369.87Z" fill="#ffa8a8" stroke="#ff6060" stroke-width="0.7"/>
<path d="M317.56 365.78L321.76 369.98L317.56 374.18L313.36 369.98Z" fill="#ffa8a8" stroke="#ff6060" stroke-width="0.7"/>
<path d="M321.76 365.33L325.96 369.53L321.76 373.73L317.56 369.53Z" fill="#ffa8a8" stroke="#ff6060" stroke-width="0.7"/>
<path d="M325.95 365.49L330.15 369.69L325.95 373.89L321.75 369.69Z" fill="#ffa8a8" stroke="#ff6060" stroke-width="0.7"/>
<path d="M330.15 365.72L334.35 369.92L330.15 374.12L325.95 369.92Z" fill="#ffa8a8" stroke="#ff6060" stroke-width="0.7"/>
<path d="M334.35 365.5L338.55 369.7L334.35 373.9L330.15 369.7Z" fill="#ffa8a8" stroke="#ff6060" stroke-width="0.7"/>
<path d="M338.55 365.82L342.75 370.02L338.55 374.22L334.35 370.02Z" fill="#ffa8a8" stroke="#ff6060" stroke-width="0.7"/>
<path d="M342.75 365.53L346.95 369.73L342.75 373.93L338.55 369.73Z" fill="#ffa8a8" stroke="#ff6060" stroke-width="0.7"/>
<path d="M346.95 365.51L351.15 369.71L346.95 373.91L342.75 369.71Z" fill="#ffa8a8" stroke="#ff6060" stroke-width="0.7"/>
<path d="M351.15 364.93L355.35 369.13L351.15 373.33L346.95 369.13Z" fill="#ffa8a8" stroke="#ff6060" stroke-width="0.7"/>
<path d="M355.35 365.77L359.55 369.97L355.35 374.17L351.15 369.97Z" fill="#ffa8a8" stroke="#ff6060" stroke-width="0.7"/>
<path d="M359.55 365.59L363.75 369.79L359.55 373.99L355.35 369.79Z" fill="#ffa8a8" stroke="#ff6060" stroke-width="0.7"/>
<path d="M363.75 365.23L367.95 369.43L363.75 373.63L359.55 369.43Z" fill="#ffa8a8" stroke="#ff6060" stroke-width="0.7"/>
<path d="M367.95 365.97L372.15 370.17L367.95 374.37L363.75 370.17Z" fill="#ffa8a8" stroke="#ff6060" stroke-width="0.7"/>
<path d="M372.15 365.99L376.35 370.19L372.15 374.39L367.95 370.19Z" fill="#ffa8a8" stroke="#ff6060" stroke-width="0.7"/>
<path d="M376.35 365.54L380.55 369.74L376.35 373.94L372.15 369.74Z" fill="#ffa8a8" stroke="#ff6060" stroke-width="0.7"/>
<path d="M380.55 365.15L384.75 369.35L380.55 373.55L376.35 369.35Z" fill="#ffa8a8" stroke="#ff6060" stroke-width="0.7"/>
<path d="M384.75 365.56L388.95 369.76L384.75 373.96L380.55 369.76Z" fill="#ffa8a8" stroke="#ff6060" stroke-width="0.7"/>
<path d="M388.94 365.05L393.14 369.25L388.94 373.45L384.74 369.25Z" fill="#ffa8a8" stroke="#ff6060" stroke-width="0.7"/>
<path d="M393.14 365.08L397.34 369.28L393.14 373.48L388.94 369.28Z" fill="#ffa8a8" stroke="#ff6060" stroke-width="0.7"/>
<path d="M397.34 365.5L401.54 369.7L397.34 373.9L393.14 369.7Z" fill="#ffa8a8" stroke="#ff6060" stroke-width="0.7"/>
<path d="M401.54 365.05L405.74 369.25L401.54 373.45L397.34 369.25Z" fill="#ffa8a8" stroke="#ff6060" stroke-width="0.7"/>
<path d="M405.74 365.61L409.94 369.81L405.74 374.01L401.54 369.81Z" fill="#ffa8a8" stroke="#ff6060" stroke-width="0.7"/>
<path d="M409.94 365.77L414.14 369.97L409.94 374.17L405.74 369.97Z" fill="#ffa8a8" stroke="#ff6060" stroke-width="0.7"/>
<path d="M414.14 365.17L418.34 369.37L414.14 373.57L409.94 369.37Z" fill="#ffa8a8" stroke="#ff6060" stroke-width="0.7"/>
<path d="M418.34 366.07L422.54 370.27L418.34 374.47L414.14 370.27Z" fill="#ffa8a8" stroke="#ff6060" stroke-width="0.7"/>
<path d="M422.54 365.36L426.74 369.56L422.54 373.76L418.34 369.56Z" fill="#ffa8a8" stroke="#ff6060" stroke-width="0.7"/>
<path d="M426.74 366.34L430.94 370.54L426.74 374.74L422.54 370.54Z" fill="#ffa8a8" stroke="#ff6060" stroke-width="0.7"/>
<path d="M430.94 366.46L435.14 370.66L430.94 374.86L426.74 370.66Z" fill="#ffa8a8" stroke="#ff6060" stroke-width="0.7"/>
<path d="M435.14 366.16L439.34 370.36L435.14 374.56L430.94 370.36Z" fill="#ffa8a8" stroke="#ff6060" stroke-width="0.7"/>
<path d="M439.34 365.58L443.54 369.78L439.34 373.98L435.14 369.78Z" fill="#ffa8a8" stroke="#ff6060" stroke-width="0.7"/>
<path d="M443.54 366.28L447.74 370.48L443.54 374.68L439.34 370.48Z" fill="#ffa8a8" stroke="#ff6060" stroke-width="0.7"/>
<path d="M447.73 366.16L451.93 370.36L447.73 374.56L443.53 370.36Z" fill="#ffa8a8" stroke="#ff6060" stroke-width="0.7"/>
<path d="M451.93 367.03L456.13 371.23L451.93 375.43L447.73 371.23Z" fill="#ffa8a8" stroke="#ff6060" stroke-width="0.7"/>
<path d="M456.13 365.95L460.33 370.15L456.13 374.35L451.93 370.15Z" fill="#ffa8a8" stroke="#ff6060" stroke-width="0.7"/>
<path d="M460.33 367.03L464.53 371.23L460.33 375.43L456.13 371.23Z" fill="#ffa8a8" stroke="#ff6060" stroke-width="0.7"/>
<path d="M464.53 367.29L468.73 371.49L464.53 375.69L460.33 371.49Z" fill="#ffa8a8" stroke="#ff6060" stroke-width="0.7"/>
<path d="M468.73 366.87L472.93 371.07L468.73 375.27L464.53 371.07Z" fill="#ffa8a8" stroke="#ff6060" stroke-width="0.7"/>
<path d="M472.93 366.92L477.13 371.12L472.93 375.32L468.73 371.12Z" fill="#ffa8a8" stroke="#ff6060" stroke-width="0.7"/>
<path d="M477.13 365.98L481.33 370.18L477.13 374.38L472.93 370.18Z" fill="#ffa8a8" stroke="#ff6060" stroke-width="0.7"/>
<path d="M481.33 367.02L485.53 371.22L481.33 375.42L477.13 371.22Z" fill="#ffa8a8" stroke="#ff6060" stroke-width="0.7"/>
<path d="M485.53 366.27L489.73 370.47L485.53 374.67L481.33 370.47Z" fill="#ffa8a8" stroke="#ff6060" stroke-width="0.7"/>
<path d="M489.73 366.85L493.93 371.05L489.73 375.25L485.53 371.05Z" fill="#ffa8a8" stroke="#ff6060" stroke-width="0.7"/>
<path d="M493.93 366.73L498.13 370.93L493.93 375.13L489.73 370.93Z" fill="#ffa8a8" stroke="#ff6060" stroke-width="0.7"/>
<path d="M498.13 365.61L502.33 369.81L498.13 374.01L493.93 369.81Z" fill="#ffa8a8" stroke="#ff6060" stroke-width="0.7"/>
<path d="M502.33 366.42L506.53 370.62L502.33 374.82L498.13 370.62Z" fill="#ffa8a8" stroke="#ff6060" stroke-width="0.7"/>
<path d="M506.53 366.55L510.73 370.75L506.53 374.95L502.33 370.75Z" fill="#ffa8a8" stroke="#ff6060" stroke-width="0.7"/>
<path d="M510.72 365.28L514.92 369.48L510.72 373.68L506.52 369.48Z" fill="#ffa8a8" stroke="#ff6060" stroke-width="0.7"/>
<path d="M514.92 365.61L519.12 369.81L514.92 374.01L510.72 369.81Z" fill="#ffa8a8" stroke="#ff6060" stroke-width="0.7"/>
<path d="M519.12 366.11L523.32 370.31L519.12 374.51L514.92 370.31Z" fill="#ffa8a8" stroke="#ff6060" stroke-width="0.7"/>
<path d="M523.32 365.21L527.52 369.41L523.32 373.61L519.12 369.41Z" fill="#ffa8a8" stroke="#ff6060" stroke-width="0.7"/>
<path d="M527.52 366.18L531.72 370.38L527.52 374.58L523.32 370.38Z" fill="#ffa8a8" stroke="#ff6060" stroke-width="0.7"/>
<path d="M531.72 365.46L535.92 369.66L531.72 373.86L527.52 369.66Z" fill="#ffa8a8" stroke="#ff6060" stroke-width="0.7"/>
<path d="M535.92 366.47L540.12 370.67L535.92 374.87L531.72 370.67Z" fill="#ffa8a8" stroke="#ff6060" stroke-width="0.7"/>
<path d="M540.12 365.8L544.32 370L540.12 374.2L535.92 370Z" fill="#ffa8a8" stroke="#ff6060" stroke-width="0.7"/>
<path d="M544.32 366.56L548.52 370.76L544.32 374.96L540.12 370.76Z" fill="#ffa8a8" stroke="#ff6060" stroke-width="0.7"/>
<path d="M548.52 367.41L552.72 371.61L548.52 375.81L544.32 371.61Z" fill="#ffa8a8" stroke="#ff6060" stroke-width="0.7"/>
<path d="M552.72 366.67L556.92 370.87L552.72 375.07L548.52 370.87Z" fill="#ffa8a8" stroke="#ff6060" stroke-width="0.7"/>
<path d="M556.92 367.01L561.12 371.21L556.92 375.41L552.72 371.21Z" fill="#ffa8a8" stroke="#ff6060" stroke-width="0.7"/>
<path d="M561.12 367.62L565.32 371.82L561.12 376.02L556.92 371.82Z" fill="#ffa8a8" stroke="#ff6060" stroke-width="0.7"/>
<path d="M565.32 367.62L569.52 371.82L565.32 376.02L561.12 371.82Z" fill="#ffa8a8" stroke="#ff6060" stroke-width="0.7"/>
<path d="M569.51 367.48L573.71 371.68L569.51 375.88L565.31 371.68Z" fill="#ffa8a8" stroke="#ff6060" stroke-width="0.7"/>
<path d="M573.71 367.95L577.91 372.15L573.71 376.35L569.51 372.15Z" fill="#ffa8a8" stroke="#ff6060" stroke-width="0.7"/>
<path d="M577.91 368.09L582.11 372.29L577.91 376.49L573.71 372.29Z" fill="#ffa8a8" stroke="#ff6060" stroke-width="0.7"/>
<path d="M582.11 369.02L586.31 373.22L582.11 377.42L577.91 373.22Z" fill="#ffa8a8" stroke="#ff6060" stroke-width="0.7"/>
<path d="M586.31 368.5L590.51 372.7L586.31 376.9L582.11 372.7Z" fill="#ffa8a8" stroke="#ff6060" stroke-width="0.7"/>
<path d="M590.51 368.65L594.71 372.85L590.51 377.05L586.31 372.85Z" fill="#ffa8a8" stroke="#ff6060" stroke-width="0.7"/>
<path d="M594.71 367.47L598.91 371.67L594.71 375.87L590.51 371.67Z" fill="#ffa8a8" stroke="#ff6060" stroke-width="0.7"/>
<path d="M598.91 368.18L603.11 372.38L598.91 376.58L594.71 372.38Z" fill="#ffa8a8" stroke="#ff6060" stroke-width="0.7"/>
<path d="M603.11 367.08L607.31 371.28L603.11 375.48L598.91 371.28Z" fill="#ffa8a8" stroke="#ff6060" stroke-width="0.7"/>
<path d="M607.31 367.51L611.51 371.71L607.31 375.91L603.11 371.71Z" fill="#ffa8a8" stroke="#ff6060" stroke-width="0.7"/>
<path d="M611.51 367.5L615.71 371.7L611.51 375.9L607.31 371.7Z" fill="#ffa8a8" stroke="#ff6060" stroke-width="0.7"/>
<path d="M615.71 366.95L619.91 371.15L615.71 375.35L611.51 371.15Z" fill="#ffa8a8" stroke="#ff6060" stroke-width="0.7"/>
<path d="M619.91 367.51L624.11 371.71L619.91 375.91L615.71 371.71Z" fill="#ffa8a8" stroke="#ff6060" stroke-width="0.7"/>
<path d="M624.11 366.91L628.31 371.11L624.11 375.31L619.91 371.11Z" fill="#ffa8a8" stroke="#ff6060" stroke-width="0.7"/>
<path d="M628.3 366.69L632.5 370.89L628.3 375.09L624.1 370.89Z" fill="#ffa8a8" stroke="#ff6060" stroke-width="0.7"/>
<path d="M632.5 366.83L636.7 371.03L632.5 375.23L628.3 371.03Z" fill="#ffa8a8" stroke="#ff6060" stroke-width="0.7"/>
<path d="M636.7 365.46L640.9 369.66L636.7 373.86L632.5 369.66Z" fill="#ffa8a8" stroke="#ff6060" stroke-width="0.7"/>
<path d="M640.9 366.42L645.1 370.62L640.9 374.82L636.7 370.62Z" fill="#ffa8a8" stroke="#ff6060" stroke-width="0.7"/>
<path d="M645.1 365.63L649.3 369.83L645.1 374.03L640.9 369.83Z" fill="#ffa8a8" stroke="#ff6060" stroke-width="0.7"/>
<path d="M649.3 365.02L653.5 369.22L649.3 373.42L645.1 369.22Z" fill="#ffa8a8" stroke="#ff6060" stroke-width="0.7"/>
<path d="M653.5 365.3L657.7 369.5L653.5 373.7L649.3 369.5Z" fill="#ffa8a8" stroke="#ff6060" stroke-width="0.7"/>
<path d="M657.7 364.27L661.9 368.47L657.7 372.67L653.5 368.47Z" fill="#ffa8a8" stroke="#ff6060" stroke-width="0.7"/>
<polyline points="53.8,370.89 58.19,367.36 62.57,366.26 66.96,366.7 71.35,368.95 75.73,369.75 80.12,371.32 84.5,369.57 88.89,369.31 93.28,368.39 97.66,369.41 102.05,370.4 106.44,371.69 110.82,371.76 115.21,371.43 119.6,371.56 123.98,372.03 128.37,371.38 132.76,371.11 137.14,370.89 141.53,370.93 145.91,371.27 150.3,370.47 154.69,370.68 159.07,374.52 163.46,375.57 167.85,376.99 172.23,378.78 176.62,379.97 181.01,381.66 185.39,382.98 189.78,384.79 194.17,386.26 198.55,387.33 202.94,388.65 207.32,388.78 211.71,388.72 216.1,389.81 220.48,389.39 224.87,389.72 229.26,390.11 233.64,391.11 238.03,391.79 242.42,392.15 246.8,392.2 251.19,392.49 255.58,392.67 259.96,393.73 264.35,394.08 268.73,394.32 273.12,395.07 277.51,395.32 281.89,396.26 286.28,396.56 290.67,396.58 295.05,397.73 299.44,397.38 303.83,398.99 308.21,400.07 312.6,401.12 316.99,402.15 321.37,403.87 325.76,403.9 330.14,405.23 334.53,406.41 338.92,406.4 343.3,407.25 347.69,408.46 352.08,409.06 356.46,409.49 360.85,409.97 365.24,409.63 369.62,410.06 374.01,410.35 378.4,410.4 382.78,411.54 387.17,411.71 391.55,411.92 395.94,411.48 400.33,412.6 404.71,412.77 409.1,412.77" fill="none" stroke="#3030ff" stroke-width="0.8"/>
<circle cx="53.8" cy="370.89" r="3.9" fill="#a8b0ff" stroke="#6070ff" stroke-width="0.7"/>
<circle cx="58.19" cy="367.36" r="3.9" fill="#a8b0ff" stroke="#6070ff" stroke-width="0.7"/>
<circle cx="62.57" cy="366.26" r="3.9" fill="#a8b0ff" stroke="#6070ff" stroke-width="0.7"/>
<circle cx="66.96" cy="366.7" r="3.9" fill="#a8b0ff" stroke="#6070ff" stroke-width="0.7"/>
<circle cx="71.35" cy="368.95" r="3.9" fill="#a8b0ff" stroke="#6070ff" stroke-width="0.7"/>
<circle cx="75.73" cy="369.75" r="3.9" fill="#a8b0ff" stroke="#6070ff" stroke-width="0.7"/>
<circle cx="80.12" cy="371.32" r="3.9" fill="#a8b0ff" stroke="#6070ff" stroke-width="0.7"/>
<circle cx="84.5" cy="369.57" r="3.9" fill="#a8b0ff" stroke="#6070ff" stroke-width="0.7"/>
<circle cx="88.89" cy="369.31" r="3.9" fill="#a8b0ff" stroke="#6070ff" stroke-width="0.7"/>
<circle cx="93.28" cy="368.39" r="3.9" fill="#a8b0ff" stroke="#6070ff" stroke-width="0.7"/>
<circle cx="97.66" cy="369.41" r="3.9" fill="#a8b0ff" stroke="#6070ff" stroke-width="0.7"/>
<circle cx="102.05" cy="370.4" r="3.9" fill="#a8b0ff" stroke="#6070ff" stroke-width="0.7"/>
<circle cx="106.44" cy="371.69" r="3.9" fill="#a8b0ff" stroke="#6070ff" stroke-width="0.7"/>
<circle cx="110.82" cy="371.76" r="3.9" fill="#a8b0ff" stroke="#6070ff" stroke-width="0.7"/>
<circle cx="115.21" cy="371.43" r="3.9" fill="#a8b0ff" stroke="#6070ff" stroke-width="0.7"/>
<circle cx="119.6" cy="371.56" r="3.9" fill="#a8b0ff" stroke="#6070ff" stroke-width="0.7"/>
<circle cx="123.98" cy="372.03" r="3.9" fill="#a8b0ff" stroke="#6070ff" stroke-width="0.7"/>
<circle cx="128.37" cy="371.38" r="3.9" fill="#a8b0ff" stroke="#6070ff" stroke-width="0.7"/>
<circle cx="132.76" cy="371.11" r="3.9" fill="#a8b0ff" stroke="#6070ff" stroke-width="0.7"/>
<circle cx="137.14" cy="370.89" r="3.9" fill="#a8b0ff" stroke="#6070ff" stroke-width="0.7"/>
<circle cx="141.53" cy="370.93" r="3.9" fill="#a8b0ff" stroke="#6070ff" stroke-width="0.7"/>
<circle cx="145.91" cy="371.27" r="3.9" fill="#a8b0ff" stroke="#6070ff" stroke-width="0.7"/>
<circle cx="150.3" cy="370.47" r="3.9" fill="#a8b0ff" stroke="#6070ff" stroke-width="0.7"/>
<circle cx="154.69" cy="370.68" r="3.9" fill="#a8b0ff" stroke="#6070ff" stroke-width="0.7"/>
<circle cx="159.07" cy="374.52" r="3.9" fill="#a8b0ff" stroke="#6070ff" stroke-width="0.7"/>
<circle cx="163.46" cy="375.57" r="3.9" fill="#a8b0ff" stroke="#6070ff" stroke-width="0.7"/>
<circle cx="167.85" cy="376.99" r="3.9" fill="#a8b0ff" stroke="#6070ff" stroke-width="0.7"/>
<circle cx="172.23" cy="378.78" r="3.9" fill="#a8b0ff" stroke="#6070ff" stroke-width="0.7"/>
<circle cx="176.62" cy="379.97" r="3.9" fill="#a8b0ff" stroke="#6070ff" stroke-width="0.7"/>
<circle cx="181.01" cy="381.66" r="3.9" fill="#a8b0ff" stroke="#6070ff" stroke-width="0.7"/>
<circle cx="185.39" cy="382.98" r="3.9" fill="#a8b0ff" stroke="#6070ff" stroke-width="0.7"/>
<circle cx="189.78" cy="384.79" r="3.9" fill="#a8b0ff" stroke="#6070ff" stroke-width="0.7"/>
<circle cx="194.17" cy="386.26" r="3.9" fill="#a8b0ff" stroke="#6070ff" stroke-width="0.7"/>
<circle cx="198.55" cy="387.33" r="3.9" fill="#a8b0ff" stroke="#6070ff" stroke-width="0.7"/>
<circle cx="202.94" cy="388.65" r="3.9" fill="#a8b0ff" stroke="#6070ff" stroke-width="0.7"/>
<circle cx="207.32" cy="388.78" r="3.9" fill="#a8b0ff" stroke="#6070ff" stroke-width="0.7"/>
<circle cx="211.71" cy="388.72" r="3.9" fill="#a8b0ff" stroke="#6070ff" stroke-width="0.7"/>
<circle cx="216.1" cy="389.81" r="3.9" fill="#a8b0ff" stroke="#6070ff" stroke-width="0.7"/>
<circle cx="220.48" cy="389.39" r="3.9" fill="#a8b0ff" stroke="#6070ff" stroke-width="0.7"/>
<circle cx="224.87" cy="389.72" r="3.9" fill="#a8b0ff" stroke="#6070ff" stroke-width="0.7"/>
<circle cx="229.26" cy="390.11" r="3.9" fill="#a8b0ff" stroke="#6070ff" stroke-width="0.7"/>
<circle cx="233.64" cy="391.11" r="3.9" fill="#a8b0ff" stroke="#6070ff" stroke-width="0.7"/>
<circle cx="238.03" cy="391.79" r="3.9" fill="#a8b0ff" stroke="#6070ff" stroke-width="0.7"/>
<circle cx="242.42" cy="392.15" r="3.9" fill="#a8b0ff" stroke="#6070ff" stroke-width="0.7"/>
<circle cx="246.8" cy="392.2" r="3.9" fill="#a8b0ff" stroke="#6070ff" stroke-width="0.7"/>
<circle cx="251.19" cy="392.49" r="3.9" fill="#a8b0ff" stroke="#6070ff" stroke-width="0.7"/>
<circle cx="255.58" cy="392.67" r="3.9" fill="#a8b0ff" stroke="#6070ff" stroke-width="0.7"/>
<circle cx="259.96" cy="393.73" r="3.9" fill="#a8b0ff" stroke="#6070ff" stroke-width="0.7"/>
<circle cx="264.35" cy="394.08" r="3.9" fill="#a8b0ff" stroke="#6070ff" stroke-width="0.7"/>
<circle cx="268.73" cy="394.32" r="3.9" fill="#a8b0ff" stroke="#6070ff" stroke-width="0.7"/>
<circle cx="273.12" cy="395.07" r="3.9" fill="#a8b0ff" stroke="#6070ff" stroke-width="0.7"/>
<circle cx="277.51" cy="395.32" r="3.9" fill="#a8b0ff" stroke="#6070ff" stroke-width="0.7"/>
<circle cx="281.89" cy="396.26" r="3.9" fill="#a8b0ff" stroke="#6070ff" stroke-width="0.7"/>
<circle cx="286.28" cy="396.56" r="3.9" fill="#a8b0ff" stroke="#6070ff" stroke-width="0.7"/>
<circle cx="290.67" cy="396.58" r="3.9" fill="#a8b0ff" stroke="#6070ff" stroke-width="0.7"/>
<circle cx="295.05" cy="397.73" r="3.9" fill="#a8b0ff" stroke="#6070ff" stroke-width="0.7"/>
<circle cx="299.44" cy="397.38" r="3.9" fill="#a8b0ff" stroke="#6070ff" stroke-width="0.7"/>
<circle cx="303.83" cy="398.99" r="3.9" fill="#a8b0ff" stroke="#6070ff" stroke-width="0.7"/>
<circle cx="308.21" cy="400.07" r="3.9" fill="#a8b0ff" stroke="#6070ff" stroke-width="0.7"/>
<circle cx="312.6" cy="401.12" r="3.9" fill="#a8b0ff" stroke="#6070ff" stroke-width="0.7"/>
<circle cx="316.99" cy="402.15" r="3.9" fill="#a8b0ff" stroke="#6070ff" stroke-width="0.7"/>
<circle cx="321.37" cy="403.87" r="3.9" fill="#a8b0ff" stroke="#6070ff" stroke-width="0.7"/>
<circle cx="325.76" cy="403.9" r="3.9" fill="#a8b0ff" stroke="#6070ff" stroke-width="0.7"/>
<circle cx="330.14" cy="405.23" r="3.9" fill="#a8b0ff" stroke="#6070ff" stroke-width="0.7"/>
<circle cx="334.53" cy="406.41" r="3.9" fill="#a8b0ff" stroke="#6070ff" stroke-width="0.7"/>
<circle cx="338.92" cy="406.4" r="3.9" fill="#a8b0ff" stroke="#6070ff" stroke-width="0.7"/>
<circle cx="343.3" cy="407.25" r="3.9" fill="#a8b0ff" stroke="#6070ff" stroke-width="0.7"/>
<circle cx="347.69" cy="408.46" r="3.9" fill="#a8b0ff" stroke="#6070ff" stroke-width="0.7"/>
<circle cx="352.08" cy="409.06" r="3.9" fill="#a8b0ff" stroke="#6070ff" stroke-width="0.7"/>
<circle cx="356.46" cy="409.49" r="3.9" fill="#a8b0ff" stroke="#6070ff" stroke-width="0.7"/>
<circle cx="360.85" cy="409.97" r="3.9" fill="#a8b0ff" stroke="#6070ff" stroke-width="0.7"/>
<circle cx="365.24" cy="409.63" r="3.9" fill="#a8b0ff" stroke="#6070ff" stroke-width="0.7"/>
<circle cx="369.62" cy="410.06" r="3.9" fill="#a8b0ff" stroke="#6070ff" stroke-width="0.7"/>
<circle cx="374.01" cy="410.35" r="3.9" fill="#a8b0ff" stroke="#6070ff" stroke-width="0.7"/>
<circle cx="378.4" cy="410.4" r="3.9" fill="#a8b0ff" stroke="#6070ff" stroke-width="0.7"/>
<circle cx="382.78" cy="411.54" r="3.9" fill="#a8b0ff" stroke="#6070ff" stroke-width="0.7"/>
<circle cx="387.17" cy="411.71" r="3.9" fill="#a8b0ff" stroke="#6070ff" stroke-width="0.7"/>
<circle cx="391.55" cy="411.92" r="3.9" fill="#a8b0ff" stroke="#6070ff" stroke-width="0.7"/>
<circle cx="395.94" cy="411.48" r="3.9" fill="#a8b0ff" stroke="#6070ff" stroke-width="0.7"/>
<circle cx="400.33" cy="412.6" r="3.9" fill="#a8b0ff" stroke="#6070ff" stroke-width="0.7"/>
<circle cx="404.71" cy="412.77" r="3.9" fill="#a8b0ff" stroke="#6070ff" stroke-width="0.7"/>
<circle cx="409.1" cy="412.77" r="3.9" fill="#a8b0ff" stroke="#6070ff" stroke-width="0.7"/>
</g>
<text x="419.4" y="391.1" font-size="10.15" text-anchor="start" fill="#ff2020">Decay rate: 0.0000795% per cycle (0.0335% per day)</text>
<text x="191" y="428.3" font-size="10.15" text-anchor="start" fill="#2020ff">Decay rate: 0.00535% per cycle (2.44% per day)</text>
<text x="443.2" y="449.3" font-size="10.1" text-anchor="start" fill="#111">Decay rate: 0.00472% per cycle (2.17% per day)</text>
<rect x="49.3" y="428.4" width="88.2" height="34.4" fill="#fff" stroke="#d0d0d0" stroke-width="0.8"/>
<path d="M60.2 430.4L64.5 434.7L60.2 439L55.9 434.7Z" fill="#ffa8a8" stroke="#ff6060" stroke-width="0.7"/>
<circle cx="60.2" cy="445.9" r="3.9" fill="#a8b0ff" stroke="#6070ff" stroke-width="0.7"/>
<rect x="57.1" y="454.2" width="6.2" height="6.2" fill="#b0b0b0" stroke="#444" stroke-width="0.7"/>
<text x="73.4" y="438" font-size="9.2" text-anchor="start" fill="#111"><tspan font-style="italic">s</tspan>PIM-SBF-1.40</text>
<text x="73.4" y="449.2" font-size="9.2" text-anchor="start" fill="#111"><tspan font-style="italic">s</tspan>PIM-SBF-1.67</text>
<text x="73.4" y="460.6" font-size="9.2" text-anchor="start" fill="#111">Nafion 115</text>
<text x="40.9" y="515.9" font-size="11.4" fill="#111">Highly selective membranes enable long-lifetime</text>
<text x="40.9" y="529.0" font-size="11.4" fill="#111">cycling of RFBs</text>
<rect x="28.2" y="562.2" width="13.6" height="142.6" fill="#7f7f7f" stroke="none" stroke-width="1"/>
<rect x="41.8" y="562.2" width="109.2" height="142.6" fill="#dae3f3" stroke="none" stroke-width="1"/>
<rect x="151" y="562.2" width="38.3" height="142.6" fill="#f9cba0" stroke="none" stroke-width="1"/>
<rect x="189.3" y="562.2" width="106.3" height="142.6" fill="#e2efda" stroke="none" stroke-width="1"/>
<rect x="295.6" y="562.2" width="13.6" height="142.6" fill="#7f7f7f" stroke="none" stroke-width="1"/>
<line x1="28.2" y1="562.2" x2="309.2" y2="562.2" stroke="#8a8a8a" stroke-width="1.0"/>
<rect x="28.2" y="704.6" width="281" height="2" fill="#7f7f7f" stroke="none" stroke-width="1"/>
<path d="M151 571.28 L152.6 572.84 L154.19 573.39 L155.79 572.82 L157.38 571.45 L158.98 569.83 L160.57 568.51 L162.17 567.8 L163.77 567.72 L165.36 568.11 L166.96 568.76 L168.55 569.53 L170.15 570.38 L171.75 571.27 L173.34 572.07 L174.94 572.53 L176.53 572.35 L178.13 571.41 L179.73 569.83 L181.32 568.09 L182.92 566.82 L184.51 566.54 L186.11 567.44 L187.7 569.23 L189.3 571.28 L189.3 586.94 L187.7 586.95 L186.11 586.13 L184.51 584.87 L182.92 583.62 L181.32 582.69 L179.73 582.17 L178.13 582 L176.53 582.11 L174.94 582.52 L173.34 583.27 L171.75 584.35 L170.15 585.59 L168.55 586.61 L166.96 586.99 L165.36 586.43 L163.77 584.97 L162.17 583.03 L160.57 581.3 L158.98 580.43 L157.38 580.77 L155.79 582.18 L154.19 584.14 L152.6 585.92 L151 586.94 Z" fill="#deebf9"/>
<path d="M151 599.03 L152.6 598.28 L154.19 597.04 L155.79 595.75 L157.38 594.76 L158.98 594.19 L160.57 593.99 L162.17 594.09 L163.77 594.48 L165.36 595.18 L166.96 596.21 L168.55 597.43 L170.15 598.49 L171.75 598.97 L173.34 598.55 L174.94 597.2 L176.53 595.3 L178.13 593.5 L179.73 592.49 L181.32 592.65 L182.92 593.94 L184.51 595.87 L186.11 597.72 L187.7 598.87 L189.3 599.03 L189.3 610.25 L187.7 611.77 L186.11 612.58 L184.51 612.56 L182.92 611.92 L181.32 610.99 L179.73 610.04 L178.13 609.2 L176.53 608.52 L174.94 608.01 L173.34 607.79 L171.75 608.03 L170.15 608.87 L168.55 610.23 L166.96 611.77 L165.36 612.97 L163.77 613.31 L162.17 612.54 L160.57 610.85 L158.98 608.8 L157.38 607.14 L155.79 606.46 L154.19 606.98 L152.6 608.44 L151 610.25 Z" fill="#deebf9"/>
<path d="M151 623.94 L152.6 623.02 L154.19 622.22 L155.79 621.57 L157.38 621.11 L158.98 620.99 L160.57 621.38 L162.17 622.38 L163.77 623.85 L165.36 625.36 L166.96 626.37 L168.55 626.41 L170.15 625.35 L171.75 623.49 L173.34 621.47 L174.94 620.04 L176.53 619.69 L178.13 620.52 L179.73 622.13 L181.32 623.91 L182.92 625.26 L184.51 625.83 L186.11 625.62 L187.7 624.88 L189.3 623.94 L189.3 634.34 L187.7 635.59 L186.11 637.13 L184.51 638.44 L182.92 639.21 L181.32 639.4 L179.73 639.15 L178.13 638.63 L176.53 637.93 L174.94 637.08 L173.34 636.11 L171.75 635.18 L170.15 634.59 L168.55 634.66 L166.96 635.55 L165.36 637.14 L163.77 638.95 L162.17 640.33 L160.57 640.73 L158.98 639.92 L157.38 638.18 L155.79 636.14 L154.19 634.53 L152.6 633.89 L151 634.34 Z" fill="#deebf9"/>
<path d="M151 658.27 L152.6 658.49 L154.19 657.72 L155.79 656.36 L157.38 654.93 L158.98 653.85 L160.57 653.29 L162.17 653.21 L163.77 653.48 L165.36 653.98 L166.96 654.71 L168.55 655.65 L170.15 656.71 L171.75 657.65 L173.34 658.09 L174.94 657.72 L176.53 656.49 L178.13 654.69 L179.73 652.92 L181.32 651.85 L182.92 651.92 L184.51 653.14 L186.11 655.07 L187.7 657.01 L189.3 658.27 L189.3 671.04 L187.7 672.01 L186.11 672.08 L184.51 671.39 L182.92 670.32 L181.32 669.22 L179.73 668.34 L178.13 667.72 L176.53 667.35 L174.94 667.24 L173.34 667.51 L171.75 668.24 L170.15 669.44 L168.55 670.85 L166.96 672.03 L165.36 672.49 L163.77 671.92 L162.17 670.39 L160.57 668.39 L158.98 666.62 L157.38 665.75 L155.79 666.08 L154.19 667.46 L152.6 669.34 L151 671.04 Z" fill="#deebf9"/>
<path d="M151 684.24 L152.6 683.12 L154.19 682.04 L155.79 681.19 L157.38 680.62 L158.98 680.31 L160.57 680.28 L162.17 680.62 L163.77 681.43 L165.36 682.67 L166.96 684.06 L168.55 685.15 L170.15 685.45 L171.75 684.72 L173.34 683.09 L174.94 681.08 L176.53 679.41 L178.13 678.71 L179.73 679.23 L181.32 680.74 L182.92 682.64 L184.51 684.26 L186.11 685.11 L187.7 685.03 L189.3 684.24 L189.3 694.72 L187.7 696.4 L186.11 697.82 L184.51 698.6 L182.92 698.68 L181.32 698.23 L179.73 697.5 L178.13 696.68 L176.53 695.84 L174.94 695.02 L173.34 694.3 L171.75 693.89 L170.15 694.03 L168.55 694.9 L166.96 696.37 L165.36 698.06 L163.77 699.37 L162.17 699.74 L160.57 698.95 L158.98 697.22 L157.38 695.16 L155.79 693.51 L154.19 692.85 L152.6 693.35 L151 694.72 Z" fill="#deebf9"/>
<polyline points="35.4,562.2 35.4,543.7 164.6,543.7" fill="none" stroke="#111" stroke-width="1.2"/>
<polyline points="174.4,543.7 301.4,543.7 301.4,562.2" fill="none" stroke="#111" stroke-width="1.2"/>
<line x1="164.6" y1="531.2" x2="164.6" y2="555.2" stroke="#111" stroke-width="2.0"/>
<line x1="174.4" y1="536.3" x2="174.4" y2="549.8" stroke="#111" stroke-width="2.0"/>
<circle cx="87.19" cy="577.18" r="1.82" fill="url(#gH)"/>
<circle cx="90.25" cy="572.89" r="1.82" fill="url(#gH)"/>
<circle cx="84.11" cy="577.44" r="1.82" fill="url(#gH)"/>
<circle cx="87.17" cy="573.14" r="1.82" fill="url(#gH)"/>
<circle cx="81.36" cy="577.43" r="1.82" fill="url(#gH)"/>
<circle cx="84.42" cy="573.13" r="1.82" fill="url(#gH)"/>
<circle cx="109.5" cy="592.03" r="1.82" fill="url(#gH)"/>
<circle cx="112.56" cy="587.74" r="1.82" fill="url(#gH)"/>
<circle cx="112.55" cy="591.86" r="1.82" fill="url(#gH)"/>
<circle cx="115.61" cy="587.57" r="1.82" fill="url(#gH)"/>
<circle cx="115.05" cy="592.4" r="1.82" fill="url(#gH)"/>
<circle cx="118.11" cy="588.1" r="1.82" fill="url(#gH)"/>
<circle cx="88.72" cy="575.04" r="1.92" fill="url(#gW)"/>
<circle cx="85.64" cy="575.29" r="1.92" fill="url(#gW)"/>
<circle cx="82.89" cy="575.28" r="1.92" fill="url(#gW)"/>
<circle cx="111.03" cy="589.89" r="1.92" fill="url(#gW)"/>
<circle cx="114.08" cy="589.72" r="1.92" fill="url(#gW)"/>
<circle cx="116.58" cy="590.25" r="1.92" fill="url(#gW)"/>
<circle cx="80.13" cy="574.84" r="1.92" fill="url(#gP)"/>
<circle cx="79.35" cy="571.51" r="2.4" fill="url(#gO)"/>
<circle cx="76.73" cy="576.22" r="2.4" fill="url(#gO)"/>
<circle cx="119.27" cy="591.29" r="1.92" fill="url(#gP)"/>
<circle cx="122.63" cy="590" r="2.4" fill="url(#gO)"/>
<circle cx="120.1" cy="594.75" r="2.4" fill="url(#gO)"/>
<circle cx="101.38" cy="573.62" r="1.68" fill="url(#gH)"/>
<circle cx="103.98" cy="576.84" r="1.68" fill="url(#gH)"/>
<circle cx="98.62" cy="590.78" r="1.68" fill="url(#gH)"/>
<circle cx="96.02" cy="587.56" r="1.68" fill="url(#gH)"/>
<circle cx="92.21" cy="577.1" r="1.68" fill="url(#gH)"/>
<circle cx="107.79" cy="587.3" r="1.68" fill="url(#gH)"/>
<circle cx="107.79" cy="582.61" r="1.68" fill="url(#gH)"/>
<circle cx="92.21" cy="581.79" r="1.68" fill="url(#gH)"/>
<circle cx="98.82" cy="574.82" r="1.97" fill="url(#gC)"/>
<circle cx="96.78" cy="577.6" r="1.97" fill="url(#gC)"/>
<circle cx="93.47" cy="578.57" r="1.97" fill="url(#gC)"/>
<circle cx="100.14" cy="576.71" r="1.97" fill="url(#gC)"/>
<circle cx="98.1" cy="579.49" r="1.97" fill="url(#gC)"/>
<circle cx="94.79" cy="580.45" r="1.97" fill="url(#gC)"/>
<circle cx="101.41" cy="578.52" r="1.97" fill="url(#gC)"/>
<circle cx="99.37" cy="581.3" r="1.97" fill="url(#gC)"/>
<circle cx="96.06" cy="582.26" r="1.97" fill="url(#gC)"/>
<circle cx="102.67" cy="580.33" r="1.97" fill="url(#gC)"/>
<circle cx="100.63" cy="583.1" r="1.97" fill="url(#gC)"/>
<circle cx="97.33" cy="584.07" r="1.97" fill="url(#gC)"/>
<circle cx="103.94" cy="582.14" r="1.97" fill="url(#gC)"/>
<circle cx="101.9" cy="584.91" r="1.97" fill="url(#gC)"/>
<circle cx="98.59" cy="585.88" r="1.97" fill="url(#gC)"/>
<circle cx="105.21" cy="583.95" r="1.97" fill="url(#gC)"/>
<circle cx="103.17" cy="586.72" r="1.97" fill="url(#gC)"/>
<circle cx="99.86" cy="587.69" r="1.97" fill="url(#gC)"/>
<circle cx="106.53" cy="585.83" r="1.97" fill="url(#gC)"/>
<circle cx="104.49" cy="588.61" r="1.97" fill="url(#gC)"/>
<circle cx="101.18" cy="589.58" r="1.97" fill="url(#gC)"/>
<circle cx="105.63" cy="579.19" r="2.4" fill="url(#gO)"/>
<circle cx="94.37" cy="585.21" r="2.4" fill="url(#gO)"/>
<circle cx="91.98" cy="574.86" r="2.3" fill="url(#gO)"/>
<circle cx="108.03" cy="589.97" r="2.3" fill="url(#gO)"/>
<circle cx="74.68" cy="602.18" r="1.82" fill="url(#gH)"/>
<circle cx="78.1" cy="598.17" r="1.82" fill="url(#gH)"/>
<circle cx="71.58" cy="602.17" r="1.82" fill="url(#gH)"/>
<circle cx="75.01" cy="598.16" r="1.82" fill="url(#gH)"/>
<circle cx="68.85" cy="601.92" r="1.82" fill="url(#gH)"/>
<circle cx="72.27" cy="597.91" r="1.82" fill="url(#gH)"/>
<circle cx="95.61" cy="618.92" r="1.82" fill="url(#gH)"/>
<circle cx="99.03" cy="614.91" r="1.82" fill="url(#gH)"/>
<circle cx="98.66" cy="619.02" r="1.82" fill="url(#gH)"/>
<circle cx="102.08" cy="615.01" r="1.82" fill="url(#gH)"/>
<circle cx="101.11" cy="619.77" r="1.82" fill="url(#gH)"/>
<circle cx="104.53" cy="615.76" r="1.82" fill="url(#gH)"/>
<circle cx="76.39" cy="600.18" r="1.92" fill="url(#gW)"/>
<circle cx="73.3" cy="600.17" r="1.92" fill="url(#gW)"/>
<circle cx="70.56" cy="599.92" r="1.92" fill="url(#gW)"/>
<circle cx="97.32" cy="616.92" r="1.92" fill="url(#gW)"/>
<circle cx="100.37" cy="617.02" r="1.92" fill="url(#gW)"/>
<circle cx="102.82" cy="617.77" r="1.92" fill="url(#gW)"/>
<circle cx="67.85" cy="599.24" r="1.92" fill="url(#gP)"/>
<circle cx="67.36" cy="595.85" r="2.4" fill="url(#gO)"/>
<circle cx="64.34" cy="600.32" r="2.4" fill="url(#gO)"/>
<circle cx="105.41" cy="619.04" r="1.92" fill="url(#gP)"/>
<circle cx="108.87" cy="618.04" r="2.4" fill="url(#gO)"/>
<circle cx="105.93" cy="622.55" r="2.4" fill="url(#gO)"/>
<circle cx="89.12" cy="599.87" r="1.68" fill="url(#gH)"/>
<circle cx="91.43" cy="603.3" r="1.68" fill="url(#gH)"/>
<circle cx="84.88" cy="616.73" r="1.68" fill="url(#gH)"/>
<circle cx="82.57" cy="613.3" r="1.68" fill="url(#gH)"/>
<circle cx="79.69" cy="602.55" r="1.68" fill="url(#gH)"/>
<circle cx="94.31" cy="614.05" r="1.68" fill="url(#gH)"/>
<circle cx="94.72" cy="609.38" r="1.68" fill="url(#gH)"/>
<circle cx="79.28" cy="607.22" r="1.68" fill="url(#gH)"/>
<circle cx="86.47" cy="600.85" r="1.97" fill="url(#gC)"/>
<circle cx="84.19" cy="603.44" r="1.97" fill="url(#gC)"/>
<circle cx="80.81" cy="604.11" r="1.97" fill="url(#gC)"/>
<circle cx="87.62" cy="602.84" r="1.97" fill="url(#gC)"/>
<circle cx="85.34" cy="605.43" r="1.97" fill="url(#gC)"/>
<circle cx="81.97" cy="606.11" r="1.97" fill="url(#gC)"/>
<circle cx="88.72" cy="604.76" r="1.97" fill="url(#gC)"/>
<circle cx="86.45" cy="607.34" r="1.97" fill="url(#gC)"/>
<circle cx="83.07" cy="608.02" r="1.97" fill="url(#gC)"/>
<circle cx="89.83" cy="606.67" r="1.97" fill="url(#gC)"/>
<circle cx="87.55" cy="609.26" r="1.97" fill="url(#gC)"/>
<circle cx="84.17" cy="609.93" r="1.97" fill="url(#gC)"/>
<circle cx="90.93" cy="608.58" r="1.97" fill="url(#gC)"/>
<circle cx="88.66" cy="611.17" r="1.97" fill="url(#gC)"/>
<circle cx="85.28" cy="611.84" r="1.97" fill="url(#gC)"/>
<circle cx="92.03" cy="610.49" r="1.97" fill="url(#gC)"/>
<circle cx="89.76" cy="613.08" r="1.97" fill="url(#gC)"/>
<circle cx="86.38" cy="613.76" r="1.97" fill="url(#gC)"/>
<circle cx="93.19" cy="612.49" r="1.97" fill="url(#gC)"/>
<circle cx="90.91" cy="615.08" r="1.97" fill="url(#gC)"/>
<circle cx="87.53" cy="615.75" r="1.97" fill="url(#gC)"/>
<circle cx="92.87" cy="605.8" r="2.4" fill="url(#gO)"/>
<circle cx="81.13" cy="610.8" r="2.4" fill="url(#gO)"/>
<circle cx="79.65" cy="600.29" r="2.3" fill="url(#gO)"/>
<circle cx="94.32" cy="616.74" r="2.3" fill="url(#gO)"/>
<circle cx="73.48" cy="638.08" r="1.82" fill="url(#gH)"/>
<circle cx="76.9" cy="634.07" r="1.82" fill="url(#gH)"/>
<circle cx="70.38" cy="638.07" r="1.82" fill="url(#gH)"/>
<circle cx="73.81" cy="634.06" r="1.82" fill="url(#gH)"/>
<circle cx="67.65" cy="637.82" r="1.82" fill="url(#gH)"/>
<circle cx="71.07" cy="633.81" r="1.82" fill="url(#gH)"/>
<circle cx="94.41" cy="654.82" r="1.82" fill="url(#gH)"/>
<circle cx="97.83" cy="650.81" r="1.82" fill="url(#gH)"/>
<circle cx="97.46" cy="654.92" r="1.82" fill="url(#gH)"/>
<circle cx="100.88" cy="650.91" r="1.82" fill="url(#gH)"/>
<circle cx="99.91" cy="655.67" r="1.82" fill="url(#gH)"/>
<circle cx="103.33" cy="651.66" r="1.82" fill="url(#gH)"/>
<circle cx="75.19" cy="636.08" r="1.92" fill="url(#gW)"/>
<circle cx="72.1" cy="636.07" r="1.92" fill="url(#gW)"/>
<circle cx="69.36" cy="635.82" r="1.92" fill="url(#gW)"/>
<circle cx="96.12" cy="652.82" r="1.92" fill="url(#gW)"/>
<circle cx="99.17" cy="652.92" r="1.92" fill="url(#gW)"/>
<circle cx="101.62" cy="653.67" r="1.92" fill="url(#gW)"/>
<circle cx="66.65" cy="635.14" r="1.92" fill="url(#gP)"/>
<circle cx="66.16" cy="631.75" r="2.4" fill="url(#gO)"/>
<circle cx="63.14" cy="636.22" r="2.4" fill="url(#gO)"/>
<circle cx="104.21" cy="654.94" r="1.92" fill="url(#gP)"/>
<circle cx="107.67" cy="653.94" r="2.4" fill="url(#gO)"/>
<circle cx="104.73" cy="658.45" r="2.4" fill="url(#gO)"/>
<circle cx="87.92" cy="635.77" r="1.68" fill="url(#gH)"/>
<circle cx="90.23" cy="639.2" r="1.68" fill="url(#gH)"/>
<circle cx="83.68" cy="652.63" r="1.68" fill="url(#gH)"/>
<circle cx="81.37" cy="649.2" r="1.68" fill="url(#gH)"/>
<circle cx="78.49" cy="638.45" r="1.68" fill="url(#gH)"/>
<circle cx="93.11" cy="649.95" r="1.68" fill="url(#gH)"/>
<circle cx="93.52" cy="645.28" r="1.68" fill="url(#gH)"/>
<circle cx="78.08" cy="643.12" r="1.68" fill="url(#gH)"/>
<circle cx="85.27" cy="636.75" r="1.97" fill="url(#gC)"/>
<circle cx="82.99" cy="639.34" r="1.97" fill="url(#gC)"/>
<circle cx="79.61" cy="640.01" r="1.97" fill="url(#gC)"/>
<circle cx="86.42" cy="638.74" r="1.97" fill="url(#gC)"/>
<circle cx="84.14" cy="641.33" r="1.97" fill="url(#gC)"/>
<circle cx="80.77" cy="642.01" r="1.97" fill="url(#gC)"/>
<circle cx="87.52" cy="640.66" r="1.97" fill="url(#gC)"/>
<circle cx="85.25" cy="643.24" r="1.97" fill="url(#gC)"/>
<circle cx="81.87" cy="643.92" r="1.97" fill="url(#gC)"/>
<circle cx="88.63" cy="642.57" r="1.97" fill="url(#gC)"/>
<circle cx="86.35" cy="645.16" r="1.97" fill="url(#gC)"/>
<circle cx="82.97" cy="645.83" r="1.97" fill="url(#gC)"/>
<circle cx="89.73" cy="644.48" r="1.97" fill="url(#gC)"/>
<circle cx="87.46" cy="647.07" r="1.97" fill="url(#gC)"/>
<circle cx="84.08" cy="647.74" r="1.97" fill="url(#gC)"/>
<circle cx="90.83" cy="646.39" r="1.97" fill="url(#gC)"/>
<circle cx="88.56" cy="648.98" r="1.97" fill="url(#gC)"/>
<circle cx="85.18" cy="649.66" r="1.97" fill="url(#gC)"/>
<circle cx="91.99" cy="648.39" r="1.97" fill="url(#gC)"/>
<circle cx="89.71" cy="650.98" r="1.97" fill="url(#gC)"/>
<circle cx="86.33" cy="651.65" r="1.97" fill="url(#gC)"/>
<circle cx="91.67" cy="641.7" r="2.4" fill="url(#gO)"/>
<circle cx="79.93" cy="646.7" r="2.4" fill="url(#gO)"/>
<circle cx="78.45" cy="636.19" r="2.3" fill="url(#gO)"/>
<circle cx="93.12" cy="652.64" r="2.3" fill="url(#gO)"/>
<circle cx="87.34" cy="682.85" r="1.82" fill="url(#gH)"/>
<circle cx="89.93" cy="678.26" r="1.82" fill="url(#gH)"/>
<circle cx="84.3" cy="683.42" r="1.82" fill="url(#gH)"/>
<circle cx="86.89" cy="678.84" r="1.82" fill="url(#gH)"/>
<circle cx="81.56" cy="683.7" r="1.82" fill="url(#gH)"/>
<circle cx="84.16" cy="679.11" r="1.82" fill="url(#gH)"/>
<circle cx="111.08" cy="695.29" r="1.82" fill="url(#gH)"/>
<circle cx="113.67" cy="690.7" r="1.82" fill="url(#gH)"/>
<circle cx="114.09" cy="694.8" r="1.82" fill="url(#gH)"/>
<circle cx="116.68" cy="690.21" r="1.82" fill="url(#gH)"/>
<circle cx="116.64" cy="695.07" r="1.82" fill="url(#gH)"/>
<circle cx="119.23" cy="690.48" r="1.82" fill="url(#gH)"/>
<circle cx="88.64" cy="680.55" r="1.92" fill="url(#gW)"/>
<circle cx="85.59" cy="681.13" r="1.92" fill="url(#gW)"/>
<circle cx="82.86" cy="681.41" r="1.92" fill="url(#gW)"/>
<circle cx="112.38" cy="692.99" r="1.92" fill="url(#gW)"/>
<circle cx="115.39" cy="692.51" r="1.92" fill="url(#gW)"/>
<circle cx="117.93" cy="692.77" r="1.92" fill="url(#gW)"/>
<circle cx="80.07" cy="681.26" r="1.92" fill="url(#gP)"/>
<circle cx="78.95" cy="678.03" r="2.4" fill="url(#gO)"/>
<circle cx="76.83" cy="682.99" r="2.4" fill="url(#gO)"/>
<circle cx="120.72" cy="693.53" r="1.92" fill="url(#gP)"/>
<circle cx="123.92" cy="691.89" r="2.4" fill="url(#gO)"/>
<circle cx="121.9" cy="696.88" r="2.4" fill="url(#gO)"/>
<circle cx="101.07" cy="677.82" r="1.68" fill="url(#gH)"/>
<circle cx="104" cy="680.75" r="1.68" fill="url(#gH)"/>
<circle cx="100.13" cy="695.18" r="1.68" fill="url(#gH)"/>
<circle cx="97.2" cy="692.25" r="1.68" fill="url(#gH)"/>
<circle cx="92.32" cy="682.25" r="1.68" fill="url(#gH)"/>
<circle cx="108.88" cy="690.75" r="1.68" fill="url(#gH)"/>
<circle cx="108.39" cy="686.09" r="1.68" fill="url(#gH)"/>
<circle cx="92.81" cy="686.91" r="1.68" fill="url(#gH)"/>
<circle cx="98.65" cy="679.29" r="1.97" fill="url(#gC)"/>
<circle cx="96.92" cy="682.26" r="1.97" fill="url(#gC)"/>
<circle cx="93.73" cy="683.57" r="1.97" fill="url(#gC)"/>
<circle cx="100.17" cy="681.03" r="1.97" fill="url(#gC)"/>
<circle cx="98.43" cy="684" r="1.97" fill="url(#gC)"/>
<circle cx="95.24" cy="685.31" r="1.97" fill="url(#gC)"/>
<circle cx="101.61" cy="682.69" r="1.97" fill="url(#gC)"/>
<circle cx="99.88" cy="685.67" r="1.97" fill="url(#gC)"/>
<circle cx="96.69" cy="686.97" r="1.97" fill="url(#gC)"/>
<circle cx="103.06" cy="684.36" r="1.97" fill="url(#gC)"/>
<circle cx="101.32" cy="687.33" r="1.97" fill="url(#gC)"/>
<circle cx="98.14" cy="688.64" r="1.97" fill="url(#gC)"/>
<circle cx="104.51" cy="686.03" r="1.97" fill="url(#gC)"/>
<circle cx="102.77" cy="689" r="1.97" fill="url(#gC)"/>
<circle cx="99.59" cy="690.31" r="1.97" fill="url(#gC)"/>
<circle cx="105.96" cy="687.69" r="1.97" fill="url(#gC)"/>
<circle cx="104.22" cy="690.67" r="1.97" fill="url(#gC)"/>
<circle cx="101.03" cy="691.97" r="1.97" fill="url(#gC)"/>
<circle cx="107.47" cy="689.43" r="1.97" fill="url(#gC)"/>
<circle cx="105.73" cy="692.4" r="1.97" fill="url(#gC)"/>
<circle cx="102.55" cy="693.71" r="1.97" fill="url(#gC)"/>
<circle cx="105.89" cy="682.92" r="2.4" fill="url(#gO)"/>
<circle cx="95.31" cy="690.08" r="2.4" fill="url(#gO)"/>
<circle cx="91.86" cy="680.04" r="2.3" fill="url(#gO)"/>
<circle cx="109.4" cy="693.39" r="2.3" fill="url(#gO)"/>
<circle cx="60.2" cy="579.7" r="4" fill="url(#gK)"/>
<text x="59.9" y="581.7" font-size="5.6" text-anchor="middle" fill="#222">K<tspan font-size="3.6" dy="-2.2">+</tspan></text>
<circle cx="141.6" cy="574.7" r="4" fill="url(#gK)"/>
<text x="141.3" y="576.7" font-size="5.6" text-anchor="middle" fill="#222">K<tspan font-size="3.6" dy="-2.2">+</tspan></text>
<circle cx="130.4" cy="605.8" r="4" fill="url(#gK)"/>
<text x="130.1" y="607.8" font-size="5.6" text-anchor="middle" fill="#222">K<tspan font-size="3.6" dy="-2.2">+</tspan></text>
<circle cx="149.8" cy="607.5" r="4" fill="url(#gK)"/>
<text x="149.5" y="609.5" font-size="5.6" text-anchor="middle" fill="#222">K<tspan font-size="3.6" dy="-2.2">+</tspan></text>
<circle cx="118" cy="660.9" r="4" fill="url(#gK)"/>
<text x="117.7" y="662.9" font-size="5.6" text-anchor="middle" fill="#222">K<tspan font-size="3.6" dy="-2.2">+</tspan></text>
<circle cx="141.1" cy="689.7" r="4" fill="url(#gK)"/>
<text x="140.8" y="691.7" font-size="5.6" text-anchor="middle" fill="#222">K<tspan font-size="3.6" dy="-2.2">+</tspan></text>
<circle cx="116.3" cy="574" r="4.3" fill="url(#gCl)"/>
<text x="116.3" y="576" font-size="5.8" text-anchor="middle" fill="#0a2a50" font-weight="bold">Cl</text>
<circle cx="55.5" cy="613.2" r="4.3" fill="url(#gCl)"/>
<text x="55.5" y="615.2" font-size="5.8" text-anchor="middle" fill="#0a2a50" font-weight="bold">Cl</text>
<circle cx="64.7" cy="662.1" r="4.3" fill="url(#gCl)"/>
<text x="64.7" y="664.1" font-size="5.8" text-anchor="middle" fill="#0a2a50" font-weight="bold">Cl</text>
<circle cx="59.2" cy="696.4" r="4.3" fill="url(#gCl)"/>
<text x="59.2" y="698.4" font-size="5.8" text-anchor="middle" fill="#0a2a50" font-weight="bold">Cl</text>
<path d="M119.3 652.9 C 131 650, 137 638, 133.5 627 C 131.5 621, 127.5 618, 122.5 617.2" fill="none" stroke="#111" stroke-width="1.7"/>
<path d="M117.2 616.5 L124.8 612.3 L123.6 621.6 Z" fill="#111"/>
<circle cx="160.1" cy="571.4" r="3.9" fill="url(#gS)" stroke="#c03a08" stroke-width="0.9"/>
<line x1="157.8" y1="571.4" x2="162.4" y2="571.4" stroke="#3a2a2a" stroke-width="1.1"/>
<circle cx="180.3" cy="581.3" r="3.9" fill="url(#gS)" stroke="#c03a08" stroke-width="0.9"/>
<line x1="178" y1="581.3" x2="182.6" y2="581.3" stroke="#3a2a2a" stroke-width="1.1"/>
<circle cx="175.2" cy="608" r="3.9" fill="url(#gS)" stroke="#c03a08" stroke-width="0.9"/>
<line x1="172.9" y1="608" x2="177.5" y2="608" stroke="#3a2a2a" stroke-width="1.1"/>
<circle cx="156.1" cy="626.2" r="3.9" fill="url(#gS)" stroke="#c03a08" stroke-width="0.9"/>
<line x1="153.8" y1="626.2" x2="158.4" y2="626.2" stroke="#3a2a2a" stroke-width="1.1"/>
<circle cx="180.3" cy="637" r="3.9" fill="url(#gS)" stroke="#c03a08" stroke-width="0.9"/>
<line x1="178" y1="637" x2="182.6" y2="637" stroke="#3a2a2a" stroke-width="1.1"/>
<circle cx="155.9" cy="665.5" r="3.9" fill="url(#gS)" stroke="#c03a08" stroke-width="0.9"/>
<line x1="153.6" y1="665.5" x2="158.2" y2="665.5" stroke="#3a2a2a" stroke-width="1.1"/>
<circle cx="156.6" cy="691.8" r="3.9" fill="url(#gS)" stroke="#c03a08" stroke-width="0.9"/>
<line x1="154.3" y1="691.8" x2="158.9" y2="691.8" stroke="#3a2a2a" stroke-width="1.1"/>
<circle cx="183.9" cy="685.6" r="3.9" fill="url(#gS)" stroke="#c03a08" stroke-width="0.9"/>
<line x1="181.6" y1="685.6" x2="186.2" y2="685.6" stroke="#3a2a2a" stroke-width="1.1"/>
<line x1="162.7" y1="599.2" x2="186.5" y2="599.2" stroke="#111" stroke-width="0.8" marker-start="url(#ah2)" marker-end="url(#ah2)"/>
<line x1="155.5" y1="629.3" x2="183" y2="629.3" stroke="#111" stroke-width="0.8" marker-start="url(#ah2)" marker-end="url(#ah2)"/>
<line x1="158" y1="662" x2="186" y2="662" stroke="#111" stroke-width="0.8" marker-start="url(#ah2)" marker-end="url(#ah2)"/>
<circle cx="174.1" cy="576.1" r="4" fill="url(#gK)"/>
<text x="173.8" y="578.1" font-size="5.6" text-anchor="middle" fill="#222">K<tspan font-size="3.6" dy="-2.2">+</tspan></text>
<circle cx="175.2" cy="599.3" r="4" fill="url(#gK)"/>
<text x="174.9" y="601.3" font-size="5.6" text-anchor="middle" fill="#222">K<tspan font-size="3.6" dy="-2.2">+</tspan></text>
<circle cx="149.9" cy="608" r="4" fill="url(#gK)"/>
<text x="149.6" y="610" font-size="5.6" text-anchor="middle" fill="#222">K<tspan font-size="3.6" dy="-2.2">+</tspan></text>
<circle cx="169.4" cy="629.3" r="4" fill="url(#gK)"/>
<text x="169.1" y="631.3" font-size="5.6" text-anchor="middle" fill="#222">K<tspan font-size="3.6" dy="-2.2">+</tspan></text>
<circle cx="188" cy="631.4" r="4" fill="url(#gK)"/>
<text x="187.7" y="633.4" font-size="5.6" text-anchor="middle" fill="#222">K<tspan font-size="3.6" dy="-2.2">+</tspan></text>
<circle cx="172.1" cy="662" r="4" fill="url(#gK)"/>
<text x="171.8" y="664" font-size="5.6" text-anchor="middle" fill="#222">K<tspan font-size="3.6" dy="-2.2">+</tspan></text>
<circle cx="170.6" cy="688.7" r="4" fill="url(#gK)"/>
<text x="170.3" y="690.7" font-size="5.6" text-anchor="middle" fill="#222">K<tspan font-size="3.6" dy="-2.2">+</tspan></text>
<circle cx="141.7" cy="690" r="4" fill="url(#gK)"/>
<text x="141.4" y="692" font-size="5.6" text-anchor="middle" fill="#222">K<tspan font-size="3.6" dy="-2.2">+</tspan></text>
<circle cx="142" cy="574.5" r="4" fill="url(#gK)"/>
<text x="141.7" y="576.5" font-size="5.6" text-anchor="middle" fill="#222">K<tspan font-size="3.6" dy="-2.2">+</tspan></text>
<circle cx="243.4" cy="582.7" r="3.3" fill="url(#gN2)"/>
<circle cx="257.8" cy="588.4" r="3.3" fill="url(#gN2)"/>
<circle cx="244.7" cy="597.6" r="3.3" fill="url(#gN2)"/>
<circle cx="248.6" cy="590.6" r="3.2" fill="url(#gN2)"/>
<circle cx="245.6" cy="585.8" r="3.6" fill="url(#gW)"/>
<circle cx="250.8" cy="586.2" r="3.6" fill="url(#gW)"/>
<circle cx="253.9" cy="589.3" r="3.6" fill="url(#gW)"/>
<circle cx="245.1" cy="591" r="3.6" fill="url(#gW)"/>
<circle cx="245.6" cy="595" r="3.6" fill="url(#gW)"/>
<circle cx="251.3" cy="593.6" r="3.6" fill="url(#gW)"/>
<circle cx="252.6" cy="583.1" r="3.4" fill="url(#gN)"/>
<circle cx="240.8" cy="591.5" r="3.4" fill="url(#gN)"/>
<circle cx="253.9" cy="597.6" r="3.4" fill="url(#gN)"/>
<circle cx="228.4" cy="624.9" r="3.3" fill="url(#gN2)"/>
<circle cx="242.8" cy="630.6" r="3.3" fill="url(#gN2)"/>
<circle cx="229.7" cy="639.8" r="3.3" fill="url(#gN2)"/>
<circle cx="233.6" cy="632.8" r="3.2" fill="url(#gN2)"/>
<circle cx="230.6" cy="628" r="3.6" fill="url(#gW)"/>
<circle cx="235.8" cy="628.4" r="3.6" fill="url(#gW)"/>
<circle cx="238.9" cy="631.5" r="3.6" fill="url(#gW)"/>
<circle cx="230.1" cy="633.2" r="3.6" fill="url(#gW)"/>
<circle cx="230.6" cy="637.2" r="3.6" fill="url(#gW)"/>
<circle cx="236.3" cy="635.8" r="3.6" fill="url(#gW)"/>
<circle cx="237.6" cy="625.3" r="3.4" fill="url(#gN)"/>
<circle cx="225.8" cy="633.7" r="3.4" fill="url(#gN)"/>
<circle cx="238.9" cy="639.8" r="3.4" fill="url(#gN)"/>
<circle cx="264.7" cy="618.8" r="3.3" fill="url(#gN2)"/>
<circle cx="279.1" cy="624.5" r="3.3" fill="url(#gN2)"/>
<circle cx="266" cy="633.7" r="3.3" fill="url(#gN2)"/>
<circle cx="269.9" cy="626.7" r="3.2" fill="url(#gN2)"/>
<circle cx="266.9" cy="621.9" r="3.6" fill="url(#gW)"/>
<circle cx="272.1" cy="622.3" r="3.6" fill="url(#gW)"/>
<circle cx="275.2" cy="625.4" r="3.6" fill="url(#gW)"/>
<circle cx="266.4" cy="627.1" r="3.6" fill="url(#gW)"/>
<circle cx="266.9" cy="631.1" r="3.6" fill="url(#gW)"/>
<circle cx="272.6" cy="629.7" r="3.6" fill="url(#gW)"/>
<circle cx="273.9" cy="619.2" r="3.4" fill="url(#gN)"/>
<circle cx="262.1" cy="627.6" r="3.4" fill="url(#gN)"/>
<circle cx="275.2" cy="633.7" r="3.4" fill="url(#gN)"/>
<circle cx="250.8" cy="672.9" r="3.3" fill="url(#gN2)"/>
<circle cx="265.2" cy="678.6" r="3.3" fill="url(#gN2)"/>
<circle cx="252.1" cy="687.8" r="3.3" fill="url(#gN2)"/>
<circle cx="256" cy="680.8" r="3.2" fill="url(#gN2)"/>
<circle cx="253" cy="676" r="3.6" fill="url(#gW)"/>
<circle cx="258.2" cy="676.4" r="3.6" fill="url(#gW)"/>
<circle cx="261.3" cy="679.5" r="3.6" fill="url(#gW)"/>
<circle cx="252.5" cy="681.2" r="3.6" fill="url(#gW)"/>
<circle cx="253" cy="685.2" r="3.6" fill="url(#gW)"/>
<circle cx="258.7" cy="683.8" r="3.6" fill="url(#gW)"/>
<circle cx="260" cy="673.3" r="3.4" fill="url(#gN)"/>
<circle cx="248.2" cy="681.7" r="3.4" fill="url(#gN)"/>
<circle cx="261.3" cy="687.8" r="3.4" fill="url(#gN)"/>
<circle cx="217.2" cy="574.6" r="4" fill="url(#gK)"/>
<text x="216.9" y="576.6" font-size="5.6" text-anchor="middle" fill="#222">K<tspan font-size="3.6" dy="-2.2">+</tspan></text>
<circle cx="276.5" cy="587.7" r="4" fill="url(#gK)"/>
<text x="276.2" y="589.7" font-size="5.6" text-anchor="middle" fill="#222">K<tspan font-size="3.6" dy="-2.2">+</tspan></text>
<circle cx="265.7" cy="654.4" r="4" fill="url(#gK)"/>
<text x="265.4" y="656.4" font-size="5.6" text-anchor="middle" fill="#222">K<tspan font-size="3.6" dy="-2.2">+</tspan></text>
<circle cx="229.1" cy="673.4" r="4" fill="url(#gK)"/>
<text x="228.8" y="675.4" font-size="5.6" text-anchor="middle" fill="#222">K<tspan font-size="3.6" dy="-2.2">+</tspan></text>
<circle cx="221.2" cy="593.3" r="4.3" fill="url(#gCl)"/>
<text x="221.2" y="595.3" font-size="5.8" text-anchor="middle" fill="#0a2a50" font-weight="bold">Cl</text>
<circle cx="276.5" cy="604.3" r="4.3" fill="url(#gCl)"/>
<text x="276.5" y="606.3" font-size="5.8" text-anchor="middle" fill="#0a2a50" font-weight="bold">Cl</text>
<circle cx="276.5" cy="661.8" r="4.3" fill="url(#gCl)"/>
<text x="276.5" y="663.8" font-size="5.8" text-anchor="middle" fill="#0a2a50" font-weight="bold">Cl</text>
<circle cx="223" cy="687.4" r="4.3" fill="url(#gCl)"/>
<text x="223" y="689.4" font-size="5.8" text-anchor="middle" fill="#0a2a50" font-weight="bold">Cl</text>
<path d="M217.8 615.4 C 205 620, 201 633, 205.5 642 C 208 646.5, 212 649.5, 215.5 650.3" fill="none" stroke="#111" stroke-width="1.7"/>
<path d="M221.5 651.2 L213.6 654.4 L215.7 645.6 Z" fill="#111"/>
<text x="348.7" y="557.3" font-size="11.3" font-weight="bold" text-anchor="middle" fill="#111">Redox species</text>
<circle cx="342.7" cy="577.5" r="3.3" fill="url(#gN2)"/>
<circle cx="357.1" cy="583.2" r="3.3" fill="url(#gN2)"/>
<circle cx="344" cy="592.4" r="3.3" fill="url(#gN2)"/>
<circle cx="347.9" cy="585.4" r="3.2" fill="url(#gN2)"/>
<circle cx="344.9" cy="580.6" r="3.6" fill="url(#gW)"/>
<circle cx="350.1" cy="581" r="3.6" fill="url(#gW)"/>
<circle cx="353.2" cy="584.1" r="3.6" fill="url(#gW)"/>
<circle cx="344.4" cy="585.8" r="3.6" fill="url(#gW)"/>
<circle cx="344.9" cy="589.8" r="3.6" fill="url(#gW)"/>
<circle cx="350.6" cy="588.4" r="3.6" fill="url(#gW)"/>
<circle cx="351.9" cy="577.9" r="3.4" fill="url(#gN)"/>
<circle cx="340.1" cy="586.3" r="3.4" fill="url(#gN)"/>
<circle cx="353.2" cy="592.4" r="3.4" fill="url(#gN)"/>
<text x="350" y="612.3" font-size="10" text-anchor="middle" fill="#111">K<tspan font-size="6.5" dy="2">3</tspan><tspan dy="-2">Fe(CN)</tspan><tspan font-size="6.5" dy="2">6</tspan></text>
<text x="350" y="623.3" font-size="10" text-anchor="middle" fill="#111">/K<tspan font-size="6.5" dy="2">4</tspan><tspan dy="-2">Fe(CN)</tspan><tspan font-size="6.5" dy="2">6</tspan></text>
<circle cx="338.47" cy="647.39" r="1.94" fill="url(#gH)"/>
<circle cx="342.14" cy="643.16" r="1.94" fill="url(#gH)"/>
<circle cx="335.18" cy="647.34" r="1.94" fill="url(#gH)"/>
<circle cx="338.85" cy="643.12" r="1.94" fill="url(#gH)"/>
<circle cx="332.27" cy="647.05" r="1.94" fill="url(#gH)"/>
<circle cx="335.95" cy="642.83" r="1.94" fill="url(#gH)"/>
<circle cx="360.55" cy="665.37" r="1.94" fill="url(#gH)"/>
<circle cx="364.22" cy="661.14" r="1.94" fill="url(#gH)"/>
<circle cx="363.79" cy="665.5" r="1.94" fill="url(#gH)"/>
<circle cx="367.46" cy="661.27" r="1.94" fill="url(#gH)"/>
<circle cx="366.38" cy="666.32" r="1.94" fill="url(#gH)"/>
<circle cx="370.06" cy="662.09" r="1.94" fill="url(#gH)"/>
<circle cx="340.3" cy="645.27" r="2.04" fill="url(#gW)"/>
<circle cx="337.01" cy="645.23" r="2.04" fill="url(#gW)"/>
<circle cx="334.11" cy="644.94" r="2.04" fill="url(#gW)"/>
<circle cx="362.39" cy="663.25" r="2.04" fill="url(#gW)"/>
<circle cx="365.62" cy="663.38" r="2.04" fill="url(#gW)"/>
<circle cx="368.22" cy="664.2" r="2.04" fill="url(#gW)"/>
<circle cx="331.23" cy="644.19" r="2.04" fill="url(#gP)"/>
<circle cx="330.75" cy="640.59" r="2.55" fill="url(#gO)"/>
<circle cx="327.5" cy="645.31" r="2.55" fill="url(#gO)"/>
<circle cx="370.96" cy="665.58" r="2.04" fill="url(#gP)"/>
<circle cx="374.64" cy="664.55" r="2.55" fill="url(#gO)"/>
<circle cx="371.48" cy="669.32" r="2.55" fill="url(#gO)"/>
<circle cx="353.83" cy="645.07" r="1.79" fill="url(#gH)"/>
<circle cx="356.25" cy="648.73" r="1.79" fill="url(#gH)"/>
<circle cx="349.17" cy="662.93" r="1.79" fill="url(#gH)"/>
<circle cx="346.75" cy="659.27" r="1.79" fill="url(#gH)"/>
<circle cx="343.78" cy="647.82" r="1.79" fill="url(#gH)"/>
<circle cx="359.22" cy="660.18" r="1.79" fill="url(#gH)"/>
<circle cx="359.69" cy="655.22" r="1.79" fill="url(#gH)"/>
<circle cx="343.31" cy="652.78" r="1.79" fill="url(#gH)"/>
<circle cx="351" cy="646.08" r="2.09" fill="url(#gC)"/>
<circle cx="348.56" cy="648.81" r="2.09" fill="url(#gC)"/>
<circle cx="344.97" cy="649.49" r="2.09" fill="url(#gC)"/>
<circle cx="352.21" cy="648.21" r="2.09" fill="url(#gC)"/>
<circle cx="349.77" cy="650.94" r="2.09" fill="url(#gC)"/>
<circle cx="346.17" cy="651.62" r="2.09" fill="url(#gC)"/>
<circle cx="353.36" cy="650.25" r="2.09" fill="url(#gC)"/>
<circle cx="350.92" cy="652.98" r="2.09" fill="url(#gC)"/>
<circle cx="347.33" cy="653.67" r="2.09" fill="url(#gC)"/>
<circle cx="354.52" cy="652.29" r="2.09" fill="url(#gC)"/>
<circle cx="352.08" cy="655.02" r="2.09" fill="url(#gC)"/>
<circle cx="348.48" cy="655.71" r="2.09" fill="url(#gC)"/>
<circle cx="355.67" cy="654.33" r="2.09" fill="url(#gC)"/>
<circle cx="353.23" cy="657.06" r="2.09" fill="url(#gC)"/>
<circle cx="349.64" cy="657.75" r="2.09" fill="url(#gC)"/>
<circle cx="356.83" cy="656.38" r="2.09" fill="url(#gC)"/>
<circle cx="354.39" cy="659.1" r="2.09" fill="url(#gC)"/>
<circle cx="350.79" cy="659.79" r="2.09" fill="url(#gC)"/>
<circle cx="358.03" cy="658.51" r="2.09" fill="url(#gC)"/>
<circle cx="355.59" cy="661.24" r="2.09" fill="url(#gC)"/>
<circle cx="352" cy="661.92" r="2.09" fill="url(#gC)"/>
<circle cx="357.76" cy="651.4" r="2.55" fill="url(#gO)"/>
<circle cx="345.24" cy="656.6" r="2.55" fill="url(#gO)"/>
<circle cx="343.77" cy="645.42" r="2.45" fill="url(#gO)"/>
<circle cx="359.2" cy="663.03" r="2.45" fill="url(#gO)"/>
<text x="352.7" y="686.4" font-size="10" text-anchor="middle" fill="#111">2,6-DPPAQ</text>
<text x="414.4" y="513.1" font-size="11.4" fill="#111">Crossover of redox species through Nafion</text>
<text x="414.4" y="526.2" font-size="11.4" fill="#111">membranes leads to battery capacity decay</text>
<rect x="389.2" y="562.2" width="14" height="142.6" fill="#7f7f7f" stroke="none" stroke-width="1"/>
<rect x="403.2" y="562.2" width="109" height="142.6" fill="#dae3f3" stroke="none" stroke-width="1"/>
<rect x="512.2" y="562.2" width="39.2" height="142.6" fill="#deebf9" stroke="none" stroke-width="1"/>
<rect x="551.4" y="562.2" width="106" height="142.6" fill="#e2efda" stroke="none" stroke-width="1"/>
<rect x="657.4" y="562.2" width="13.4" height="142.6" fill="#7f7f7f" stroke="none" stroke-width="1"/>
<line x1="389.2" y1="562.2" x2="670.8" y2="562.2" stroke="#8a8a8a" stroke-width="1.0"/>
<g clip-path="url(#clipF)">
<path d="M513.5 559.48 L518.16 561.39 L522.83 559.8 L527.49 557.04 L532.15 557.15 L536.81 559.97 L541.47 561.37 L546.14 559.3 L550.8 556.79 L550.8 574.59 L546.14 571.33 L541.47 570.01 L536.81 572.82 L532.15 575.1 L527.49 573.06 L522.83 570.09 L518.16 571.12 L513.5 574.44 Z" fill="#a6a6a6"/>
<path d="M513.5 586.64 L518.16 586.12 L522.83 583.23 L527.49 582.2 L532.15 584.54 L536.81 586.82 L541.47 585.7 L546.14 582.82 L550.8 582.4 L550.8 598.01 L546.14 596.59 L541.47 593.36 L536.81 593.68 L532.15 597.02 L527.49 597.84 L522.83 594.77 L518.16 592.92 L513.5 595.35 Z" fill="#a6a6a6"/>
<path d="M513.5 610.29 L518.16 607.44 L522.83 606.14 L527.49 608.3 L532.15 610.75 L536.81 609.9 L541.47 607 L546.14 606.29 L550.8 608.82 L550.8 620.28 L546.14 622.59 L541.47 620.6 L536.81 617.61 L532.15 618.59 L527.49 621.91 L522.83 622.06 L518.16 618.79 L513.5 617.53 Z" fill="#a6a6a6"/>
<path d="M513.5 635.05 L518.16 635.68 L522.83 633.12 L527.49 631.12 L532.15 632.6 L536.81 635.4 L541.47 635.42 L546.14 632.62 L550.8 631.11 L550.8 656.58 L546.14 654.09 L541.47 651.45 L536.81 653.05 L532.15 656.22 L527.49 655.71 L522.83 652.36 L518.16 651.73 L513.5 654.87 Z" fill="#a6a6a6"/>
<path d="M513.5 671.84 L518.16 669.6 L522.83 667.22 L527.49 668.18 L532.15 671.08 L536.81 671.67 L541.47 669.08 L546.14 667.11 L550.8 668.64 L550.8 683.49 L546.14 684.36 L541.47 681.32 L536.81 679.41 L532.15 681.8 L527.49 684.52 L522.83 683.05 L518.16 679.84 L513.5 680.21 Z" fill="#a6a6a6"/>
<path d="M513.5 697.57 L518.16 694.91 L522.83 695.31 L527.49 698.19 L532.15 699.33 L536.81 697.06 L541.47 694.7 L546.14 695.71 L550.8 698.61 L550.8 710.77 L546.14 714.05 L541.47 713.92 L536.81 710.6 L532.15 709.6 L527.49 712.58 L522.83 714.6 L518.16 712.3 L513.5 709.51 Z" fill="#a6a6a6"/>
</g>
<rect x="389.2" y="561.7" width="281.6" height="0.5" fill="#fff" stroke="none" stroke-width="1"/>
<line x1="389.2" y1="562.2" x2="670.8" y2="562.2" stroke="#8a8a8a" stroke-width="1.0"/>
<rect x="389.2" y="704.6" width="281.6" height="2" fill="#7f7f7f" stroke="none" stroke-width="1"/>
<polyline points="396.8,562.2 396.8,543.9 525.9,543.9" fill="none" stroke="#111" stroke-width="1.2"/>
<polyline points="535.4,543.9 662.8,543.9 662.8,562.2" fill="none" stroke="#111" stroke-width="1.2"/>
<line x1="525.9" y1="531.3" x2="525.9" y2="555.1" stroke="#111" stroke-width="2.0"/>
<line x1="535.4" y1="536.5" x2="535.4" y2="549.7" stroke="#111" stroke-width="2.0"/>
<circle cx="441.19" cy="587.28" r="1.82" fill="url(#gH)"/>
<circle cx="445.82" cy="584.76" r="1.82" fill="url(#gH)"/>
<circle cx="438.3" cy="586.15" r="1.82" fill="url(#gH)"/>
<circle cx="442.94" cy="583.64" r="1.82" fill="url(#gH)"/>
<circle cx="435.84" cy="584.94" r="1.82" fill="url(#gH)"/>
<circle cx="440.47" cy="582.42" r="1.82" fill="url(#gH)"/>
<circle cx="454.73" cy="610.4" r="1.82" fill="url(#gH)"/>
<circle cx="459.36" cy="607.89" r="1.82" fill="url(#gH)"/>
<circle cx="457.54" cy="611.59" r="1.82" fill="url(#gH)"/>
<circle cx="462.17" cy="609.07" r="1.82" fill="url(#gH)"/>
<circle cx="459.56" cy="613.16" r="1.82" fill="url(#gH)"/>
<circle cx="464.19" cy="610.65" r="1.82" fill="url(#gH)"/>
<circle cx="443.51" cy="586.02" r="1.92" fill="url(#gW)"/>
<circle cx="440.62" cy="584.89" r="1.92" fill="url(#gW)"/>
<circle cx="438.15" cy="583.68" r="1.92" fill="url(#gW)"/>
<circle cx="457.05" cy="609.15" r="1.92" fill="url(#gW)"/>
<circle cx="459.86" cy="610.33" r="1.92" fill="url(#gW)"/>
<circle cx="461.88" cy="611.91" r="1.92" fill="url(#gW)"/>
<circle cx="435.87" cy="582.07" r="1.92" fill="url(#gP)"/>
<circle cx="436.63" cy="578.74" r="2.4" fill="url(#gO)"/>
<circle cx="432.21" cy="581.83" r="2.4" fill="url(#gO)"/>
<circle cx="463.84" cy="614.02" r="1.92" fill="url(#gP)"/>
<circle cx="467.42" cy="614.33" r="2.4" fill="url(#gO)"/>
<circle cx="463.06" cy="617.49" r="2.4" fill="url(#gO)"/>
<circle cx="455.5" cy="590.29" r="1.68" fill="url(#gH)"/>
<circle cx="456.43" cy="594.32" r="1.68" fill="url(#gH)"/>
<circle cx="445.5" cy="604.51" r="1.68" fill="url(#gH)"/>
<circle cx="444.57" cy="600.48" r="1.68" fill="url(#gH)"/>
<circle cx="445.73" cy="589.41" r="1.68" fill="url(#gH)"/>
<circle cx="455.27" cy="605.39" r="1.68" fill="url(#gH)"/>
<circle cx="457.32" cy="601.18" r="1.68" fill="url(#gH)"/>
<circle cx="443.68" cy="593.62" r="1.68" fill="url(#gH)"/>
<circle cx="452.67" cy="590.25" r="1.97" fill="url(#gC)"/>
<circle cx="449.62" cy="591.85" r="1.97" fill="url(#gC)"/>
<circle cx="446.22" cy="591.27" r="1.97" fill="url(#gC)"/>
<circle cx="453.03" cy="592.53" r="1.97" fill="url(#gC)"/>
<circle cx="449.98" cy="594.13" r="1.97" fill="url(#gC)"/>
<circle cx="446.59" cy="593.55" r="1.97" fill="url(#gC)"/>
<circle cx="453.38" cy="594.71" r="1.97" fill="url(#gC)"/>
<circle cx="450.33" cy="596.31" r="1.97" fill="url(#gC)"/>
<circle cx="446.93" cy="595.73" r="1.97" fill="url(#gC)"/>
<circle cx="453.72" cy="596.89" r="1.97" fill="url(#gC)"/>
<circle cx="450.67" cy="598.49" r="1.97" fill="url(#gC)"/>
<circle cx="447.28" cy="597.91" r="1.97" fill="url(#gC)"/>
<circle cx="454.07" cy="599.07" r="1.97" fill="url(#gC)"/>
<circle cx="451.02" cy="600.67" r="1.97" fill="url(#gC)"/>
<circle cx="447.62" cy="600.09" r="1.97" fill="url(#gC)"/>
<circle cx="454.41" cy="601.25" r="1.97" fill="url(#gC)"/>
<circle cx="451.36" cy="602.85" r="1.97" fill="url(#gC)"/>
<circle cx="447.97" cy="602.27" r="1.97" fill="url(#gC)"/>
<circle cx="454.78" cy="603.53" r="1.97" fill="url(#gC)"/>
<circle cx="451.72" cy="605.13" r="1.97" fill="url(#gC)"/>
<circle cx="448.33" cy="604.55" r="1.97" fill="url(#gC)"/>
<circle cx="456.88" cy="597.17" r="2.4" fill="url(#gO)"/>
<circle cx="444.12" cy="597.63" r="2.4" fill="url(#gO)"/>
<circle cx="446.51" cy="587.29" r="2.3" fill="url(#gO)"/>
<circle cx="454.31" cy="607.9" r="2.3" fill="url(#gO)"/>
<circle cx="434.25" cy="634.14" r="1.82" fill="url(#gH)"/>
<circle cx="435.48" cy="629.02" r="1.82" fill="url(#gH)"/>
<circle cx="431.48" cy="635.54" r="1.82" fill="url(#gH)"/>
<circle cx="432.71" cy="630.41" r="1.82" fill="url(#gH)"/>
<circle cx="428.93" cy="636.56" r="1.82" fill="url(#gH)"/>
<circle cx="430.16" cy="631.43" r="1.82" fill="url(#gH)"/>
<circle cx="460.49" cy="639.56" r="1.82" fill="url(#gH)"/>
<circle cx="461.72" cy="634.43" r="1.82" fill="url(#gH)"/>
<circle cx="463.25" cy="638.26" r="1.82" fill="url(#gH)"/>
<circle cx="464.48" cy="633.13" r="1.82" fill="url(#gH)"/>
<circle cx="465.78" cy="637.82" r="1.82" fill="url(#gH)"/>
<circle cx="467.01" cy="632.69" r="1.82" fill="url(#gH)"/>
<circle cx="434.86" cy="631.58" r="1.92" fill="url(#gW)"/>
<circle cx="432.1" cy="632.97" r="1.92" fill="url(#gW)"/>
<circle cx="429.54" cy="633.99" r="1.92" fill="url(#gW)"/>
<circle cx="461.11" cy="636.99" r="1.92" fill="url(#gW)"/>
<circle cx="463.87" cy="635.7" r="1.92" fill="url(#gW)"/>
<circle cx="466.39" cy="635.25" r="1.92" fill="url(#gW)"/>
<circle cx="426.82" cy="634.62" r="1.92" fill="url(#gP)"/>
<circle cx="424.85" cy="631.83" r="2.4" fill="url(#gO)"/>
<circle cx="424.19" cy="637.17" r="2.4" fill="url(#gO)"/>
<circle cx="469.28" cy="635.21" r="1.92" fill="url(#gP)"/>
<circle cx="471.91" cy="632.75" r="2.4" fill="url(#gO)"/>
<circle cx="471.34" cy="638.11" r="2.4" fill="url(#gO)"/>
<circle cx="446.06" cy="625.53" r="1.68" fill="url(#gH)"/>
<circle cx="449.68" cy="627.54" r="1.68" fill="url(#gH)"/>
<circle cx="449.94" cy="642.47" r="1.68" fill="url(#gH)"/>
<circle cx="446.32" cy="640.46" r="1.68" fill="url(#gH)"/>
<circle cx="438.87" cy="632.19" r="1.68" fill="url(#gH)"/>
<circle cx="457.13" cy="635.81" r="1.68" fill="url(#gH)"/>
<circle cx="455.37" cy="631.46" r="1.68" fill="url(#gH)"/>
<circle cx="440.63" cy="636.54" r="1.68" fill="url(#gH)"/>
<circle cx="444.14" cy="627.6" r="1.97" fill="url(#gC)"/>
<circle cx="443.29" cy="630.94" r="1.97" fill="url(#gC)"/>
<circle cx="440.59" cy="633.08" r="1.97" fill="url(#gC)"/>
<circle cx="446.07" cy="628.86" r="1.97" fill="url(#gC)"/>
<circle cx="445.22" cy="632.2" r="1.97" fill="url(#gC)"/>
<circle cx="442.52" cy="634.33" r="1.97" fill="url(#gC)"/>
<circle cx="447.93" cy="630.06" r="1.97" fill="url(#gC)"/>
<circle cx="447.07" cy="633.4" r="1.97" fill="url(#gC)"/>
<circle cx="444.37" cy="635.53" r="1.97" fill="url(#gC)"/>
<circle cx="449.78" cy="631.26" r="1.97" fill="url(#gC)"/>
<circle cx="448.93" cy="634.6" r="1.97" fill="url(#gC)"/>
<circle cx="446.22" cy="636.74" r="1.97" fill="url(#gC)"/>
<circle cx="451.63" cy="632.47" r="1.97" fill="url(#gC)"/>
<circle cx="450.78" cy="635.8" r="1.97" fill="url(#gC)"/>
<circle cx="448.07" cy="637.94" r="1.97" fill="url(#gC)"/>
<circle cx="453.48" cy="633.67" r="1.97" fill="url(#gC)"/>
<circle cx="452.63" cy="637.01" r="1.97" fill="url(#gC)"/>
<circle cx="449.93" cy="639.14" r="1.97" fill="url(#gC)"/>
<circle cx="455.41" cy="634.92" r="1.97" fill="url(#gC)"/>
<circle cx="454.56" cy="638.26" r="1.97" fill="url(#gC)"/>
<circle cx="451.86" cy="640.4" r="1.97" fill="url(#gC)"/>
<circle cx="452.09" cy="629.1" r="2.4" fill="url(#gO)"/>
<circle cx="443.91" cy="638.9" r="2.4" fill="url(#gO)"/>
<circle cx="437.82" cy="630.2" r="2.3" fill="url(#gO)"/>
<circle cx="458.35" cy="638.2" r="2.3" fill="url(#gO)"/>
<circle cx="443.55" cy="681.3" r="1.82" fill="url(#gH)"/>
<circle cx="444.86" cy="676.2" r="1.82" fill="url(#gH)"/>
<circle cx="440.76" cy="682.65" r="1.82" fill="url(#gH)"/>
<circle cx="442.08" cy="677.54" r="1.82" fill="url(#gH)"/>
<circle cx="438.19" cy="683.62" r="1.82" fill="url(#gH)"/>
<circle cx="439.51" cy="678.52" r="1.82" fill="url(#gH)"/>
<circle cx="469.7" cy="687.17" r="1.82" fill="url(#gH)"/>
<circle cx="471.01" cy="682.07" r="1.82" fill="url(#gH)"/>
<circle cx="472.48" cy="685.93" r="1.82" fill="url(#gH)"/>
<circle cx="473.8" cy="680.82" r="1.82" fill="url(#gH)"/>
<circle cx="475.01" cy="685.53" r="1.82" fill="url(#gH)"/>
<circle cx="476.33" cy="680.42" r="1.82" fill="url(#gH)"/>
<circle cx="444.2" cy="678.75" r="1.92" fill="url(#gW)"/>
<circle cx="441.42" cy="680.1" r="1.92" fill="url(#gW)"/>
<circle cx="438.85" cy="681.07" r="1.92" fill="url(#gW)"/>
<circle cx="470.36" cy="684.62" r="1.92" fill="url(#gW)"/>
<circle cx="473.14" cy="683.37" r="1.92" fill="url(#gW)"/>
<circle cx="475.67" cy="682.97" r="1.92" fill="url(#gW)"/>
<circle cx="436.11" cy="681.65" r="1.92" fill="url(#gP)"/>
<circle cx="434.19" cy="678.82" r="2.4" fill="url(#gO)"/>
<circle cx="433.43" cy="684.16" r="2.4" fill="url(#gO)"/>
<circle cx="478.55" cy="682.98" r="1.92" fill="url(#gP)"/>
<circle cx="481.22" cy="680.57" r="2.4" fill="url(#gO)"/>
<circle cx="480.56" cy="685.91" r="2.4" fill="url(#gO)"/>
<circle cx="455.51" cy="672.9" r="1.68" fill="url(#gH)"/>
<circle cx="459.09" cy="674.97" r="1.68" fill="url(#gH)"/>
<circle cx="459.09" cy="689.9" r="1.68" fill="url(#gH)"/>
<circle cx="455.51" cy="687.83" r="1.68" fill="url(#gH)"/>
<circle cx="448.2" cy="679.43" r="1.68" fill="url(#gH)"/>
<circle cx="466.4" cy="683.37" r="1.68" fill="url(#gH)"/>
<circle cx="464.72" cy="678.99" r="1.68" fill="url(#gH)"/>
<circle cx="449.88" cy="683.81" r="1.68" fill="url(#gH)"/>
<circle cx="453.55" cy="674.94" r="1.97" fill="url(#gC)"/>
<circle cx="452.64" cy="678.26" r="1.97" fill="url(#gC)"/>
<circle cx="449.9" cy="680.35" r="1.97" fill="url(#gC)"/>
<circle cx="455.46" cy="676.22" r="1.97" fill="url(#gC)"/>
<circle cx="454.55" cy="679.55" r="1.97" fill="url(#gC)"/>
<circle cx="451.81" cy="681.64" r="1.97" fill="url(#gC)"/>
<circle cx="457.29" cy="677.46" r="1.97" fill="url(#gC)"/>
<circle cx="456.38" cy="680.78" r="1.97" fill="url(#gC)"/>
<circle cx="453.64" cy="682.87" r="1.97" fill="url(#gC)"/>
<circle cx="459.13" cy="678.69" r="1.97" fill="url(#gC)"/>
<circle cx="458.22" cy="682.02" r="1.97" fill="url(#gC)"/>
<circle cx="455.47" cy="684.11" r="1.97" fill="url(#gC)"/>
<circle cx="460.96" cy="679.93" r="1.97" fill="url(#gC)"/>
<circle cx="460.05" cy="683.25" r="1.97" fill="url(#gC)"/>
<circle cx="457.31" cy="685.34" r="1.97" fill="url(#gC)"/>
<circle cx="462.79" cy="681.16" r="1.97" fill="url(#gC)"/>
<circle cx="461.88" cy="684.49" r="1.97" fill="url(#gC)"/>
<circle cx="459.14" cy="686.58" r="1.97" fill="url(#gC)"/>
<circle cx="464.7" cy="682.45" r="1.97" fill="url(#gC)"/>
<circle cx="463.79" cy="685.78" r="1.97" fill="url(#gC)"/>
<circle cx="461.05" cy="687.86" r="1.97" fill="url(#gC)"/>
<circle cx="461.48" cy="676.58" r="2.4" fill="url(#gO)"/>
<circle cx="453.12" cy="686.22" r="2.4" fill="url(#gO)"/>
<circle cx="447.18" cy="677.42" r="2.3" fill="url(#gO)"/>
<circle cx="467.58" cy="685.78" r="2.3" fill="url(#gO)"/>
<circle cx="482.3" cy="655.7" r="3.3" fill="url(#gN2)"/>
<circle cx="496.7" cy="661.4" r="3.3" fill="url(#gN2)"/>
<circle cx="483.6" cy="670.6" r="3.3" fill="url(#gN2)"/>
<circle cx="487.5" cy="663.6" r="3.2" fill="url(#gN2)"/>
<circle cx="484.5" cy="658.8" r="3.6" fill="url(#gW)"/>
<circle cx="489.7" cy="659.2" r="3.6" fill="url(#gW)"/>
<circle cx="492.8" cy="662.3" r="3.6" fill="url(#gW)"/>
<circle cx="484" cy="664" r="3.6" fill="url(#gW)"/>
<circle cx="484.5" cy="668" r="3.6" fill="url(#gW)"/>
<circle cx="490.2" cy="666.6" r="3.6" fill="url(#gW)"/>
<circle cx="491.5" cy="656.1" r="3.4" fill="url(#gN)"/>
<circle cx="479.7" cy="664.5" r="3.4" fill="url(#gN)"/>
<circle cx="492.8" cy="670.6" r="3.4" fill="url(#gN)"/>
<circle cx="421.4" cy="580.3" r="4" fill="url(#gK)"/>
<text x="421.1" y="582.3" font-size="5.6" text-anchor="middle" fill="#222">K<tspan font-size="3.6" dy="-2.2">+</tspan></text>
<circle cx="503.6" cy="574.7" r="4" fill="url(#gK)"/>
<text x="503.3" y="576.7" font-size="5.6" text-anchor="middle" fill="#222">K<tspan font-size="3.6" dy="-2.2">+</tspan></text>
<circle cx="491.5" cy="605.7" r="4" fill="url(#gK)"/>
<text x="491.2" y="607.7" font-size="5.6" text-anchor="middle" fill="#222">K<tspan font-size="3.6" dy="-2.2">+</tspan></text>
<circle cx="482.6" cy="631.2" r="4" fill="url(#gK)"/>
<text x="482.3" y="633.2" font-size="5.6" text-anchor="middle" fill="#222">K<tspan font-size="3.6" dy="-2.2">+</tspan></text>
<circle cx="502.6" cy="689.8" r="4" fill="url(#gK)"/>
<text x="502.3" y="691.8" font-size="5.6" text-anchor="middle" fill="#222">K<tspan font-size="3.6" dy="-2.2">+</tspan></text>
<circle cx="477.2" cy="574.2" r="4.3" fill="url(#gCl)"/>
<text x="477.2" y="576.2" font-size="5.8" text-anchor="middle" fill="#0a2a50" font-weight="bold">Cl</text>
<circle cx="417.4" cy="612.7" r="4.3" fill="url(#gCl)"/>
<text x="417.4" y="614.7" font-size="5.8" text-anchor="middle" fill="#0a2a50" font-weight="bold">Cl</text>
<circle cx="426.7" cy="661.9" r="4.3" fill="url(#gCl)"/>
<text x="426.7" y="663.9" font-size="5.8" text-anchor="middle" fill="#0a2a50" font-weight="bold">Cl</text>
<circle cx="421" cy="696.1" r="4.3" fill="url(#gCl)"/>
<text x="421" y="698.1" font-size="5.8" text-anchor="middle" fill="#0a2a50" font-weight="bold">Cl</text>
<text x="458.4" y="653.1" font-size="11.3" fill="#111">Crossover</text>
<line x1="490.2" y1="599.6" x2="563.5" y2="599.6" stroke="#111" stroke-width="1.7" stroke-dasharray="4.0,2.3"/>
<path d="M569.2 599.6 L562.0 595.8 L562.0 603.4 Z" fill="#111"/>
<line x1="567.5" y1="658.6" x2="505.5" y2="658.6" stroke="#111" stroke-width="1.7" stroke-dasharray="4.0,2.3"/>
<path d="M499.6 658.6 L506.8 654.8 L506.8 662.4 Z" fill="#111"/>
<circle cx="539.1" cy="574.5" r="3.9" fill="url(#gS)" stroke="#c03a08" stroke-width="0.9"/>
<line x1="536.8" y1="574.5" x2="541.4" y2="574.5" stroke="#3a2a2a" stroke-width="1.1"/>
<circle cx="535.6" cy="607.1" r="3.9" fill="url(#gS)" stroke="#c03a08" stroke-width="0.9"/>
<line x1="533.3" y1="607.1" x2="537.9" y2="607.1" stroke="#3a2a2a" stroke-width="1.1"/>
<circle cx="528.2" cy="621.6" r="3.9" fill="url(#gS)" stroke="#c03a08" stroke-width="0.9"/>
<line x1="525.9" y1="621.6" x2="530.5" y2="621.6" stroke="#3a2a2a" stroke-width="1.1"/>
<circle cx="530.2" cy="648.5" r="3.9" fill="url(#gS)" stroke="#c03a08" stroke-width="0.9"/>
<line x1="527.9" y1="648.5" x2="532.5" y2="648.5" stroke="#3a2a2a" stroke-width="1.1"/>
<circle cx="541.2" cy="665" r="3.9" fill="url(#gS)" stroke="#c03a08" stroke-width="0.9"/>
<line x1="538.9" y1="665" x2="543.5" y2="665" stroke="#3a2a2a" stroke-width="1.1"/>
<circle cx="546.4" cy="687.2" r="3.9" fill="url(#gS)" stroke="#c03a08" stroke-width="0.9"/>
<line x1="544.1" y1="687.2" x2="548.7" y2="687.2" stroke="#3a2a2a" stroke-width="1.1"/>
<circle cx="517.4" cy="696.1" r="3.9" fill="url(#gS)" stroke="#c03a08" stroke-width="0.9"/>
<line x1="515.1" y1="696.1" x2="519.7" y2="696.1" stroke="#3a2a2a" stroke-width="1.1"/>
<line x1="522" y1="629.9" x2="545" y2="629.9" stroke="#111" stroke-width="0.8" marker-start="url(#ah2)" marker-end="url(#ah2)"/>
<line x1="518.5" y1="689.9" x2="541" y2="689.9" stroke="#111" stroke-width="0.8" marker-start="url(#ah2)" marker-end="url(#ah2)"/>
<circle cx="525.7" cy="576.5" r="4" fill="url(#gK)"/>
<text x="525.4" y="578.5" font-size="5.6" text-anchor="middle" fill="#222">K<tspan font-size="3.6" dy="-2.2">+</tspan></text>
<circle cx="549" cy="579" r="4" fill="url(#gK)"/>
<text x="548.7" y="581" font-size="5.6" text-anchor="middle" fill="#222">K<tspan font-size="3.6" dy="-2.2">+</tspan></text>
<circle cx="533.5" cy="629.9" r="4" fill="url(#gK)"/>
<text x="533.2" y="631.9" font-size="5.6" text-anchor="middle" fill="#222">K<tspan font-size="3.6" dy="-2.2">+</tspan></text>
<circle cx="531.5" cy="663.4" r="4" fill="url(#gK)"/>
<text x="531.2" y="665.4" font-size="5.6" text-anchor="middle" fill="#222">K<tspan font-size="3.6" dy="-2.2">+</tspan></text>
<circle cx="529.4" cy="689.9" r="4" fill="url(#gK)"/>
<text x="529.1" y="691.9" font-size="5.6" text-anchor="middle" fill="#222">K<tspan font-size="3.6" dy="-2.2">+</tspan></text>
<circle cx="585.62" cy="602.31" r="1.82" fill="url(#gH)"/>
<circle cx="588.05" cy="597.64" r="1.82" fill="url(#gH)"/>
<circle cx="582.6" cy="603" r="1.82" fill="url(#gH)"/>
<circle cx="585.03" cy="598.32" r="1.82" fill="url(#gH)"/>
<circle cx="579.88" cy="603.37" r="1.82" fill="url(#gH)"/>
<circle cx="582.31" cy="598.69" r="1.82" fill="url(#gH)"/>
<circle cx="609.78" cy="613.92" r="1.82" fill="url(#gH)"/>
<circle cx="612.21" cy="609.24" r="1.82" fill="url(#gH)"/>
<circle cx="612.77" cy="613.32" r="1.82" fill="url(#gH)"/>
<circle cx="615.2" cy="608.65" r="1.82" fill="url(#gH)"/>
<circle cx="615.33" cy="613.5" r="1.82" fill="url(#gH)"/>
<circle cx="617.76" cy="608.83" r="1.82" fill="url(#gH)"/>
<circle cx="586.84" cy="599.97" r="1.92" fill="url(#gW)"/>
<circle cx="583.82" cy="600.66" r="1.92" fill="url(#gW)"/>
<circle cx="581.09" cy="601.03" r="1.92" fill="url(#gW)"/>
<circle cx="611" cy="611.58" r="1.92" fill="url(#gW)"/>
<circle cx="613.99" cy="610.99" r="1.92" fill="url(#gW)"/>
<circle cx="616.54" cy="611.16" r="1.92" fill="url(#gW)"/>
<circle cx="578.3" cy="600.98" r="1.92" fill="url(#gP)"/>
<circle cx="577.06" cy="597.79" r="2.4" fill="url(#gO)"/>
<circle cx="575.12" cy="602.82" r="2.4" fill="url(#gO)"/>
<circle cx="619.35" cy="611.82" r="1.92" fill="url(#gP)"/>
<circle cx="622.5" cy="610.07" r="2.4" fill="url(#gO)"/>
<circle cx="620.65" cy="615.13" r="2.4" fill="url(#gO)"/>
<circle cx="599.17" cy="596.81" r="1.68" fill="url(#gH)"/>
<circle cx="602.19" cy="599.63" r="1.68" fill="url(#gH)"/>
<circle cx="598.83" cy="614.19" r="1.68" fill="url(#gH)"/>
<circle cx="595.81" cy="611.37" r="1.68" fill="url(#gH)"/>
<circle cx="590.58" cy="601.54" r="1.68" fill="url(#gH)"/>
<circle cx="607.42" cy="609.46" r="1.68" fill="url(#gH)"/>
<circle cx="606.77" cy="604.82" r="1.68" fill="url(#gH)"/>
<circle cx="591.23" cy="606.18" r="1.68" fill="url(#gH)"/>
<circle cx="596.8" cy="598.36" r="1.97" fill="url(#gC)"/>
<circle cx="595.17" cy="601.39" r="1.97" fill="url(#gC)"/>
<circle cx="592.03" cy="602.81" r="1.97" fill="url(#gC)"/>
<circle cx="598.38" cy="600.04" r="1.97" fill="url(#gC)"/>
<circle cx="596.74" cy="603.08" r="1.97" fill="url(#gC)"/>
<circle cx="593.6" cy="604.5" r="1.97" fill="url(#gC)"/>
<circle cx="599.88" cy="601.66" r="1.97" fill="url(#gC)"/>
<circle cx="598.25" cy="604.69" r="1.97" fill="url(#gC)"/>
<circle cx="595.11" cy="606.11" r="1.97" fill="url(#gC)"/>
<circle cx="601.39" cy="603.27" r="1.97" fill="url(#gC)"/>
<circle cx="599.75" cy="606.31" r="1.97" fill="url(#gC)"/>
<circle cx="596.61" cy="607.73" r="1.97" fill="url(#gC)"/>
<circle cx="602.89" cy="604.89" r="1.97" fill="url(#gC)"/>
<circle cx="601.26" cy="607.92" r="1.97" fill="url(#gC)"/>
<circle cx="598.12" cy="609.34" r="1.97" fill="url(#gC)"/>
<circle cx="604.4" cy="606.5" r="1.97" fill="url(#gC)"/>
<circle cx="602.76" cy="609.54" r="1.97" fill="url(#gC)"/>
<circle cx="599.62" cy="610.96" r="1.97" fill="url(#gC)"/>
<circle cx="605.97" cy="608.19" r="1.97" fill="url(#gC)"/>
<circle cx="604.34" cy="611.22" r="1.97" fill="url(#gC)"/>
<circle cx="601.2" cy="612.64" r="1.97" fill="url(#gC)"/>
<circle cx="604.16" cy="601.74" r="2.4" fill="url(#gO)"/>
<circle cx="593.84" cy="609.26" r="2.4" fill="url(#gO)"/>
<circle cx="590.04" cy="599.35" r="2.3" fill="url(#gO)"/>
<circle cx="608.03" cy="612.08" r="2.3" fill="url(#gO)"/>
<circle cx="605" cy="575" r="3.3" fill="url(#gN2)"/>
<circle cx="619.4" cy="580.7" r="3.3" fill="url(#gN2)"/>
<circle cx="606.3" cy="589.9" r="3.3" fill="url(#gN2)"/>
<circle cx="610.2" cy="582.9" r="3.2" fill="url(#gN2)"/>
<circle cx="607.2" cy="578.1" r="3.6" fill="url(#gW)"/>
<circle cx="612.4" cy="578.5" r="3.6" fill="url(#gW)"/>
<circle cx="615.5" cy="581.6" r="3.6" fill="url(#gW)"/>
<circle cx="606.7" cy="583.3" r="3.6" fill="url(#gW)"/>
<circle cx="607.2" cy="587.3" r="3.6" fill="url(#gW)"/>
<circle cx="612.9" cy="585.9" r="3.6" fill="url(#gW)"/>
<circle cx="614.2" cy="575.4" r="3.4" fill="url(#gN)"/>
<circle cx="602.4" cy="583.8" r="3.4" fill="url(#gN)"/>
<circle cx="615.5" cy="589.9" r="3.4" fill="url(#gN)"/>
<circle cx="583.9" cy="644.4" r="3.3" fill="url(#gN2)"/>
<circle cx="598.3" cy="650.1" r="3.3" fill="url(#gN2)"/>
<circle cx="585.2" cy="659.3" r="3.3" fill="url(#gN2)"/>
<circle cx="589.1" cy="652.3" r="3.2" fill="url(#gN2)"/>
<circle cx="586.1" cy="647.5" r="3.6" fill="url(#gW)"/>
<circle cx="591.3" cy="647.9" r="3.6" fill="url(#gW)"/>
<circle cx="594.4" cy="651" r="3.6" fill="url(#gW)"/>
<circle cx="585.6" cy="652.7" r="3.6" fill="url(#gW)"/>
<circle cx="586.1" cy="656.7" r="3.6" fill="url(#gW)"/>
<circle cx="591.8" cy="655.3" r="3.6" fill="url(#gW)"/>
<circle cx="593.1" cy="644.8" r="3.4" fill="url(#gN)"/>
<circle cx="581.3" cy="653.2" r="3.4" fill="url(#gN)"/>
<circle cx="594.4" cy="659.3" r="3.4" fill="url(#gN)"/>
<circle cx="612.3" cy="674.1" r="3.3" fill="url(#gN2)"/>
<circle cx="626.7" cy="679.8" r="3.3" fill="url(#gN2)"/>
<circle cx="613.6" cy="689" r="3.3" fill="url(#gN2)"/>
<circle cx="617.5" cy="682" r="3.2" fill="url(#gN2)"/>
<circle cx="614.5" cy="677.2" r="3.6" fill="url(#gW)"/>
<circle cx="619.7" cy="677.6" r="3.6" fill="url(#gW)"/>
<circle cx="622.8" cy="680.7" r="3.6" fill="url(#gW)"/>
<circle cx="614" cy="682.4" r="3.6" fill="url(#gW)"/>
<circle cx="614.5" cy="686.4" r="3.6" fill="url(#gW)"/>
<circle cx="620.2" cy="685" r="3.6" fill="url(#gW)"/>
<circle cx="621.5" cy="674.5" r="3.4" fill="url(#gN)"/>
<circle cx="609.7" cy="682.9" r="3.4" fill="url(#gN)"/>
<circle cx="622.8" cy="689" r="3.4" fill="url(#gN)"/>
<circle cx="578.3" cy="574" r="4" fill="url(#gK)"/>
<text x="578" y="576" font-size="5.6" text-anchor="middle" fill="#222">K<tspan font-size="3.6" dy="-2.2">+</tspan></text>
<circle cx="638.3" cy="587.5" r="4" fill="url(#gK)"/>
<text x="638" y="589.5" font-size="5.6" text-anchor="middle" fill="#222">K<tspan font-size="3.6" dy="-2.2">+</tspan></text>
<circle cx="626.9" cy="654.2" r="4" fill="url(#gK)"/>
<text x="626.6" y="656.2" font-size="5.6" text-anchor="middle" fill="#222">K<tspan font-size="3.6" dy="-2.2">+</tspan></text>
<circle cx="591" cy="673.4" r="4" fill="url(#gK)"/>
<text x="590.7" y="675.4" font-size="5.6" text-anchor="middle" fill="#222">K<tspan font-size="3.6" dy="-2.2">+</tspan></text>
<circle cx="638.3" cy="604.5" r="4.3" fill="url(#gCl)"/>
<text x="638.3" y="606.5" font-size="5.8" text-anchor="middle" fill="#0a2a50" font-weight="bold">Cl</text>
<circle cx="575.6" cy="635.6" r="4.3" fill="url(#gCl)"/>
<text x="575.6" y="637.6" font-size="5.8" text-anchor="middle" fill="#0a2a50" font-weight="bold">Cl</text>
<circle cx="637.7" cy="661.8" r="4.3" fill="url(#gCl)"/>
<text x="637.7" y="663.8" font-size="5.8" text-anchor="middle" fill="#0a2a50" font-weight="bold">Cl</text>
<circle cx="585.1" cy="688" r="4.3" fill="url(#gCl)"/>
<text x="585.1" y="690" font-size="5.8" text-anchor="middle" fill="#0a2a50" font-weight="bold">Cl</text>
</svg>
</body></html>
